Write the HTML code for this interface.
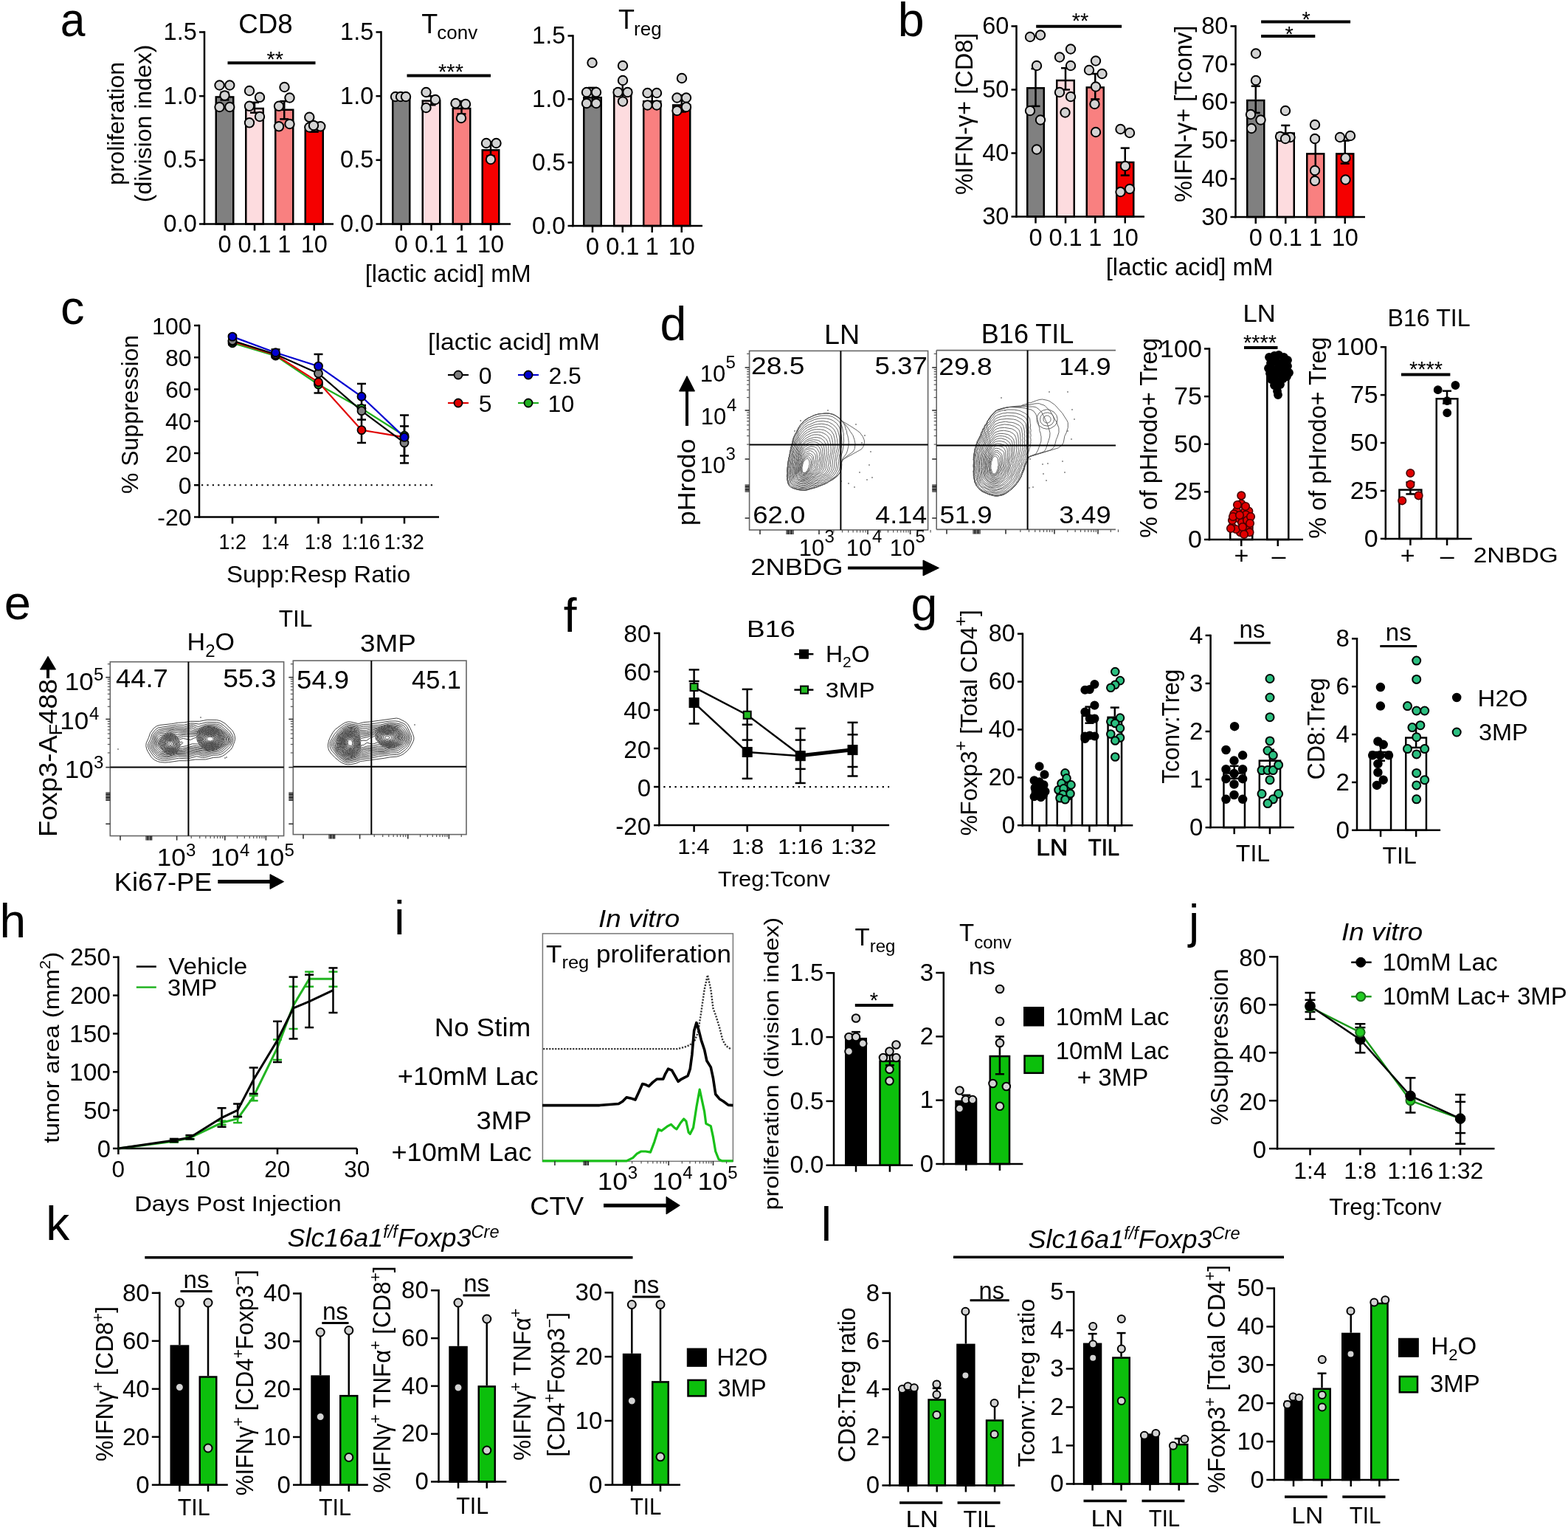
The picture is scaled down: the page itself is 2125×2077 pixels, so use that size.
<!DOCTYPE html>
<html><head><meta charset="utf-8"><title>Figure</title>
<style>html,body{margin:0;padding:0;background:#fff;}svg{display:block;}
text{font-family:"Liberation Sans", Arial, sans-serif;}</style></head>
<body><svg width="2125" height="2077" viewBox="0 0 2125 2077">
<rect x="0" y="0" width="2125" height="2077" fill="#fff"/>
<text x="81.78" y="49.4" font-size="64.5" textLength="33.69" lengthAdjust="spacingAndGlyphs">a</text>
<rect x="292.75" y="131.42" width="23.5" height="172.08" fill="#808080" stroke="#000" stroke-width="2.5"/>
<rect x="333.25" y="147.02" width="23.5" height="156.48" fill="#fddcdf" stroke="#000" stroke-width="2.5"/>
<rect x="373.25" y="148.75" width="24" height="154.75" fill="#f98080" stroke="#000" stroke-width="2.5"/>
<rect x="413.75" y="176.48" width="24" height="127.02" fill="#f50000" stroke="#000" stroke-width="2.5"/>
<line x1="304.5" y1="130.17" x2="304.5" y2="135.37" stroke="#000" stroke-width="2.5"/>
<line x1="298.5" y1="135.37" x2="310.5" y2="135.37" stroke="#000" stroke-width="2.5"/>
<line x1="304.5" y1="130.17" x2="304.5" y2="124.97" stroke="#000" stroke-width="2.5"/>
<line x1="298.5" y1="124.97" x2="310.5" y2="124.97" stroke="#000" stroke-width="2.5"/>
<line x1="345" y1="145.77" x2="345" y2="152.7" stroke="#000" stroke-width="2.5"/>
<line x1="339" y1="152.7" x2="351" y2="152.7" stroke="#000" stroke-width="2.5"/>
<line x1="345" y1="145.77" x2="345" y2="138.83" stroke="#000" stroke-width="2.5"/>
<line x1="339" y1="138.83" x2="351" y2="138.83" stroke="#000" stroke-width="2.5"/>
<line x1="385.25" y1="147.5" x2="385.25" y2="161.37" stroke="#000" stroke-width="2.5"/>
<line x1="379.25" y1="161.37" x2="391.25" y2="161.37" stroke="#000" stroke-width="2.5"/>
<line x1="385.25" y1="147.5" x2="385.25" y2="137.1" stroke="#000" stroke-width="2.5"/>
<line x1="379.25" y1="137.1" x2="391.25" y2="137.1" stroke="#000" stroke-width="2.5"/>
<line x1="425.75" y1="175.23" x2="425.75" y2="178.7" stroke="#000" stroke-width="2.5"/>
<line x1="419.75" y1="178.7" x2="431.75" y2="178.7" stroke="#000" stroke-width="2.5"/>
<line x1="425.75" y1="175.23" x2="425.75" y2="171.77" stroke="#000" stroke-width="2.5"/>
<line x1="419.75" y1="171.77" x2="431.75" y2="171.77" stroke="#000" stroke-width="2.5"/>
<circle cx="297.5" cy="115.5" r="6.2" fill="#d3d3d3" stroke="#000" stroke-width="2"/>
<circle cx="311.3" cy="115.5" r="6.2" fill="#d3d3d3" stroke="#000" stroke-width="2"/>
<circle cx="304.5" cy="129.5" r="6.2" fill="#d3d3d3" stroke="#000" stroke-width="2"/>
<circle cx="297.5" cy="145" r="6.2" fill="#d3d3d3" stroke="#000" stroke-width="2"/>
<circle cx="311.3" cy="145" r="6.2" fill="#d3d3d3" stroke="#000" stroke-width="2"/>
<circle cx="338" cy="123" r="6.2" fill="#d3d3d3" stroke="#000" stroke-width="2"/>
<circle cx="352" cy="131.8" r="6.2" fill="#d3d3d3" stroke="#000" stroke-width="2"/>
<circle cx="338" cy="143.8" r="6.2" fill="#d3d3d3" stroke="#000" stroke-width="2"/>
<circle cx="352" cy="158" r="6.2" fill="#d3d3d3" stroke="#000" stroke-width="2"/>
<circle cx="338" cy="166.3" r="6.2" fill="#d3d3d3" stroke="#000" stroke-width="2"/>
<circle cx="385.5" cy="118" r="6.2" fill="#d3d3d3" stroke="#000" stroke-width="2"/>
<circle cx="392.5" cy="132.5" r="6.2" fill="#d3d3d3" stroke="#000" stroke-width="2"/>
<circle cx="378" cy="143.8" r="6.2" fill="#d3d3d3" stroke="#000" stroke-width="2"/>
<circle cx="378" cy="171.3" r="6.2" fill="#d3d3d3" stroke="#000" stroke-width="2"/>
<circle cx="392.5" cy="168" r="6.2" fill="#d3d3d3" stroke="#000" stroke-width="2"/>
<circle cx="419.3" cy="158.8" r="6.2" fill="#d3d3d3" stroke="#000" stroke-width="2"/>
<circle cx="419.3" cy="172.5" r="6.2" fill="#d3d3d3" stroke="#000" stroke-width="2"/>
<circle cx="427.5" cy="171.3" r="6.2" fill="#d3d3d3" stroke="#000" stroke-width="2"/>
<circle cx="434.3" cy="171.3" r="6.2" fill="#d3d3d3" stroke="#000" stroke-width="2"/>
<circle cx="425" cy="170" r="6.2" fill="#d3d3d3" stroke="#000" stroke-width="2"/>
<line x1="277" y1="42.25" x2="277" y2="304.75" stroke="#000" stroke-width="2.5"/>
<line x1="275.75" y1="303.5" x2="452" y2="303.5" stroke="#000" stroke-width="2.5"/>
<line x1="270" y1="303.5" x2="277" y2="303.5" stroke="#000" stroke-width="2.5"/>
<line x1="270" y1="216.83" x2="277" y2="216.83" stroke="#000" stroke-width="2.5"/>
<line x1="270" y1="130.17" x2="277" y2="130.17" stroke="#000" stroke-width="2.5"/>
<line x1="270" y1="43.5" x2="277" y2="43.5" stroke="#000" stroke-width="2.5"/>
<text x="266.8" y="314.04" font-size="32.5" text-anchor="end">0.0</text>
<text x="266.8" y="227.37" font-size="32.5" text-anchor="end">0.5</text>
<text x="266.8" y="140.7" font-size="32.5" text-anchor="end">1.0</text>
<text x="266.8" y="54.04" font-size="32.5" text-anchor="end">1.5</text>
<line x1="304.5" y1="303.5" x2="304.5" y2="312.5" stroke="#000" stroke-width="2.5"/>
<line x1="345" y1="303.5" x2="345" y2="312.5" stroke="#000" stroke-width="2.5"/>
<line x1="385.25" y1="303.5" x2="385.25" y2="312.5" stroke="#000" stroke-width="2.5"/>
<line x1="425.75" y1="303.5" x2="425.75" y2="312.5" stroke="#000" stroke-width="2.5"/>
<text x="323.26" y="44.9" font-size="36" textLength="73.42" lengthAdjust="spacingAndGlyphs">CD8</text>
<line x1="308.5" y1="85.3" x2="427.5" y2="85.3" stroke="#000" stroke-width="4"/>
<text x="372.7" y="89.9" font-size="29" text-anchor="middle">**</text>
<text x="304.5" y="342" font-size="32.5" text-anchor="middle">0</text>
<text x="345" y="342" font-size="32.5" text-anchor="middle">0.1</text>
<text x="385.3" y="342" font-size="32.5" text-anchor="middle">1</text>
<text x="425.8" y="342" font-size="32.5" text-anchor="middle">10</text>
<text x="0" y="0" font-size="32" transform="translate(168,251.1) rotate(-90)">proliferation</text>
<text x="0" y="0" font-size="32" transform="translate(205,274.14) rotate(-90)">(division index)</text>
<rect x="532.25" y="131.42" width="23" height="172.08" fill="#808080" stroke="#000" stroke-width="2.5"/>
<rect x="572.75" y="136.62" width="23.5" height="166.88" fill="#fddcdf" stroke="#000" stroke-width="2.5"/>
<rect x="613.75" y="147.02" width="23.5" height="156.48" fill="#f98080" stroke="#000" stroke-width="2.5"/>
<rect x="653.75" y="203.35" width="22.5" height="100.15" fill="#f50000" stroke="#000" stroke-width="2.5"/>
<line x1="543.75" y1="130.17" x2="543.75" y2="131.9" stroke="#000" stroke-width="2.5"/>
<line x1="537.75" y1="131.9" x2="549.75" y2="131.9" stroke="#000" stroke-width="2.5"/>
<line x1="543.75" y1="130.17" x2="543.75" y2="128.43" stroke="#000" stroke-width="2.5"/>
<line x1="537.75" y1="128.43" x2="549.75" y2="128.43" stroke="#000" stroke-width="2.5"/>
<line x1="584.5" y1="135.37" x2="584.5" y2="142.3" stroke="#000" stroke-width="2.5"/>
<line x1="578.5" y1="142.3" x2="590.5" y2="142.3" stroke="#000" stroke-width="2.5"/>
<line x1="584.5" y1="135.37" x2="584.5" y2="130.17" stroke="#000" stroke-width="2.5"/>
<line x1="578.5" y1="130.17" x2="590.5" y2="130.17" stroke="#000" stroke-width="2.5"/>
<line x1="625.5" y1="145.77" x2="625.5" y2="154.43" stroke="#000" stroke-width="2.5"/>
<line x1="619.5" y1="154.43" x2="631.5" y2="154.43" stroke="#000" stroke-width="2.5"/>
<line x1="625.5" y1="145.77" x2="625.5" y2="137.1" stroke="#000" stroke-width="2.5"/>
<line x1="619.5" y1="137.1" x2="631.5" y2="137.1" stroke="#000" stroke-width="2.5"/>
<line x1="665" y1="202.1" x2="665" y2="211.63" stroke="#000" stroke-width="2.5"/>
<line x1="659" y1="211.63" x2="671" y2="211.63" stroke="#000" stroke-width="2.5"/>
<line x1="665" y1="202.1" x2="665" y2="192.57" stroke="#000" stroke-width="2.5"/>
<line x1="659" y1="192.57" x2="671" y2="192.57" stroke="#000" stroke-width="2.5"/>
<circle cx="536" cy="131" r="6.2" fill="#d3d3d3" stroke="#000" stroke-width="2"/>
<circle cx="543" cy="131" r="6.2" fill="#d3d3d3" stroke="#000" stroke-width="2"/>
<circle cx="550" cy="131" r="6.2" fill="#d3d3d3" stroke="#000" stroke-width="2"/>
<circle cx="577.5" cy="125" r="6.2" fill="#d3d3d3" stroke="#000" stroke-width="2"/>
<circle cx="590" cy="135" r="6.2" fill="#d3d3d3" stroke="#000" stroke-width="2"/>
<circle cx="577.5" cy="146" r="6.2" fill="#d3d3d3" stroke="#000" stroke-width="2"/>
<circle cx="617.5" cy="140" r="6.2" fill="#d3d3d3" stroke="#000" stroke-width="2"/>
<circle cx="631" cy="141" r="6.2" fill="#d3d3d3" stroke="#000" stroke-width="2"/>
<circle cx="625" cy="160" r="6.2" fill="#d3d3d3" stroke="#000" stroke-width="2"/>
<circle cx="659" cy="194" r="6.2" fill="#d3d3d3" stroke="#000" stroke-width="2"/>
<circle cx="672.5" cy="194" r="6.2" fill="#d3d3d3" stroke="#000" stroke-width="2"/>
<circle cx="665" cy="216" r="6.2" fill="#d3d3d3" stroke="#000" stroke-width="2"/>
<line x1="516.5" y1="42.25" x2="516.5" y2="304.75" stroke="#000" stroke-width="2.5"/>
<line x1="515.25" y1="303.5" x2="692" y2="303.5" stroke="#000" stroke-width="2.5"/>
<line x1="509.5" y1="303.5" x2="516.5" y2="303.5" stroke="#000" stroke-width="2.5"/>
<line x1="509.5" y1="216.83" x2="516.5" y2="216.83" stroke="#000" stroke-width="2.5"/>
<line x1="509.5" y1="130.17" x2="516.5" y2="130.17" stroke="#000" stroke-width="2.5"/>
<line x1="509.5" y1="43.5" x2="516.5" y2="43.5" stroke="#000" stroke-width="2.5"/>
<text x="506.3" y="314.04" font-size="32.5" text-anchor="end">0.0</text>
<text x="506.3" y="227.37" font-size="32.5" text-anchor="end">0.5</text>
<text x="506.3" y="140.7" font-size="32.5" text-anchor="end">1.0</text>
<text x="506.3" y="54.04" font-size="32.5" text-anchor="end">1.5</text>
<line x1="543.75" y1="303.5" x2="543.75" y2="312.5" stroke="#000" stroke-width="2.5"/>
<line x1="584.5" y1="303.5" x2="584.5" y2="312.5" stroke="#000" stroke-width="2.5"/>
<line x1="625.5" y1="303.5" x2="625.5" y2="312.5" stroke="#000" stroke-width="2.5"/>
<line x1="665" y1="303.5" x2="665" y2="312.5" stroke="#000" stroke-width="2.5"/>
<text x="571.28" y="45" font-size="36">T</text>
<text x="592.26" y="53" font-size="26">conv</text>
<line x1="551.5" y1="102.5" x2="665" y2="102.5" stroke="#000" stroke-width="4"/>
<text x="611" y="107.1" font-size="29" text-anchor="middle">***</text>
<text x="543.8" y="342" font-size="32.5" text-anchor="middle">0</text>
<text x="584.5" y="342" font-size="32.5" text-anchor="middle">0.1</text>
<text x="625.5" y="342" font-size="32.5" text-anchor="middle">1</text>
<text x="665" y="342" font-size="32.5" text-anchor="middle">10</text>
<text x="494.71" y="382" font-size="32.5" textLength="225.07" lengthAdjust="spacingAndGlyphs">[lactic acid] mM</text>
<rect x="791.25" y="132.15" width="23.5" height="173.85" fill="#808080" stroke="#000" stroke-width="2.5"/>
<rect x="832.25" y="121.85" width="23" height="184.15" fill="#fddcdf" stroke="#000" stroke-width="2.5"/>
<rect x="872.25" y="137.3" width="23" height="168.7" fill="#f98080" stroke="#000" stroke-width="2.5"/>
<rect x="912.25" y="142.45" width="23" height="163.55" fill="#f50000" stroke="#000" stroke-width="2.5"/>
<line x1="803" y1="130.9" x2="803" y2="142.92" stroke="#000" stroke-width="2.5"/>
<line x1="797" y1="142.92" x2="809" y2="142.92" stroke="#000" stroke-width="2.5"/>
<line x1="803" y1="130.9" x2="803" y2="118.88" stroke="#000" stroke-width="2.5"/>
<line x1="797" y1="118.88" x2="809" y2="118.88" stroke="#000" stroke-width="2.5"/>
<line x1="843.75" y1="120.6" x2="843.75" y2="134.33" stroke="#000" stroke-width="2.5"/>
<line x1="837.75" y1="134.33" x2="849.75" y2="134.33" stroke="#000" stroke-width="2.5"/>
<line x1="843.75" y1="120.6" x2="843.75" y2="110.3" stroke="#000" stroke-width="2.5"/>
<line x1="837.75" y1="110.3" x2="849.75" y2="110.3" stroke="#000" stroke-width="2.5"/>
<line x1="883.75" y1="136.05" x2="883.75" y2="141.2" stroke="#000" stroke-width="2.5"/>
<line x1="877.75" y1="141.2" x2="889.75" y2="141.2" stroke="#000" stroke-width="2.5"/>
<line x1="883.75" y1="136.05" x2="883.75" y2="129.18" stroke="#000" stroke-width="2.5"/>
<line x1="877.75" y1="129.18" x2="889.75" y2="129.18" stroke="#000" stroke-width="2.5"/>
<line x1="923.75" y1="141.2" x2="923.75" y2="151.5" stroke="#000" stroke-width="2.5"/>
<line x1="917.75" y1="151.5" x2="929.75" y2="151.5" stroke="#000" stroke-width="2.5"/>
<line x1="923.75" y1="141.2" x2="923.75" y2="129.18" stroke="#000" stroke-width="2.5"/>
<line x1="917.75" y1="129.18" x2="929.75" y2="129.18" stroke="#000" stroke-width="2.5"/>
<circle cx="802.5" cy="85" r="6.2" fill="#d3d3d3" stroke="#000" stroke-width="2"/>
<circle cx="795" cy="125" r="6.2" fill="#d3d3d3" stroke="#000" stroke-width="2"/>
<circle cx="808" cy="125" r="6.2" fill="#d3d3d3" stroke="#000" stroke-width="2"/>
<circle cx="795" cy="140" r="6.2" fill="#d3d3d3" stroke="#000" stroke-width="2"/>
<circle cx="808" cy="140" r="6.2" fill="#d3d3d3" stroke="#000" stroke-width="2"/>
<circle cx="844" cy="89" r="6.2" fill="#d3d3d3" stroke="#000" stroke-width="2"/>
<circle cx="844" cy="109" r="6.2" fill="#d3d3d3" stroke="#000" stroke-width="2"/>
<circle cx="837.5" cy="125" r="6.2" fill="#d3d3d3" stroke="#000" stroke-width="2"/>
<circle cx="850.5" cy="125" r="6.2" fill="#d3d3d3" stroke="#000" stroke-width="2"/>
<circle cx="844" cy="137.5" r="6.2" fill="#d3d3d3" stroke="#000" stroke-width="2"/>
<circle cx="877.5" cy="126" r="6.2" fill="#d3d3d3" stroke="#000" stroke-width="2"/>
<circle cx="890" cy="126" r="6.2" fill="#d3d3d3" stroke="#000" stroke-width="2"/>
<circle cx="877.5" cy="142.5" r="6.2" fill="#d3d3d3" stroke="#000" stroke-width="2"/>
<circle cx="890" cy="142.5" r="6.2" fill="#d3d3d3" stroke="#000" stroke-width="2"/>
<circle cx="924" cy="106" r="6.2" fill="#d3d3d3" stroke="#000" stroke-width="2"/>
<circle cx="917.5" cy="132.5" r="6.2" fill="#d3d3d3" stroke="#000" stroke-width="2"/>
<circle cx="930" cy="132.5" r="6.2" fill="#d3d3d3" stroke="#000" stroke-width="2"/>
<circle cx="917.5" cy="150" r="6.2" fill="#d3d3d3" stroke="#000" stroke-width="2"/>
<circle cx="930" cy="145" r="6.2" fill="#d3d3d3" stroke="#000" stroke-width="2"/>
<line x1="776.5" y1="47.25" x2="776.5" y2="307.25" stroke="#000" stroke-width="2.5"/>
<line x1="775.25" y1="306" x2="952" y2="306" stroke="#000" stroke-width="2.5"/>
<line x1="769.5" y1="306" x2="776.5" y2="306" stroke="#000" stroke-width="2.5"/>
<line x1="769.5" y1="220.17" x2="776.5" y2="220.17" stroke="#000" stroke-width="2.5"/>
<line x1="769.5" y1="134.33" x2="776.5" y2="134.33" stroke="#000" stroke-width="2.5"/>
<line x1="769.5" y1="48.5" x2="776.5" y2="48.5" stroke="#000" stroke-width="2.5"/>
<text x="766.3" y="316.54" font-size="32.5" text-anchor="end">0.0</text>
<text x="766.3" y="230.7" font-size="32.5" text-anchor="end">0.5</text>
<text x="766.3" y="144.87" font-size="32.5" text-anchor="end">1.0</text>
<text x="766.3" y="59.04" font-size="32.5" text-anchor="end">1.5</text>
<line x1="803" y1="306" x2="803" y2="315" stroke="#000" stroke-width="2.5"/>
<line x1="843.75" y1="306" x2="843.75" y2="315" stroke="#000" stroke-width="2.5"/>
<line x1="883.75" y1="306" x2="883.75" y2="315" stroke="#000" stroke-width="2.5"/>
<line x1="923.75" y1="306" x2="923.75" y2="315" stroke="#000" stroke-width="2.5"/>
<text x="838.08" y="39" font-size="36">T</text>
<text x="859.11" y="48.4" font-size="26">reg</text>
<text x="803" y="345" font-size="32.5" text-anchor="middle">0</text>
<text x="843.8" y="345" font-size="32.5" text-anchor="middle">0.1</text>
<text x="883.8" y="345" font-size="32.5" text-anchor="middle">1</text>
<text x="923.8" y="345" font-size="32.5" text-anchor="middle">10</text>
<text x="1216.71" y="49.2" font-size="64.5">b</text>
<rect x="1392.25" y="119.31" width="22.5" height="174.19" fill="#808080" stroke="#000" stroke-width="2.5"/>
<rect x="1432.25" y="108.99" width="23.5" height="184.51" fill="#fddcdf" stroke="#000" stroke-width="2.5"/>
<rect x="1472.75" y="118.45" width="23" height="175.05" fill="#f98080" stroke="#000" stroke-width="2.5"/>
<rect x="1513.25" y="219.93" width="23" height="73.57" fill="#f50000" stroke="#000" stroke-width="2.5"/>
<line x1="1403.5" y1="118.06" x2="1403.5" y2="143.86" stroke="#000" stroke-width="2.5"/>
<line x1="1397.5" y1="143.86" x2="1409.5" y2="143.86" stroke="#000" stroke-width="2.5"/>
<line x1="1403.5" y1="118.06" x2="1403.5" y2="93.12" stroke="#000" stroke-width="2.5"/>
<line x1="1397.5" y1="93.12" x2="1409.5" y2="93.12" stroke="#000" stroke-width="2.5"/>
<line x1="1444" y1="107.74" x2="1444" y2="121.5" stroke="#000" stroke-width="2.5"/>
<line x1="1438" y1="121.5" x2="1450" y2="121.5" stroke="#000" stroke-width="2.5"/>
<line x1="1444" y1="107.74" x2="1444" y2="92.26" stroke="#000" stroke-width="2.5"/>
<line x1="1438" y1="92.26" x2="1450" y2="92.26" stroke="#000" stroke-width="2.5"/>
<line x1="1484.25" y1="117.2" x2="1484.25" y2="134.4" stroke="#000" stroke-width="2.5"/>
<line x1="1478.25" y1="134.4" x2="1490.25" y2="134.4" stroke="#000" stroke-width="2.5"/>
<line x1="1484.25" y1="117.2" x2="1484.25" y2="100" stroke="#000" stroke-width="2.5"/>
<line x1="1478.25" y1="100" x2="1490.25" y2="100" stroke="#000" stroke-width="2.5"/>
<line x1="1524.75" y1="218.68" x2="1524.75" y2="237.6" stroke="#000" stroke-width="2.5"/>
<line x1="1518.75" y1="237.6" x2="1530.75" y2="237.6" stroke="#000" stroke-width="2.5"/>
<line x1="1524.75" y1="218.68" x2="1524.75" y2="200.62" stroke="#000" stroke-width="2.5"/>
<line x1="1518.75" y1="200.62" x2="1530.75" y2="200.62" stroke="#000" stroke-width="2.5"/>
<circle cx="1396" cy="50" r="6.2" fill="#d3d3d3" stroke="#000" stroke-width="2"/>
<circle cx="1410" cy="47.5" r="6.2" fill="#d3d3d3" stroke="#000" stroke-width="2"/>
<circle cx="1405" cy="89" r="6.2" fill="#d3d3d3" stroke="#000" stroke-width="2"/>
<circle cx="1396" cy="150" r="6.2" fill="#d3d3d3" stroke="#000" stroke-width="2"/>
<circle cx="1410" cy="162.5" r="6.2" fill="#d3d3d3" stroke="#000" stroke-width="2"/>
<circle cx="1405" cy="202.5" r="6.2" fill="#d3d3d3" stroke="#000" stroke-width="2"/>
<circle cx="1436" cy="77.5" r="6.2" fill="#d3d3d3" stroke="#000" stroke-width="2"/>
<circle cx="1451" cy="66.5" r="6.2" fill="#d3d3d3" stroke="#000" stroke-width="2"/>
<circle cx="1451" cy="89" r="6.2" fill="#d3d3d3" stroke="#000" stroke-width="2"/>
<circle cx="1436" cy="125" r="6.2" fill="#d3d3d3" stroke="#000" stroke-width="2"/>
<circle cx="1451" cy="131" r="6.2" fill="#d3d3d3" stroke="#000" stroke-width="2"/>
<circle cx="1443.5" cy="152.5" r="6.2" fill="#d3d3d3" stroke="#000" stroke-width="2"/>
<circle cx="1485" cy="82.5" r="6.2" fill="#d3d3d3" stroke="#000" stroke-width="2"/>
<circle cx="1476" cy="95" r="6.2" fill="#d3d3d3" stroke="#000" stroke-width="2"/>
<circle cx="1493.5" cy="100" r="6.2" fill="#d3d3d3" stroke="#000" stroke-width="2"/>
<circle cx="1485" cy="117.5" r="6.2" fill="#d3d3d3" stroke="#000" stroke-width="2"/>
<circle cx="1483.5" cy="141" r="6.2" fill="#d3d3d3" stroke="#000" stroke-width="2"/>
<circle cx="1485" cy="179" r="6.2" fill="#d3d3d3" stroke="#000" stroke-width="2"/>
<circle cx="1518.5" cy="175" r="6.2" fill="#d3d3d3" stroke="#000" stroke-width="2"/>
<circle cx="1531" cy="180" r="6.2" fill="#d3d3d3" stroke="#000" stroke-width="2"/>
<circle cx="1525" cy="225" r="6.2" fill="#d3d3d3" stroke="#000" stroke-width="2"/>
<circle cx="1518.5" cy="260" r="6.2" fill="#d3d3d3" stroke="#000" stroke-width="2"/>
<circle cx="1531" cy="256" r="6.2" fill="#d3d3d3" stroke="#000" stroke-width="2"/>
<line x1="1377.5" y1="34.25" x2="1377.5" y2="294.75" stroke="#000" stroke-width="2.5"/>
<line x1="1376.25" y1="293.5" x2="1551" y2="293.5" stroke="#000" stroke-width="2.5"/>
<line x1="1370.5" y1="293.5" x2="1377.5" y2="293.5" stroke="#000" stroke-width="2.5"/>
<line x1="1370.5" y1="207.5" x2="1377.5" y2="207.5" stroke="#000" stroke-width="2.5"/>
<line x1="1370.5" y1="121.5" x2="1377.5" y2="121.5" stroke="#000" stroke-width="2.5"/>
<line x1="1370.5" y1="35.5" x2="1377.5" y2="35.5" stroke="#000" stroke-width="2.5"/>
<text x="1367.3" y="304.04" font-size="32.5" text-anchor="end">30</text>
<text x="1367.3" y="218.04" font-size="32.5" text-anchor="end">40</text>
<text x="1367.3" y="132.04" font-size="32.5" text-anchor="end">50</text>
<text x="1367.3" y="46.04" font-size="32.5" text-anchor="end">60</text>
<line x1="1403.5" y1="293.5" x2="1403.5" y2="302.5" stroke="#000" stroke-width="2.5"/>
<line x1="1444" y1="293.5" x2="1444" y2="302.5" stroke="#000" stroke-width="2.5"/>
<line x1="1484.25" y1="293.5" x2="1484.25" y2="302.5" stroke="#000" stroke-width="2.5"/>
<line x1="1524.75" y1="293.5" x2="1524.75" y2="302.5" stroke="#000" stroke-width="2.5"/>
<line x1="1404.2" y1="35.8" x2="1520.1" y2="35.8" stroke="#000" stroke-width="4"/>
<text x="1464.1" y="38" font-size="29" text-anchor="middle">**</text>
<text x="1403.5" y="332.5" font-size="32.5" text-anchor="middle">0</text>
<text x="1444" y="332.5" font-size="32.5" text-anchor="middle">0.1</text>
<text x="1484.3" y="332.5" font-size="32.5" text-anchor="middle">1</text>
<text x="1524.8" y="332.5" font-size="32.5" text-anchor="middle">10</text>
<text x="0" y="0" font-size="32.5" transform="translate(1318,264.12) rotate(-90)">%IFN-γ+ [CD8]</text>
<rect x="1690.25" y="136.01" width="23" height="157.99" fill="#808080" stroke="#000" stroke-width="2.5"/>
<rect x="1730.75" y="180.48" width="23" height="113.52" fill="#fddcdf" stroke="#000" stroke-width="2.5"/>
<rect x="1771.25" y="208.39" width="23" height="85.61" fill="#f98080" stroke="#000" stroke-width="2.5"/>
<rect x="1811.25" y="208.39" width="23" height="85.61" fill="#f50000" stroke="#000" stroke-width="2.5"/>
<line x1="1701.75" y1="134.76" x2="1701.75" y2="152.86" stroke="#000" stroke-width="2.5"/>
<line x1="1695.75" y1="152.86" x2="1707.75" y2="152.86" stroke="#000" stroke-width="2.5"/>
<line x1="1701.75" y1="134.76" x2="1701.75" y2="116.67" stroke="#000" stroke-width="2.5"/>
<line x1="1695.75" y1="116.67" x2="1707.75" y2="116.67" stroke="#000" stroke-width="2.5"/>
<line x1="1742.25" y1="179.23" x2="1742.25" y2="186.98" stroke="#000" stroke-width="2.5"/>
<line x1="1736.25" y1="186.98" x2="1748.25" y2="186.98" stroke="#000" stroke-width="2.5"/>
<line x1="1742.25" y1="179.23" x2="1742.25" y2="169.92" stroke="#000" stroke-width="2.5"/>
<line x1="1736.25" y1="169.92" x2="1748.25" y2="169.92" stroke="#000" stroke-width="2.5"/>
<line x1="1782.75" y1="207.14" x2="1782.75" y2="229.38" stroke="#000" stroke-width="2.5"/>
<line x1="1776.75" y1="229.38" x2="1788.75" y2="229.38" stroke="#000" stroke-width="2.5"/>
<line x1="1782.75" y1="207.14" x2="1782.75" y2="185.43" stroke="#000" stroke-width="2.5"/>
<line x1="1776.75" y1="185.43" x2="1788.75" y2="185.43" stroke="#000" stroke-width="2.5"/>
<line x1="1822.75" y1="207.14" x2="1822.75" y2="221.62" stroke="#000" stroke-width="2.5"/>
<line x1="1816.75" y1="221.62" x2="1828.75" y2="221.62" stroke="#000" stroke-width="2.5"/>
<line x1="1822.75" y1="207.14" x2="1822.75" y2="190.6" stroke="#000" stroke-width="2.5"/>
<line x1="1816.75" y1="190.6" x2="1828.75" y2="190.6" stroke="#000" stroke-width="2.5"/>
<circle cx="1702" cy="72.5" r="6.2" fill="#d3d3d3" stroke="#000" stroke-width="2"/>
<circle cx="1702" cy="109" r="6.2" fill="#d3d3d3" stroke="#000" stroke-width="2"/>
<circle cx="1695" cy="155" r="6.2" fill="#d3d3d3" stroke="#000" stroke-width="2"/>
<circle cx="1708.5" cy="162.5" r="6.2" fill="#d3d3d3" stroke="#000" stroke-width="2"/>
<circle cx="1696" cy="174" r="6.2" fill="#d3d3d3" stroke="#000" stroke-width="2"/>
<circle cx="1742" cy="150" r="6.2" fill="#d3d3d3" stroke="#000" stroke-width="2"/>
<circle cx="1735" cy="185" r="6.2" fill="#d3d3d3" stroke="#000" stroke-width="2"/>
<circle cx="1748.5" cy="186" r="6.2" fill="#d3d3d3" stroke="#000" stroke-width="2"/>
<circle cx="1742" cy="188" r="6.2" fill="#d3d3d3" stroke="#000" stroke-width="2"/>
<circle cx="1782" cy="169" r="6.2" fill="#d3d3d3" stroke="#000" stroke-width="2"/>
<circle cx="1782" cy="188" r="6.2" fill="#d3d3d3" stroke="#000" stroke-width="2"/>
<circle cx="1782" cy="231" r="6.2" fill="#d3d3d3" stroke="#000" stroke-width="2"/>
<circle cx="1782" cy="245" r="6.2" fill="#d3d3d3" stroke="#000" stroke-width="2"/>
<circle cx="1816" cy="186" r="6.2" fill="#d3d3d3" stroke="#000" stroke-width="2"/>
<circle cx="1830" cy="184" r="6.2" fill="#d3d3d3" stroke="#000" stroke-width="2"/>
<circle cx="1823.5" cy="214" r="6.2" fill="#d3d3d3" stroke="#000" stroke-width="2"/>
<circle cx="1823.5" cy="243.5" r="6.2" fill="#d3d3d3" stroke="#000" stroke-width="2"/>
<line x1="1674.5" y1="34.25" x2="1674.5" y2="295.25" stroke="#000" stroke-width="2.5"/>
<line x1="1673.25" y1="294" x2="1850" y2="294" stroke="#000" stroke-width="2.5"/>
<line x1="1667.5" y1="294" x2="1674.5" y2="294" stroke="#000" stroke-width="2.5"/>
<line x1="1667.5" y1="242.3" x2="1674.5" y2="242.3" stroke="#000" stroke-width="2.5"/>
<line x1="1667.5" y1="190.6" x2="1674.5" y2="190.6" stroke="#000" stroke-width="2.5"/>
<line x1="1667.5" y1="138.9" x2="1674.5" y2="138.9" stroke="#000" stroke-width="2.5"/>
<line x1="1667.5" y1="87.2" x2="1674.5" y2="87.2" stroke="#000" stroke-width="2.5"/>
<line x1="1667.5" y1="35.5" x2="1674.5" y2="35.5" stroke="#000" stroke-width="2.5"/>
<text x="1664.3" y="304.54" font-size="32.5" text-anchor="end">30</text>
<text x="1664.3" y="252.84" font-size="32.5" text-anchor="end">40</text>
<text x="1664.3" y="201.14" font-size="32.5" text-anchor="end">50</text>
<text x="1664.3" y="149.44" font-size="32.5" text-anchor="end">60</text>
<text x="1664.3" y="97.74" font-size="32.5" text-anchor="end">70</text>
<text x="1664.3" y="46.04" font-size="32.5" text-anchor="end">80</text>
<line x1="1701.75" y1="294" x2="1701.75" y2="303" stroke="#000" stroke-width="2.5"/>
<line x1="1742.25" y1="294" x2="1742.25" y2="303" stroke="#000" stroke-width="2.5"/>
<line x1="1782.75" y1="294" x2="1782.75" y2="303" stroke="#000" stroke-width="2.5"/>
<line x1="1822.75" y1="294" x2="1822.75" y2="303" stroke="#000" stroke-width="2.5"/>
<line x1="1709.1" y1="29.6" x2="1830.1" y2="29.6" stroke="#000" stroke-width="4"/>
<text x="1770.2" y="35.7" font-size="29" text-anchor="middle">*</text>
<line x1="1709.1" y1="49" x2="1782.3" y2="49" stroke="#000" stroke-width="4"/>
<text x="1747.1" y="55.7" font-size="29" text-anchor="middle">*</text>
<text x="1701.8" y="332.5" font-size="32.5" text-anchor="middle">0</text>
<text x="1742.3" y="332.5" font-size="32.5" text-anchor="middle">0.1</text>
<text x="1782.8" y="332.5" font-size="32.5" text-anchor="middle">1</text>
<text x="1822.8" y="332.5" font-size="32.5" text-anchor="middle">10</text>
<text x="0" y="0" font-size="32.5" transform="translate(1615,274.03) rotate(-90)">%IFN-γ+ [Tconv]</text>
<text x="1498.7" y="372.5" font-size="32.5" textLength="226.61" lengthAdjust="spacingAndGlyphs">[lactic acid] mM</text>
<text x="82.1" y="439.2" font-size="65">c</text>
<line x1="270" y1="439.75" x2="270" y2="701.75" stroke="#000" stroke-width="2.5"/>
<line x1="268.75" y1="700.5" x2="595" y2="700.5" stroke="#000" stroke-width="2.5"/>
<line x1="263" y1="700.5" x2="270" y2="700.5" stroke="#000" stroke-width="2.5"/>
<text x="259.5" y="712" font-size="32" text-anchor="end">-20</text>
<line x1="263" y1="657.25" x2="270" y2="657.25" stroke="#000" stroke-width="2.5"/>
<text x="259.5" y="668.75" font-size="32" text-anchor="end">0</text>
<line x1="263" y1="614" x2="270" y2="614" stroke="#000" stroke-width="2.5"/>
<text x="259.5" y="625.5" font-size="32" text-anchor="end">20</text>
<line x1="263" y1="570.75" x2="270" y2="570.75" stroke="#000" stroke-width="2.5"/>
<text x="259.5" y="582.25" font-size="32" text-anchor="end">40</text>
<line x1="263" y1="527.5" x2="270" y2="527.5" stroke="#000" stroke-width="2.5"/>
<text x="259.5" y="539" font-size="32" text-anchor="end">60</text>
<line x1="263" y1="484.25" x2="270" y2="484.25" stroke="#000" stroke-width="2.5"/>
<text x="259.5" y="495.75" font-size="32" text-anchor="end">80</text>
<line x1="263" y1="441" x2="270" y2="441" stroke="#000" stroke-width="2.5"/>
<text x="259.5" y="452.5" font-size="32" text-anchor="end">100</text>
<line x1="315" y1="700.5" x2="315" y2="709.5" stroke="#000" stroke-width="2.5"/>
<line x1="373.5" y1="700.5" x2="373.5" y2="709.5" stroke="#000" stroke-width="2.5"/>
<line x1="431.5" y1="700.5" x2="431.5" y2="709.5" stroke="#000" stroke-width="2.5"/>
<line x1="490" y1="700.5" x2="490" y2="709.5" stroke="#000" stroke-width="2.5"/>
<line x1="548" y1="700.5" x2="548" y2="709.5" stroke="#000" stroke-width="2.5"/>
<text x="296.48" y="744" font-size="30" textLength="37.36" lengthAdjust="spacingAndGlyphs">1:2</text>
<text x="354.49" y="744" font-size="30" textLength="37.32" lengthAdjust="spacingAndGlyphs">1:4</text>
<text x="413" y="744" font-size="30" textLength="37.07" lengthAdjust="spacingAndGlyphs">1:8</text>
<text x="462.99" y="744" font-size="30" textLength="52.11" lengthAdjust="spacingAndGlyphs">1:16</text>
<text x="520.4" y="744" font-size="30" textLength="54.54" lengthAdjust="spacingAndGlyphs">1:32</text>
<text x="307.02" y="789" font-size="32" textLength="249.31" lengthAdjust="spacingAndGlyphs">Supp:Resp Ratio</text>
<text x="0" y="0" font-size="32" transform="translate(187,669.12) rotate(-90)">% Suppression</text>
<line x1="273" y1="657.25" x2="590" y2="657.25" stroke="#000" stroke-width="2.2" stroke-dasharray="2.2,5.2"/>
<line x1="315" y1="466.95" x2="315" y2="453.98" stroke="#000" stroke-width="2.5"/>
<line x1="309" y1="466.95" x2="321" y2="466.95" stroke="#000" stroke-width="2.5"/>
<line x1="309" y1="453.98" x2="321" y2="453.98" stroke="#000" stroke-width="2.5"/>
<line x1="373.5" y1="484.25" x2="373.5" y2="473.44" stroke="#000" stroke-width="2.5"/>
<line x1="367.5" y1="484.25" x2="379.5" y2="484.25" stroke="#000" stroke-width="2.5"/>
<line x1="367.5" y1="473.44" x2="379.5" y2="473.44" stroke="#000" stroke-width="2.5"/>
<line x1="431.5" y1="532.47" x2="431.5" y2="479.93" stroke="#000" stroke-width="2.5"/>
<line x1="425.5" y1="532.47" x2="437.5" y2="532.47" stroke="#000" stroke-width="2.5"/>
<line x1="425.5" y1="479.93" x2="437.5" y2="479.93" stroke="#000" stroke-width="2.5"/>
<line x1="490" y1="599.94" x2="490" y2="519.93" stroke="#000" stroke-width="2.5"/>
<line x1="484" y1="599.94" x2="496" y2="599.94" stroke="#000" stroke-width="2.5"/>
<line x1="484" y1="519.93" x2="496" y2="519.93" stroke="#000" stroke-width="2.5"/>
<line x1="490" y1="568.59" x2="490" y2="549.12" stroke="#000" stroke-width="2.5"/>
<line x1="484" y1="568.59" x2="496" y2="568.59" stroke="#000" stroke-width="2.5"/>
<line x1="484" y1="549.12" x2="496" y2="549.12" stroke="#000" stroke-width="2.5"/>
<line x1="548" y1="627.41" x2="548" y2="562.53" stroke="#000" stroke-width="2.5"/>
<line x1="542" y1="627.41" x2="554" y2="627.41" stroke="#000" stroke-width="2.5"/>
<line x1="542" y1="562.53" x2="554" y2="562.53" stroke="#000" stroke-width="2.5"/>
<line x1="548" y1="617.46" x2="548" y2="577.45" stroke="#000" stroke-width="2.5"/>
<line x1="542" y1="617.46" x2="554" y2="617.46" stroke="#000" stroke-width="2.5"/>
<line x1="542" y1="577.45" x2="554" y2="577.45" stroke="#000" stroke-width="2.5"/>
<path d="M315,464.79 L373.5,482.09 L431.5,521.01 L490,553.45 L548,590.21" stroke="#20b020" stroke-width="2.2" fill="none"/>
<path d="M315,462.62 L373.5,481.01 L431.5,517.77 L490,582.64 L548,592.38" stroke="#e00000" stroke-width="2.2" fill="none"/>
<path d="M315,461.54 L373.5,479.93 L431.5,505.88 L490,556.69 L548,599.94" stroke="#000" stroke-width="2.2" fill="none"/>
<path d="M315,456.14 L373.5,477.76 L431.5,496.14 L490,537.23 L548,592.38" stroke="#0000d0" stroke-width="2.2" fill="none"/>
<circle cx="315" cy="464.79" r="5.5" fill="#20b020" stroke="#000" stroke-width="1.8"/>
<circle cx="373.5" cy="482.09" r="5.5" fill="#20b020" stroke="#000" stroke-width="1.8"/>
<circle cx="431.5" cy="521.01" r="5.5" fill="#20b020" stroke="#000" stroke-width="1.8"/>
<circle cx="490" cy="553.45" r="5.5" fill="#20b020" stroke="#000" stroke-width="1.8"/>
<circle cx="548" cy="590.21" r="5.5" fill="#20b020" stroke="#000" stroke-width="1.8"/>
<circle cx="315" cy="462.62" r="5.5" fill="#e00000" stroke="#000" stroke-width="1.8"/>
<circle cx="373.5" cy="481.01" r="5.5" fill="#e00000" stroke="#000" stroke-width="1.8"/>
<circle cx="431.5" cy="517.77" r="5.5" fill="#e00000" stroke="#000" stroke-width="1.8"/>
<circle cx="490" cy="582.64" r="5.5" fill="#e00000" stroke="#000" stroke-width="1.8"/>
<circle cx="548" cy="592.38" r="5.5" fill="#e00000" stroke="#000" stroke-width="1.8"/>
<circle cx="315" cy="461.54" r="5.5" fill="#808080" stroke="#000" stroke-width="1.8"/>
<circle cx="373.5" cy="479.93" r="5.5" fill="#808080" stroke="#000" stroke-width="1.8"/>
<circle cx="431.5" cy="505.88" r="5.5" fill="#808080" stroke="#000" stroke-width="1.8"/>
<circle cx="490" cy="556.69" r="5.5" fill="#808080" stroke="#000" stroke-width="1.8"/>
<circle cx="548" cy="599.94" r="5.5" fill="#808080" stroke="#000" stroke-width="1.8"/>
<circle cx="315" cy="456.14" r="5.5" fill="#0000d0" stroke="#000" stroke-width="1.8"/>
<circle cx="373.5" cy="477.76" r="5.5" fill="#0000d0" stroke="#000" stroke-width="1.8"/>
<circle cx="431.5" cy="496.14" r="5.5" fill="#0000d0" stroke="#000" stroke-width="1.8"/>
<circle cx="490" cy="537.23" r="5.5" fill="#0000d0" stroke="#000" stroke-width="1.8"/>
<circle cx="548" cy="592.38" r="5.5" fill="#0000d0" stroke="#000" stroke-width="1.8"/>
<text x="580.14" y="474" font-size="32" textLength="232.74" lengthAdjust="spacingAndGlyphs">[lactic acid] mM</text>
<line x1="607" y1="508" x2="635" y2="508" stroke="#000" stroke-width="2.2"/>
<circle cx="621" cy="508" r="5.5" fill="#808080" stroke="#000" stroke-width="1.8"/>
<text x="648.72" y="520" font-size="32">0</text>
<line x1="702" y1="508" x2="730" y2="508" stroke="#0000d0" stroke-width="2.2"/>
<circle cx="716" cy="508" r="5.5" fill="#0000d0" stroke="#000" stroke-width="1.8"/>
<text x="743.4" y="520" font-size="32">2.5</text>
<line x1="607" y1="546" x2="635" y2="546" stroke="#e00000" stroke-width="2.2"/>
<circle cx="621" cy="546" r="5.5" fill="#e00000" stroke="#000" stroke-width="1.8"/>
<text x="648.72" y="558" font-size="32">5</text>
<line x1="702" y1="546" x2="730" y2="546" stroke="#20b020" stroke-width="2.2"/>
<circle cx="716" cy="546" r="5.5" fill="#20b020" stroke="#000" stroke-width="1.8"/>
<text x="742.6" y="558" font-size="32">10</text>
<text x="894.62" y="461.4" font-size="64.5">d</text>
<path d="M1067.5,631.0 1068.2,624.6 1069.0,620.0 1069.5,618.8 1069.4,617.9 1069.9,617.4 1070.5,613.5 1070.9,612.9 1070.9,609.9 1071.4,609.3 1071.3,608.0 1071.9,607.5 1072.0,604.9 1072.7,604.4 1073.0,601.8 1073.8,601.3 1074.5,596.7 1075.9,592.1 1077.1,589.0 1079.7,584.9 1080.4,582.5 1081.4,581.3 1082.4,579.1 1083.6,577.9 1084.7,575.9 1086.1,574.9 1090.4,569.8 1092.0,569.2 1095.4,566.5 1104.8,562.2 1110.8,560.7 1119.3,560.0 1123.5,560.2 1127.6,561.1 1133.3,563.6 1136.8,565.9 1141.1,570.4 1153.9,578.1 1161.6,583.2 1165.3,586.1 1169.3,591.6 1171.1,595.8 1171.5,598.1 1171.3,600.5 1170.6,603.2 1169.5,605.8 1167.3,608.7 1144.8,621.2 1142.3,623.0 1139.8,626.0 1139.2,629.8 1139.7,633.5 1139.1,638.5 1138.0,640.8 1135.3,643.8 1133.2,645.6 1129.7,647.8 1129.2,648.7 1124.9,651.1 1124.3,652.0 1122.3,653.0 1121.6,653.7 1115.8,656.1 1115.2,656.8 1108.3,659.2 1105.2,660.7 1091.1,664.6 1084.1,663.8 1079.7,663.0 1078.1,662.3 1076.1,662.2 1071.3,659.5 1069.4,657.4 1068.5,655.8 1067.5,650.9 1066.9,650.2 1067.0,646.3 1066.6,645.7 1067.2,641.3 1067.0,636.3 1067.5,631.6 Z M1067.6,631.0 1069.0,620.0 1069.7,618.9 1069.6,618.1 1070.3,616.1 1070.1,615.1 1070.6,614.5 1070.4,613.5 1070.8,612.9 1070.7,611.8 1071.2,611.3 1071.0,610.0 1071.6,609.5 1071.6,608.3 1072.1,607.7 1072.1,605.1 1072.7,604.4 1072.9,601.6 1073.7,601.1 1074.4,596.5 1075.3,593.6 1078.0,587.8 1079.7,585.1 1080.4,582.7 1084.7,575.7 1086.1,574.6 1090.4,569.7 1095.4,566.5 1102.8,562.8 1108.8,560.9 1119.2,560.0 1123.5,560.3 1127.6,561.2 1131.5,562.7 1136.6,566.1 1143.9,573.4 1150.3,581.2 1152.3,584.7 1155.8,589.6 1157.8,595.3 1159.0,601.2 1158.4,607.5 1157.3,609.8 1156.0,612.0 1145.9,619.5 1141.8,623.1 1141.5,624.5 1140.6,625.9 1139.9,634.8 1138.9,639.7 1135.7,643.9 1128.5,649.6 1124.5,652.1 1122.3,653.0 1121.7,653.8 1118.7,655.0 1118.1,655.7 1103.6,661.2 1099.4,661.9 1093.7,664.0 1091.1,664.3 1084.1,664.1 1080.5,663.4 1072.8,660.5 1070.5,659.1 1069.2,657.7 1067.9,655.1 1067.2,651.0 1066.7,650.4 1066.6,646.6 1066.1,645.9 1066.9,641.4 1066.9,636.3 1067.4,631.6 Z M1067.3,631.0 1067.3,628.4 1069.9,617.5 1069.8,616.6 1070.2,616.0 1070.0,615.0 1070.5,614.5 1070.3,613.4 1070.8,612.9 1070.6,611.7 1071.1,611.1 1071.0,610.0 1071.6,609.5 1071.6,608.3 1072.2,607.8 1072.0,604.9 1072.8,604.6 1072.8,601.5 1073.7,601.1 1074.0,597.9 1075.2,593.3 1076.4,590.5 1079.7,585.2 1080.5,583.0 1081.5,581.7 1082.4,579.3 1084.7,575.7 1090.4,569.3 1095.4,566.1 1097.1,565.7 1102.8,562.8 1108.8,561.2 1119.3,559.9 1123.6,560.0 1129.8,561.4 1138.5,567.0 1143.5,573.8 1145.3,577.7 1146.4,582.0 1147.4,583.7 1147.9,588.1 1148.7,589.8 1149.5,593.7 1150.3,599.4 1149.6,605.4 1148.3,611.1 1146.8,614.8 1141.7,621.8 1140.6,627.2 1140.8,629.7 1140.1,636.1 1138.7,639.6 1133.9,645.8 1129.9,649.1 1122.3,653.0 1121.8,653.8 1118.1,655.8 1113.3,657.3 1107.7,659.9 1104.2,660.4 1098.7,662.3 1092.0,663.8 1087.6,664.2 1079.7,663.1 1072.8,660.6 1070.6,658.9 1068.1,654.9 1066.9,650.3 1067.5,646.0 1067.1,642.9 1067.6,641.1 1067.0,640.6 1066.6,636.4 1067.0,635.6 1066.8,635.0 1067.4,631.6 Z M1068.8,631.0 1068.8,626.7 1069.8,622.5 1069.8,620.4 1070.7,617.9 1070.8,615.6 1071.3,615.1 1071.3,614.2 1071.7,613.7 1071.5,612.6 1072.4,610.4 1072.3,609.1 1072.8,608.5 1072.8,606.0 1073.5,605.6 1073.6,602.7 1074.4,602.3 1076.0,595.0 1082.7,581.1 1083.9,580.0 1085.0,577.9 1086.3,577.0 1090.5,572.2 1092.0,571.6 1095.2,569.2 1096.9,568.7 1104.2,565.3 1112.1,563.3 1118.1,563.0 1122.2,563.1 1128.1,564.5 1133.1,567.7 1137.6,571.6 1140.8,576.8 1142.0,581.0 1142.6,585.4 1143.3,587.2 1143.2,591.7 1143.6,597.5 1143.0,601.5 1143.3,603.2 1141.4,613.5 1140.5,615.3 1139.8,618.2 1139.1,623.5 1139.3,624.8 1138.7,631.0 1137.7,635.8 1136.2,639.2 1134.2,642.3 1134.0,643.4 1132.3,645.3 1130.3,646.9 1124.5,649.8 1123.9,650.6 1121.8,651.5 1120.3,652.7 1116.8,654.5 1114.9,655.1 1111.8,656.8 1105.2,658.7 1102.3,660.1 1094.5,662.5 1090.3,663.1 1080.9,662.3 1076.8,660.9 1072.9,658.8 1070.3,656.4 1068.6,653.2 1068.2,650.3 1067.6,649.7 1067.8,645.8 1067.5,645.1 1067.9,643.3 1067.6,642.7 1068.2,640.9 1067.5,637.6 1067.7,634.8 1068.8,631.6 Z M1069.7,631.0 1071.1,621.0 1072.0,618.8 1072.2,616.6 1073.0,614.7 1072.8,613.8 1073.2,613.2 1073.3,610.3 1073.8,609.7 1073.7,607.2 1074.3,606.7 1074.6,604.2 1075.3,603.7 1077.0,597.3 1080.8,589.1 1081.4,587.0 1083.3,583.8 1090.5,575.5 1092.0,574.8 1095.1,572.1 1096.7,571.7 1103.6,568.5 1109.1,567.3 1112.8,566.9 1120.5,567.0 1126.0,568.4 1129.3,570.1 1133.8,573.5 1137.1,578.2 1138.0,580.0 1140.2,589.8 1141.0,599.2 1140.3,603.1 1140.5,604.7 1138.7,611.7 1138.6,614.5 1137.8,616.1 1137.3,618.9 1136.7,623.9 1136.8,625.1 1135.1,635.5 1133.1,639.7 1129.9,644.4 1125.9,647.2 1122.7,648.7 1122.2,649.5 1119.4,650.9 1118.9,651.6 1116.3,652.8 1115.7,653.5 1111.3,654.9 1110.7,655.4 1109.0,655.7 1106.3,657.3 1100.9,658.5 1095.9,660.6 1092.0,661.4 1085.5,661.5 1080.6,660.7 1077.3,659.8 1074.5,657.9 1071.0,654.3 1070.3,652.7 1069.7,649.1 1069.3,648.4 1069.2,644.9 1068.8,644.4 1069.2,640.4 1068.9,634.7 1069.7,631.6 Z M1070.8,631.0 1072.4,621.7 1072.9,620.6 1073.2,615.8 1074.1,614.0 1074.0,613.0 1074.5,612.6 1074.5,611.5 1075.0,611.1 1074.9,608.7 1075.4,608.2 1075.7,605.9 1076.3,605.4 1078.2,597.7 1081.5,591.8 1082.1,589.7 1083.8,586.5 1084.8,585.5 1085.8,583.7 1090.6,578.5 1092.0,577.9 1094.9,575.8 1096.4,575.5 1104.5,572.0 1108.1,570.9 1115.3,570.4 1122.3,571.6 1123.9,572.3 1128.4,574.9 1132.4,578.4 1135.4,582.8 1137.7,592.0 1137.7,601.3 1137.2,604.9 1137.4,606.4 1135.8,612.9 1135.6,615.6 1134.3,619.7 1133.6,624.4 1133.8,625.5 1133.3,632.1 1132.6,635.3 1131.4,638.3 1129.3,641.0 1129.1,642.0 1127.5,643.6 1123.9,646.2 1121.0,647.8 1120.7,648.6 1117.9,649.8 1117.5,650.6 1114.7,651.4 1111.8,653.0 1108.0,654.3 1103.4,656.5 1092.0,660.1 1088.1,660.5 1085.0,660.2 1083.6,659.5 1078.9,658.5 1076.0,657.1 1072.8,654.7 1071.1,651.9 1070.6,648.3 1070.2,647.7 1070.1,643.7 1070.7,639.8 1070.1,636.9 1070.2,634.4 1070.9,631.6 Z M1071.9,631.0 1073.3,624.9 1073.5,622.2 1074.2,620.1 1074.2,618.0 1074.8,613.8 1075.4,613.5 1075.8,609.9 1076.4,609.5 1076.5,607.2 1077.1,606.7 1079.0,599.6 1082.0,593.8 1082.6,591.9 1083.5,591.0 1084.3,589.3 1086.2,586.8 1090.7,581.6 1094.7,579.0 1103.8,575.4 1108.7,574.6 1113.8,574.3 1117.1,574.7 1122.0,575.8 1126.3,578.2 1130.0,581.5 1132.5,586.1 1133.4,589.6 1134.0,593.2 1134.6,594.6 1135.0,603.0 1134.6,607.9 1132.8,614.1 1132.8,616.6 1132.2,618.0 1130.1,635.0 1126.7,641.3 1124.6,643.5 1119.2,646.7 1118.8,647.4 1116.2,648.6 1115.8,649.2 1111.1,651.2 1106.2,654.2 1100.0,655.7 1095.5,657.6 1088.3,659.1 1085.3,659.0 1078.8,656.9 1075.6,654.9 1073.5,652.6 1072.1,649.9 1071.8,647.3 1071.4,646.8 1071.8,643.4 1071.3,643.0 1071.5,641.5 1071.2,640.9 1071.6,639.4 1071.5,634.2 1072.0,631.5 Z M1073.2,631.0 1073.2,629.5 1073.8,628.1 1074.2,622.5 1075.2,620.7 1076.0,615.0 1076.4,614.6 1076.4,613.7 1076.9,613.3 1076.9,611.3 1077.4,610.9 1077.7,609.1 1078.3,608.6 1079.7,601.4 1084.8,592.2 1090.8,585.2 1094.5,582.4 1101.6,579.4 1109.3,577.8 1115.5,578.2 1118.5,578.9 1122.7,580.9 1126.4,583.6 1129.8,589.0 1131.7,597.1 1131.8,605.1 1131.2,608.4 1131.3,609.7 1129.9,615.3 1129.9,617.6 1129.2,618.9 1127.4,634.7 1126.4,637.4 1123.3,642.1 1117.3,645.6 1117.0,646.3 1114.4,647.3 1111.8,648.9 1109.7,650.6 1108.1,650.8 1103.8,652.8 1092.7,656.9 1089.2,657.6 1085.7,657.4 1079.6,655.3 1077.8,654.2 1074.4,651.6 1073.7,650.2 1072.8,645.8 1073.2,642.5 1072.7,640.2 1073.2,631.5 Z M1074.6,631.0 1074.7,626.4 1075.6,623.2 1076.1,622.4 1077.1,616.1 1077.5,615.7 1077.5,614.9 1077.9,614.5 1078.0,612.8 1078.5,612.4 1078.7,610.4 1079.1,610.0 1080.4,604.8 1083.4,598.9 1083.9,597.1 1085.3,594.8 1090.9,588.2 1094.4,585.7 1099.6,583.1 1103.8,582.0 1106.6,581.8 1112.3,581.9 1116.6,582.6 1120.4,584.6 1124.8,588.2 1126.5,590.6 1127.8,595.2 1128.7,599.7 1129.2,606.9 1128.6,611.1 1127.2,616.4 1125.7,624.8 1125.3,629.3 1125.5,631.0 1124.6,633.6 1124.5,635.3 1122.1,639.9 1118.7,642.9 1115.6,644.6 1115.2,645.2 1112.9,646.2 1112.5,646.7 1106.1,650.4 1102.5,651.6 1098.7,653.5 1092.6,655.4 1088.7,656.0 1085.4,655.6 1080.3,654.0 1077.9,652.6 1075.9,650.8 1075.3,649.5 1073.8,644.2 1074.0,642.0 1073.7,641.6 1074.2,638.4 1073.7,635.9 1074.0,635.3 1074.5,631.5 Z M1075.8,631.0 1075.7,628.4 1076.9,625.2 1076.9,622.3 1081.5,605.7 1085.8,597.6 1091.0,591.4 1094.2,589.2 1100.3,586.4 1102.9,585.6 1109.6,585.2 1112.3,585.5 1116.0,586.9 1119.4,588.8 1122.3,591.5 1124.3,595.2 1125.8,602.1 1126.2,610.0 1125.9,612.6 1123.7,621.6 1123.4,626.9 1122.1,632.6 1122.2,634.2 1121.1,637.2 1118.9,640.5 1116.2,642.5 1113.7,643.5 1113.3,644.1 1111.3,645.0 1107.1,647.8 1094.9,653.2 1092.0,654.2 1085.7,654.5 1083.2,653.9 1079.9,652.0 1077.4,650.0 1075.9,647.9 1075.1,643.9 1074.9,639.2 1075.8,631.4 Z M1077.0,631.0 1077.5,625.0 1078.6,621.2 1079.2,620.1 1079.5,617.1 1079.8,616.8 1079.9,615.2 1080.3,615.0 1080.5,613.2 1080.9,612.9 1081.9,608.4 1086.2,599.8 1091.0,594.6 1096.1,591.6 1100.8,589.5 1103.2,589.0 1108.2,588.9 1112.9,590.0 1117.9,593.3 1119.6,595.0 1121.5,598.2 1122.9,604.6 1122.7,607.4 1123.1,610.8 1122.6,613.3 1122.8,614.3 1119.9,628.8 1119.7,632.5 1119.1,635.3 1117.4,638.5 1116.2,639.6 1109.6,644.5 1094.2,652.2 1090.8,653.0 1083.8,652.4 1078.9,649.1 1078.0,648.3 1076.9,646.1 1076.1,643.2 1076.5,637.4 1076.2,636.1 1076.7,634.7 1076.4,632.6 1076.8,631.4 Z M1078.0,631.0 1080.0,620.2 1083.1,609.6 1086.8,602.8 1091.1,597.7 1093.8,595.8 1097.9,594.1 1103.4,592.6 1106.8,592.5 1111.2,593.4 1113.2,594.3 1116.6,597.1 1118.8,601.2 1119.9,607.2 1120.3,612.6 1120.1,615.8 1117.7,626.9 1117.6,630.3 1117.1,633.6 1114.7,638.4 1113.6,639.3 1105.1,644.8 1103.6,646.1 1099.8,647.5 1096.5,649.7 1088.1,652.0 1085.9,651.6 1083.3,650.6 1081.4,649.4 1078.5,646.0 1077.5,642.2 1077.8,638.2 1077.6,635.7 1078.0,631.4 Z M1079.0,631.0 1079.4,626.6 1080.3,624.6 1081.0,621.1 1082.0,619.3 1082.3,616.1 1083.2,612.5 1087.1,604.8 1091.2,599.9 1093.7,598.2 1097.4,596.7 1102.4,595.8 1107.5,596.3 1109.4,596.9 1112.8,599.0 1114.9,601.2 1116.4,603.9 1117.6,612.4 1117.2,617.3 1115.3,627.3 1114.9,633.4 1112.4,637.6 1108.6,641.2 1105.3,643.0 1104.8,643.8 1102.8,645.1 1099.3,646.3 1097.8,647.4 1092.5,650.1 1087.8,650.7 1084.7,649.9 1082.7,649.2 1081.5,648.1 1079.7,645.4 1078.7,642.9 1078.5,640.8 1079.0,631.3 Z M1080.1,631.0 1080.4,627.2 1082.4,620.9 1082.4,618.5 1084.7,612.0 1088.7,605.6 1091.3,602.8 1093.6,601.2 1097.0,599.6 1098.8,599.0 1102.5,598.7 1104.4,598.8 1107.9,599.8 1112.1,603.3 1113.6,605.7 1114.6,608.4 1115.1,614.2 1115.0,618.5 1113.1,627.1 1113.3,628.8 1112.8,633.2 1109.6,638.3 1103.9,642.3 1100.8,643.8 1096.3,646.9 1091.1,649.1 1088.1,649.5 1085.7,648.7 1082.0,646.5 1080.2,644.1 1079.6,642.2 1079.2,638.0 1080.1,631.3 Z M1081.1,631.0 1081.3,628.1 1081.8,627.1 1082.8,620.8 1084.1,618.1 1084.9,615.0 1089.0,607.9 1091.3,605.2 1097.3,602.2 1100.6,601.8 1105.5,602.6 1107.1,603.2 1109.7,605.2 1111.8,609.0 1113.1,617.3 1111.4,624.1 1111.3,627.9 1110.4,633.9 1107.9,637.1 1103.7,640.5 1093.3,647.4 1091.6,648.0 1086.5,648.0 1083.2,645.4 1080.8,642.2 1080.6,639.3 1081.1,631.3 Z M1082.0,631.0 1082.5,629.7 1082.4,627.6 1083.0,626.1 1083.1,623.8 1084.6,620.8 1085.8,616.1 1087.6,612.7 1090.8,608.9 1094.6,606.3 1099.0,604.8 1103.5,605.3 1106.1,606.6 1107.2,607.6 1110.2,612.8 1110.5,615.2 1110.1,618.6 1110.5,621.6 1108.8,626.0 1108.5,627.5 1108.7,630.6 1106.9,635.9 1104.3,637.7 1100.4,641.4 1097.8,642.4 1092.4,646.7 1091.2,647.0 1087.7,647.0 1084.7,645.3 1081.7,641.3 1081.5,639.1 1081.9,631.3 Z M1083.1,631.0 1083.9,628.1 1083.9,625.7 1084.4,623.4 1085.6,620.6 1086.2,618.0 1091.5,610.6 1092.6,609.6 1095.0,608.4 1098.2,608.0 1102.1,608.3 1104.7,610.2 1106.9,613.6 1107.9,622.4 1106.5,626.7 1106.8,629.1 1106.4,631.4 1104.9,635.6 1101.2,638.5 1100.5,639.5 1095.2,643.1 1093.4,644.7 1090.4,645.8 1088.4,646.0 1086.5,645.4 1084.3,643.5 1082.7,640.3 1082.3,635.6 1083.1,631.2 Z M1083.6,631.0 1084.5,629.2 1084.6,627.7 1085.6,626.6 1085.5,623.7 1087.2,619.3 1089.9,614.9 1091.5,613.3 1095.7,611.1 1097.5,610.6 1098.6,610.7 1101.6,612.2 1103.9,614.6 1105.0,616.6 1105.6,622.2 1104.5,626.9 1104.0,631.0 1104.3,632.3 1102.9,634.6 1099.9,637.4 1099.0,638.8 1097.3,639.7 1096.5,641.0 1090.9,644.4 1087.3,644.4 1086.0,643.6 1084.0,640.4 1083.4,636.0 1083.4,633.3 1083.9,632.1 1083.7,631.2 Z M1085.0,631.0 1085.0,629.5 1085.4,629.2 1085.4,627.9 1085.8,627.6 1086.2,625.2 1086.7,624.8 1088.1,620.8 1091.2,616.2 1093.3,614.7 1096.1,613.8 1098.4,614.4 1101.3,616.7 1102.4,618.8 1103.1,623.8 1102.6,627.6 1101.6,629.7 1102.1,631.5 1101.9,632.3 1098.1,637.4 1096.7,638.3 1095.8,639.6 1091.7,643.0 1090.0,643.5 1087.7,643.2 1086.6,642.4 1085.4,640.6 1084.3,635.2 1084.8,631.2 Z M1085.5,631.0 1086.1,630.1 1086.9,626.6 1088.5,622.5 1091.7,618.2 1094.7,616.5 1096.4,616.2 1098.5,617.3 1099.9,618.8 1100.8,620.7 1100.9,623.4 1099.7,633.1 1097.4,635.6 1096.6,637.4 1095.6,638.0 1094.6,639.8 1093.1,641.2 1089.5,642.7 1087.7,642.2 1086.8,641.3 1085.3,637.3 1085.5,631.2 Z M1086.6,631.0 1087.0,629.8 1086.8,628.5 1087.3,628.1 1087.2,626.7 1088.0,626.1 1088.5,624.5 1090.1,622.0 1092.6,619.3 1095.3,618.8 1096.5,619.3 1098.3,621.9 1099.1,624.6 1099.0,628.5 1098.1,633.1 1096.5,634.9 1095.7,637.0 1094.3,638.7 1092.5,640.6 1090.3,641.8 1089.7,641.8 1087.6,640.2 1086.4,637.9 1086.1,635.8 1086.4,633.8 1086.0,632.8 1086.7,631.8 1086.6,631.1 Z M1087.4,631.0 1088.6,626.3 1090.0,624.2 1092.5,621.8 1094.1,621.2 1095.2,621.3 1096.2,622.8 1097.1,626.2 1096.7,627.8 1097.3,628.7 1096.6,630.2 1096.5,632.2 1095.9,632.9 1096.0,634.2 1095.1,634.9 1094.8,636.2 1093.1,639.0 1091.0,640.5 1088.9,640.4 1087.7,639.5 1087.3,638.3 1086.9,633.6 1087.5,632.3 1087.2,631.1 Z" fill="none" stroke="#555" stroke-width="0.9" stroke-linejoin="round"/>
<circle cx="1160" cy="575" r="0.9" fill="#777"/>
<circle cx="1172" cy="590" r="0.9" fill="#777"/>
<circle cx="1165" cy="640" r="0.9" fill="#777"/>
<circle cx="1175" cy="650" r="0.9" fill="#777"/>
<circle cx="1158" cy="660" r="0.9" fill="#777"/>
<circle cx="1180" cy="612" r="0.9" fill="#777"/>
<circle cx="1150" cy="655" r="0.9" fill="#777"/>
<circle cx="1168" cy="600" r="0.9" fill="#777"/>
<circle cx="1178" cy="630" r="0.9" fill="#777"/>
<circle cx="1122" cy="556" r="0.9" fill="#777"/>
<circle cx="1085" cy="570" r="0.9" fill="#777"/>
<circle cx="1077" cy="584" r="0.9" fill="#777"/>
<circle cx="1182" cy="647" r="0.9" fill="#777"/>
<circle cx="1140" cy="652" r="0.9" fill="#777"/>
<rect x="1015.6" y="475.4" width="242" height="242.6" fill="none" stroke="#666" stroke-width="1.6"/>
<line x1="1139.4" y1="475.4" x2="1139.4" y2="718" stroke="#000" stroke-width="2"/>
<line x1="1015.6" y1="602.6" x2="1257.6" y2="602.6" stroke="#000" stroke-width="2"/>
<line x1="1009.6" y1="498" x2="1015.6" y2="498" stroke="#333" stroke-width="1.6"/>
<line x1="1009.6" y1="556" x2="1015.6" y2="556" stroke="#333" stroke-width="1.6"/>
<line x1="1009.6" y1="622" x2="1015.6" y2="622" stroke="#333" stroke-width="1.6"/>
<line x1="1009.6" y1="702" x2="1015.6" y2="702" stroke="#333" stroke-width="1.6"/>
<line x1="1012.1" y1="602.13" x2="1015.6" y2="602.13" stroke="#555" stroke-width="1.2"/>
<line x1="1012.1" y1="590.51" x2="1015.6" y2="590.51" stroke="#555" stroke-width="1.2"/>
<line x1="1012.1" y1="582.26" x2="1015.6" y2="582.26" stroke="#555" stroke-width="1.2"/>
<line x1="1012.1" y1="575.87" x2="1015.6" y2="575.87" stroke="#555" stroke-width="1.2"/>
<line x1="1012.1" y1="570.64" x2="1015.6" y2="570.64" stroke="#555" stroke-width="1.2"/>
<line x1="1012.1" y1="566.22" x2="1015.6" y2="566.22" stroke="#555" stroke-width="1.2"/>
<line x1="1012.1" y1="562.4" x2="1015.6" y2="562.4" stroke="#555" stroke-width="1.2"/>
<line x1="1012.1" y1="559.02" x2="1015.6" y2="559.02" stroke="#555" stroke-width="1.2"/>
<line x1="1012.1" y1="538.54" x2="1015.6" y2="538.54" stroke="#555" stroke-width="1.2"/>
<line x1="1012.1" y1="528.33" x2="1015.6" y2="528.33" stroke="#555" stroke-width="1.2"/>
<line x1="1012.1" y1="521.08" x2="1015.6" y2="521.08" stroke="#555" stroke-width="1.2"/>
<line x1="1012.1" y1="515.46" x2="1015.6" y2="515.46" stroke="#555" stroke-width="1.2"/>
<line x1="1012.1" y1="510.87" x2="1015.6" y2="510.87" stroke="#555" stroke-width="1.2"/>
<line x1="1012.1" y1="506.98" x2="1015.6" y2="506.98" stroke="#555" stroke-width="1.2"/>
<line x1="1012.1" y1="503.62" x2="1015.6" y2="503.62" stroke="#555" stroke-width="1.2"/>
<line x1="1012.1" y1="500.65" x2="1015.6" y2="500.65" stroke="#555" stroke-width="1.2"/>
<line x1="1012.1" y1="479.34" x2="1015.6" y2="479.34" stroke="#555" stroke-width="1.2"/>
<line x1="1009.6" y1="657" x2="1015.6" y2="657" stroke="#222" stroke-width="1.1"/>
<line x1="1009.6" y1="658.3" x2="1015.6" y2="658.3" stroke="#222" stroke-width="1.1"/>
<line x1="1009.6" y1="659.6" x2="1015.6" y2="659.6" stroke="#222" stroke-width="1.1"/>
<line x1="1009.6" y1="660.9" x2="1015.6" y2="660.9" stroke="#222" stroke-width="1.1"/>
<line x1="1009.6" y1="662.2" x2="1015.6" y2="662.2" stroke="#222" stroke-width="1.1"/>
<line x1="1009.6" y1="663.5" x2="1015.6" y2="663.5" stroke="#222" stroke-width="1.1"/>
<line x1="1009.6" y1="664.8" x2="1015.6" y2="664.8" stroke="#222" stroke-width="1.1"/>
<line x1="1009.6" y1="666.1" x2="1015.6" y2="666.1" stroke="#222" stroke-width="1.1"/>
<line x1="1030" y1="718" x2="1030" y2="724" stroke="#333" stroke-width="1.6"/>
<line x1="1110" y1="718" x2="1110" y2="724" stroke="#333" stroke-width="1.6"/>
<line x1="1176" y1="718" x2="1176" y2="724" stroke="#333" stroke-width="1.6"/>
<line x1="1233.6" y1="718" x2="1233.6" y2="724" stroke="#333" stroke-width="1.6"/>
<line x1="1129.87" y1="718" x2="1129.87" y2="721.5" stroke="#555" stroke-width="1.2"/>
<line x1="1141.49" y1="718" x2="1141.49" y2="721.5" stroke="#555" stroke-width="1.2"/>
<line x1="1149.74" y1="718" x2="1149.74" y2="721.5" stroke="#555" stroke-width="1.2"/>
<line x1="1156.13" y1="718" x2="1156.13" y2="721.5" stroke="#555" stroke-width="1.2"/>
<line x1="1161.36" y1="718" x2="1161.36" y2="721.5" stroke="#555" stroke-width="1.2"/>
<line x1="1165.78" y1="718" x2="1165.78" y2="721.5" stroke="#555" stroke-width="1.2"/>
<line x1="1169.6" y1="718" x2="1169.6" y2="721.5" stroke="#555" stroke-width="1.2"/>
<line x1="1172.98" y1="718" x2="1172.98" y2="721.5" stroke="#555" stroke-width="1.2"/>
<line x1="1193.34" y1="718" x2="1193.34" y2="721.5" stroke="#555" stroke-width="1.2"/>
<line x1="1203.48" y1="718" x2="1203.48" y2="721.5" stroke="#555" stroke-width="1.2"/>
<line x1="1210.68" y1="718" x2="1210.68" y2="721.5" stroke="#555" stroke-width="1.2"/>
<line x1="1216.26" y1="718" x2="1216.26" y2="721.5" stroke="#555" stroke-width="1.2"/>
<line x1="1220.82" y1="718" x2="1220.82" y2="721.5" stroke="#555" stroke-width="1.2"/>
<line x1="1224.68" y1="718" x2="1224.68" y2="721.5" stroke="#555" stroke-width="1.2"/>
<line x1="1228.02" y1="718" x2="1228.02" y2="721.5" stroke="#555" stroke-width="1.2"/>
<line x1="1230.96" y1="718" x2="1230.96" y2="721.5" stroke="#555" stroke-width="1.2"/>
<line x1="1250.94" y1="718" x2="1250.94" y2="721.5" stroke="#555" stroke-width="1.2"/>
<line x1="1261.08" y1="718" x2="1261.08" y2="721.5" stroke="#555" stroke-width="1.2"/>
<line x1="1066" y1="718" x2="1066" y2="724" stroke="#222" stroke-width="1.1"/>
<line x1="1067.3" y1="718" x2="1067.3" y2="724" stroke="#222" stroke-width="1.1"/>
<line x1="1068.6" y1="718" x2="1068.6" y2="724" stroke="#222" stroke-width="1.1"/>
<line x1="1069.9" y1="718" x2="1069.9" y2="724" stroke="#222" stroke-width="1.1"/>
<line x1="1071.2" y1="718" x2="1071.2" y2="724" stroke="#222" stroke-width="1.1"/>
<line x1="1072.5" y1="718" x2="1072.5" y2="724" stroke="#222" stroke-width="1.1"/>
<line x1="1073.8" y1="718" x2="1073.8" y2="724" stroke="#222" stroke-width="1.1"/>
<line x1="1075.1" y1="718" x2="1075.1" y2="724" stroke="#222" stroke-width="1.1"/>
<text x="1018.14" y="507" font-size="34" textLength="72.4" lengthAdjust="spacingAndGlyphs">28.5</text>
<text x="1185.53" y="507" font-size="34" textLength="71.35" lengthAdjust="spacingAndGlyphs">5.37</text>
<text x="1020.17" y="709" font-size="34" textLength="71.16" lengthAdjust="spacingAndGlyphs">62.0</text>
<text x="1186.28" y="709" font-size="34" textLength="69.84" lengthAdjust="spacingAndGlyphs">4.14</text>
<text x="1116.99" y="466" font-size="36" textLength="48.15" lengthAdjust="spacingAndGlyphs">LN</text>
<text x="948.67" y="517" font-size="32" textLength="34.48" lengthAdjust="spacingAndGlyphs">10</text>
<text x="983.54" y="499" font-size="24">5</text>
<text x="949.67" y="575" font-size="32" textLength="34.48" lengthAdjust="spacingAndGlyphs">10</text>
<text x="985.02" y="557" font-size="24">4</text>
<text x="948.67" y="641" font-size="32" textLength="34.48" lengthAdjust="spacingAndGlyphs">10</text>
<text x="983.54" y="623" font-size="24">3</text>
<text x="1082.67" y="752.5" font-size="32" textLength="34.48" lengthAdjust="spacingAndGlyphs">10</text>
<text x="1117.54" y="734.5" font-size="24">3</text>
<text x="1146.67" y="752.5" font-size="32" textLength="34.48" lengthAdjust="spacingAndGlyphs">10</text>
<text x="1182.02" y="734.5" font-size="24">4</text>
<text x="1205.67" y="752.5" font-size="32" textLength="34.48" lengthAdjust="spacingAndGlyphs">10</text>
<text x="1240.54" y="734.5" font-size="24">5</text>
<text x="1017.18" y="779" font-size="31" textLength="125.38" lengthAdjust="spacingAndGlyphs">2NBDG</text>
<line x1="1149" y1="769.5" x2="1254" y2="769.5" stroke="#000" stroke-width="4"/>
<path d="M1251,759 L1272.5,769.5 L1251,780 Z" stroke="#000" stroke-width="1" fill="#000"/>
<text x="0" y="0" font-size="34" transform="translate(942,712.33) rotate(-90)" textLength="117.77" lengthAdjust="spacingAndGlyphs">pHrodo</text>
<line x1="931" y1="577" x2="931" y2="527" stroke="#000" stroke-width="4"/>
<path d="M920.5,530 L931,509.5 L941.5,530 Z" stroke="#000" stroke-width="1" fill="#000"/>
<path d="M1319.4,630.0 1319.8,627.0 1319.3,622.3 1320.1,619.3 1320.0,614.8 1320.8,612.3 1320.5,610.0 1321.2,609.4 1321.1,608.2 1322.3,605.6 1322.5,603.2 1324.2,600.6 1324.6,597.9 1325.5,597.3 1325.7,595.7 1326.6,595.2 1326.8,593.3 1327.8,592.9 1328.1,590.9 1329.0,590.2 1329.8,586.0 1330.9,585.4 1332.0,580.7 1333.3,580.3 1334.9,575.4 1336.3,575.2 1339.8,567.9 1342.8,563.6 1348.0,558.1 1351.9,555.6 1353.8,555.7 1355.9,554.6 1366.8,551.6 1376.2,550.4 1383.7,549.9 1387.0,548.2 1389.9,547.8 1393.6,545.9 1396.7,545.7 1404.8,542.6 1408.9,541.4 1412.7,541.0 1419.0,542.3 1422.0,543.3 1429.5,548.5 1439.6,559.7 1446.1,569.9 1447.3,572.7 1447.3,579.4 1444.9,586.9 1442.9,590.7 1441.2,599.7 1439.3,603.0 1434.2,606.9 1395.6,618.6 1393.1,621.6 1393.3,622.8 1391.1,625.5 1391.1,626.6 1390.1,627.8 1390.1,628.9 1389.4,630.0 1389.4,631.1 1388.5,632.1 1388.6,634.3 1387.9,636.3 1381.4,650.4 1375.0,658.5 1367.3,665.5 1360.9,669.6 1357.8,670.9 1354.6,671.6 1350.2,672.1 1345.8,671.6 1339.6,669.6 1328.4,664.0 1323.6,658.6 1321.0,653.1 1321.0,650.7 1320.5,650.0 1320.7,648.7 1320.3,648.0 1320.6,646.8 1320.1,646.1 1320.3,645.1 1319.6,643.6 1319.7,636.8 1319.3,630.8 Z M1319.3,630.0 1319.5,624.7 1319.1,622.3 1319.6,620.8 1319.8,616.6 1320.6,614.2 1320.3,613.1 1320.9,612.4 1320.6,610.1 1321.1,609.3 1321.0,608.1 1321.5,607.4 1321.6,606.2 1322.2,605.6 1322.4,603.0 1323.1,602.4 1323.3,601.0 1324.0,600.3 1324.4,597.5 1325.3,596.9 1325.5,595.3 1326.4,594.8 1326.7,593.1 1327.7,592.6 1328.0,590.8 1329.0,590.2 1329.8,586.0 1330.9,585.4 1332.2,581.5 1333.3,580.4 1335.0,576.0 1336.3,575.1 1338.5,570.0 1342.8,563.7 1348.0,558.2 1351.9,555.7 1353.9,555.6 1360.2,553.1 1366.8,551.5 1383.4,550.4 1386.5,549.4 1389.1,549.4 1392.3,548.4 1395.0,548.6 1401.9,547.0 1405.2,546.7 1408.5,546.7 1411.0,547.9 1413.9,548.6 1416.3,550.0 1422.2,555.8 1423.9,558.0 1432.0,572.3 1434.9,579.8 1435.0,585.7 1432.9,592.2 1431.4,595.5 1429.4,603.6 1427.9,606.3 1424.1,609.6 1395.1,618.7 1393.2,621.6 1393.1,622.9 1391.5,625.4 1391.3,626.6 1388.5,632.1 1388.1,634.2 1386.6,637.2 1386.6,638.2 1383.8,646.0 1379.8,653.1 1372.1,661.5 1364.8,667.6 1361.0,669.9 1356.8,671.3 1352.4,671.8 1348.0,671.7 1340.6,670.1 1332.0,665.9 1328.7,663.5 1323.6,658.6 1321.5,653.9 1320.8,653.2 1320.8,650.9 1320.2,650.2 1320.3,649.0 1319.8,648.3 1320.1,647.1 1319.6,646.4 1320.0,645.2 1319.3,643.7 1319.6,642.7 1319.0,642.0 1319.4,641.0 1319.0,639.4 1319.7,634.5 1319.4,630.7 Z M1319.2,630.0 1319.8,626.3 1319.2,619.8 1319.8,617.4 1319.9,614.8 1320.4,614.1 1320.5,610.0 1321.1,609.4 1321.7,606.4 1322.4,605.7 1322.5,603.1 1323.2,602.5 1323.3,601.1 1324.1,600.5 1324.5,597.7 1325.4,597.2 1325.6,595.5 1326.5,595.0 1326.8,593.3 1327.8,592.8 1328.1,590.9 1329.0,590.2 1329.8,586.0 1330.9,585.5 1331.4,583.2 1333.3,580.4 1334.1,578.0 1336.4,575.3 1338.5,570.0 1339.9,568.7 1342.8,564.1 1348.0,557.6 1351.9,555.2 1360.2,552.7 1366.8,551.7 1383.1,551.1 1385.9,550.5 1388.4,550.8 1391.1,550.6 1393.5,551.2 1399.3,551.0 1402.1,551.3 1404.6,552.1 1408.6,555.2 1412.0,558.9 1413.0,561.5 1415.7,565.7 1416.4,568.4 1418.7,572.7 1421.2,579.7 1423.0,586.7 1422.6,592.0 1417.7,607.3 1416.5,609.7 1414.3,612.2 1394.5,618.8 1394.1,620.2 1393.0,621.7 1388.7,632.1 1387.6,636.3 1385.9,640.1 1384.0,646.0 1376.6,657.1 1371.5,662.4 1364.6,667.3 1361.8,668.8 1354.5,671.3 1351.3,671.9 1348.0,671.7 1339.6,669.6 1333.7,667.3 1330.0,665.4 1325.5,661.0 1323.1,657.7 1321.5,653.9 1320.8,653.3 1320.6,648.8 1320.0,648.2 1320.4,646.9 1319.8,646.3 1320.1,645.2 1319.4,643.7 1319.7,642.6 1319.3,641.9 1319.8,640.8 1319.4,637.7 1319.8,636.8 1319.1,631.5 1319.3,630.8 Z M1319.4,630.0 1319.7,623.2 1319.4,622.3 1319.9,620.9 1319.8,618.3 1320.1,617.6 1320.4,613.1 1320.9,612.4 1320.8,610.2 1321.3,609.5 1321.3,608.4 1322.0,607.8 1322.0,606.6 1322.6,605.9 1322.8,603.4 1323.4,602.7 1323.5,601.3 1324.2,600.6 1324.4,597.6 1325.3,597.0 1325.6,595.5 1326.6,595.0 1326.8,593.2 1327.8,592.7 1328.1,590.9 1329.0,590.2 1329.7,585.9 1330.9,585.5 1331.5,583.4 1332.6,582.5 1334.1,578.1 1335.3,577.2 1338.5,570.2 1340.0,569.4 1342.9,564.9 1348.0,558.1 1351.9,555.4 1362.4,552.3 1369.0,551.5 1385.0,552.4 1389.7,553.2 1396.9,554.8 1400.9,557.1 1403.8,561.1 1405.7,565.9 1406.1,568.8 1407.6,573.4 1407.7,576.3 1408.9,580.7 1408.8,583.4 1410.2,587.2 1410.4,589.5 1411.0,591.4 1410.9,597.9 1407.0,609.1 1403.9,615.0 1393.6,619.1 1393.5,620.3 1391.7,623.1 1391.3,625.4 1389.5,628.9 1388.8,631.1 1388.9,633.2 1388.3,634.2 1387.9,636.3 1381.3,650.4 1377.8,655.5 1373.8,660.2 1367.3,665.6 1362.7,668.3 1356.7,671.0 1352.4,672.0 1348.0,671.9 1339.6,669.4 1331.9,666.2 1329.3,664.4 1327.2,662.0 1325.6,660.8 1324.5,659.0 1323.6,658.6 1322.5,655.5 1320.9,653.1 1320.7,650.9 1319.8,648.3 1319.9,647.2 1319.5,646.4 1319.9,645.3 1319.1,643.8 1319.5,642.7 1319.2,641.9 1319.6,640.9 1319.0,639.4 1319.5,636.9 1319.3,630.8 Z M1320.6,630.0 1320.9,625.0 1320.5,622.6 1321.8,614.9 1321.6,613.8 1322.1,613.2 1322.0,611.1 1323.0,608.7 1323.1,607.6 1323.7,606.9 1323.7,604.4 1324.4,603.8 1324.4,602.3 1325.1,601.7 1325.4,599.0 1326.3,598.4 1326.5,596.8 1327.4,596.4 1327.7,594.8 1328.6,594.3 1328.9,592.5 1329.9,592.0 1330.6,587.9 1331.7,587.5 1332.1,585.2 1333.3,584.7 1334.6,580.1 1335.9,579.7 1338.9,572.5 1340.4,572.4 1343.1,567.7 1346.3,563.8 1348.0,560.6 1351.8,558.4 1357.7,556.4 1366.0,555.0 1374.5,555.1 1380.9,556.2 1382.9,556.9 1388.6,559.7 1392.1,562.1 1394.8,565.6 1395.7,567.9 1396.1,573.7 1396.7,575.9 1396.3,579.1 1397.1,583.4 1396.6,586.3 1397.1,590.2 1396.6,592.7 1397.1,596.2 1396.7,598.4 1397.0,600.0 1396.0,603.9 1396.0,605.5 1395.2,607.5 1394.0,612.3 1391.9,617.0 1392.2,618.2 1391.3,619.6 1391.7,620.7 1389.6,623.4 1389.8,625.6 1388.9,626.8 1389.0,627.9 1388.0,629.0 1388.1,630.0 1387.5,631.0 1387.5,633.1 1386.7,634.1 1386.5,636.1 1385.7,637.0 1384.3,640.8 1382.2,644.2 1379.5,650.4 1376.6,654.5 1372.7,658.9 1366.6,664.3 1358.4,668.8 1354.3,670.1 1349.1,670.3 1342.9,669.1 1339.9,668.1 1332.6,664.7 1330.0,663.2 1326.4,659.8 1325.4,657.8 1324.7,657.3 1322.5,652.9 1321.9,652.3 1321.9,650.0 1321.3,649.4 1321.4,648.3 1320.8,647.7 1321.1,646.5 1320.7,645.8 1321.0,644.6 1320.4,643.2 1321.0,640.4 1320.5,638.9 1320.8,638.1 1320.3,635.1 1320.5,630.7 Z M1321.6,630.0 1322.1,619.3 1322.4,618.6 1322.8,614.6 1323.4,614.0 1323.1,611.9 1324.7,607.9 1325.0,605.7 1325.6,605.1 1325.6,603.8 1326.3,603.2 1326.6,600.6 1327.4,600.0 1327.6,598.5 1328.3,597.9 1328.6,596.5 1329.5,595.9 1329.8,594.2 1330.7,593.7 1331.4,590.0 1332.5,589.7 1333.0,587.5 1334.1,587.1 1335.2,582.4 1336.5,582.0 1339.3,575.1 1340.8,575.1 1343.4,571.0 1346.4,567.5 1348.0,564.6 1351.5,562.3 1359.1,559.9 1362.9,559.7 1365.0,559.1 1373.0,559.5 1377.0,559.9 1382.8,561.7 1388.1,564.6 1391.0,567.4 1392.9,571.5 1393.5,576.7 1394.2,578.7 1393.9,581.6 1394.5,585.8 1393.9,588.7 1394.3,592.5 1393.7,594.9 1394.1,601.7 1393.3,606.9 1391.7,613.2 1389.5,617.7 1389.8,618.8 1389.0,620.2 1389.1,621.3 1387.2,623.8 1387.5,625.8 1386.5,627.0 1386.6,628.0 1385.7,629.0 1385.7,630.0 1385.0,631.0 1384.9,632.9 1384.2,633.8 1384.0,635.7 1383.1,636.5 1381.0,641.7 1380.9,642.6 1377.1,650.0 1371.4,657.4 1370.0,658.7 1363.2,664.1 1359.7,666.1 1355.0,667.8 1350.0,668.4 1348.0,668.2 1341.2,666.7 1336.6,665.0 1333.3,663.0 1327.6,658.0 1325.9,655.9 1324.4,652.4 1324.3,651.4 1323.6,650.8 1323.6,648.7 1322.6,646.5 1322.8,645.4 1321.8,642.5 1322.1,639.9 1321.5,630.7 Z M1323.4,630.0 1323.3,626.1 1323.9,622.2 1324.2,617.1 1324.5,616.4 1324.3,615.5 1324.7,614.9 1324.5,612.9 1324.9,612.3 1324.8,611.2 1325.3,610.6 1325.4,609.6 1326.0,609.1 1326.2,607.0 1326.8,606.4 1326.8,605.2 1327.4,604.5 1327.6,601.9 1328.3,601.4 1328.5,600.0 1329.3,599.5 1329.6,598.2 1330.5,597.8 1330.8,596.3 1331.7,595.7 1332.4,592.3 1333.3,591.8 1333.8,589.8 1334.8,589.5 1336.0,585.4 1337.2,585.0 1339.9,578.6 1341.2,578.2 1343.6,574.4 1346.5,571.0 1348.0,568.3 1349.6,567.1 1353.1,565.5 1358.5,563.9 1362.1,563.7 1364.1,563.0 1371.6,563.4 1377.3,564.3 1385.7,568.4 1389.5,572.9 1390.3,574.8 1390.7,580.0 1391.3,581.9 1391.1,584.6 1391.8,588.5 1391.3,591.0 1391.7,594.6 1391.1,596.9 1391.6,600.0 1390.4,607.0 1390.6,608.3 1389.8,610.1 1389.1,614.2 1387.0,618.5 1387.2,619.5 1386.3,620.8 1386.5,621.8 1384.7,624.2 1385.2,626.1 1384.3,627.1 1384.6,628.1 1383.2,630.9 1382.9,632.7 1376.5,647.5 1373.7,651.9 1368.2,657.7 1359.1,664.2 1354.7,665.9 1349.9,666.9 1343.3,665.7 1331.0,659.4 1328.3,657.1 1324.6,650.0 1324.6,647.9 1324.2,647.3 1324.4,644.5 1324.0,643.8 1324.3,642.8 1323.6,641.7 1323.8,640.8 1323.2,640.3 1323.4,639.4 1322.8,638.2 1323.2,637.4 1323.1,632.6 1323.6,630.6 Z M1324.9,630.0 1324.7,623.8 1325.9,617.2 1325.9,613.9 1326.3,613.4 1326.3,612.5 1327.0,612.0 1327.0,611.1 1327.6,610.6 1327.5,608.4 1328.1,607.9 1329.0,603.8 1329.7,603.3 1329.9,602.1 1330.6,601.5 1330.8,600.1 1331.5,599.6 1331.8,598.2 1332.6,597.8 1333.3,594.4 1334.2,594.0 1334.7,592.3 1335.6,591.9 1336.7,587.8 1337.8,587.4 1340.3,581.3 1341.6,581.1 1343.8,577.2 1346.5,574.1 1348.0,571.5 1351.2,569.6 1356.1,568.2 1364.8,567.4 1373.6,568.1 1377.1,568.9 1381.8,571.5 1384.6,573.7 1386.7,576.8 1387.4,578.6 1388.5,585.0 1388.2,587.6 1388.9,591.2 1388.4,593.6 1388.8,596.9 1388.3,599.1 1388.6,602.1 1388.5,605.2 1387.8,608.4 1388.0,609.6 1386.4,615.3 1384.5,619.2 1384.8,620.1 1384.1,621.3 1384.1,622.3 1382.6,624.5 1382.8,626.3 1382.0,627.3 1381.3,629.1 1380.9,632.6 1380.2,633.4 1380.1,635.1 1378.6,637.3 1377.3,641.2 1373.9,647.8 1371.5,651.2 1367.0,656.1 1361.6,660.4 1358.5,662.2 1349.8,664.6 1346.2,664.7 1337.7,661.7 1333.3,658.8 1329.6,655.4 1327.7,652.6 1326.5,649.4 1325.9,648.9 1326.0,646.9 1325.5,646.4 1325.6,645.4 1325.1,644.9 1325.3,643.9 1325.0,643.3 1325.3,642.3 1324.8,641.1 1325.1,640.2 1324.7,634.3 1324.9,630.6 Z M1326.3,630.0 1326.2,628.3 1326.6,627.2 1326.2,624.2 1326.9,620.6 1326.7,618.4 1327.1,614.8 1328.1,612.1 1328.7,611.6 1329.3,608.1 1330.0,607.8 1330.2,605.5 1330.8,605.0 1331.0,603.8 1331.7,603.5 1332.0,602.3 1332.7,601.8 1332.9,600.4 1333.6,599.8 1334.2,596.6 1335.0,596.1 1335.4,594.3 1336.2,593.7 1337.3,590.1 1338.4,589.8 1340.8,584.4 1342.0,584.2 1348.0,575.3 1354.0,572.6 1362.1,571.2 1363.7,571.3 1366.9,572.0 1371.9,572.4 1375.1,573.3 1381.0,576.1 1382.2,577.3 1383.3,578.6 1384.8,582.0 1385.2,586.4 1385.8,588.1 1385.5,590.5 1386.2,593.7 1385.7,596.1 1386.1,599.1 1385.6,601.1 1385.9,606.8 1385.1,611.1 1383.4,617.5 1382.2,619.9 1382.5,620.8 1381.7,621.9 1381.9,622.8 1380.4,624.9 1380.5,626.6 1379.8,627.5 1380.0,628.3 1379.4,629.2 1379.4,630.0 1378.8,630.8 1378.5,632.4 1375.5,638.9 1375.3,640.5 1372.1,645.7 1369.8,650.7 1366.0,654.8 1363.5,656.9 1358.0,660.8 1350.6,663.4 1347.1,663.1 1337.6,659.4 1330.6,653.9 1329.1,652.2 1328.3,649.7 1327.8,649.2 1326.6,643.9 1326.4,642.5 1326.8,641.5 1326.2,640.4 1326.6,639.5 1326.2,630.6 Z M1327.5,630.0 1327.5,625.1 1328.1,622.4 1328.2,619.3 1329.5,614.2 1329.5,613.3 1329.9,612.8 1330.0,611.0 1330.5,610.5 1331.9,605.2 1332.5,604.8 1333.7,601.9 1334.4,601.6 1335.1,598.7 1335.8,598.2 1336.2,596.6 1337.0,596.3 1338.0,592.6 1339.0,592.3 1341.2,587.3 1342.4,587.2 1348.0,578.9 1352.2,576.6 1361.2,574.9 1368.8,575.8 1374.7,577.6 1379.8,581.1 1380.8,582.3 1382.1,585.5 1382.9,591.2 1382.8,593.4 1383.3,596.5 1382.8,598.6 1382.9,608.6 1382.2,612.5 1381.6,614.0 1381.1,617.3 1379.6,620.6 1379.8,621.5 1379.1,622.5 1379.3,623.3 1378.0,625.2 1378.3,626.8 1377.7,627.7 1377.8,628.4 1377.1,629.2 1375.6,634.4 1372.0,643.0 1367.2,650.2 1363.6,654.1 1361.9,655.6 1356.5,658.8 1354.4,659.9 1349.6,661.1 1347.2,661.1 1342.4,660.0 1338.8,658.4 1336.1,656.7 1333.8,654.7 1330.3,650.8 1329.5,648.5 1329.0,648.0 1328.6,644.9 1328.2,644.4 1328.4,643.5 1327.9,641.6 1328.1,640.8 1327.5,639.8 1327.4,636.7 1327.8,634.8 1327.3,633.8 1327.4,630.5 Z M1329.2,630.0 1329.0,625.4 1329.5,620.0 1330.2,618.5 1330.4,615.7 1331.2,614.0 1331.3,612.4 1332.3,610.6 1332.4,608.6 1332.9,608.1 1333.0,607.0 1334.4,604.9 1334.6,603.6 1335.3,603.3 1335.8,600.6 1336.6,600.4 1337.0,598.8 1337.8,598.5 1338.7,595.3 1339.6,595.0 1341.7,590.1 1342.7,589.8 1348.0,582.6 1350.6,581.1 1354.6,579.8 1361.6,579.3 1371.4,581.0 1375.1,583.1 1377.3,584.9 1378.2,586.1 1379.4,589.1 1380.2,594.3 1380.2,603.9 1379.8,605.6 1380.3,610.2 1379.7,613.9 1378.5,618.3 1377.2,621.3 1377.4,622.1 1376.8,623.1 1377.2,623.8 1375.9,625.6 1376.1,627.0 1374.4,630.7 1374.3,632.1 1372.4,635.9 1370.1,642.8 1369.2,644.5 1363.6,651.5 1357.4,656.6 1354.0,658.2 1347.2,659.5 1343.4,658.9 1340.7,657.4 1335.7,654.1 1332.6,651.2 1331.2,648.7 1330.9,647.1 1330.0,645.4 1329.5,642.0 1329.7,640.0 1329.1,639.0 1329.3,638.3 1328.8,636.2 1329.3,633.0 1329.2,630.5 Z M1330.5,630.0 1330.4,625.3 1331.3,617.9 1333.7,610.3 1334.9,608.6 1335.7,605.9 1336.3,605.5 1336.8,603.1 1337.5,602.6 1337.9,601.3 1338.6,601.1 1339.5,598.3 1340.3,597.9 1342.2,593.4 1343.1,593.1 1348.0,586.1 1354.1,583.9 1360.5,583.2 1368.2,584.7 1370.5,585.8 1374.7,588.8 1376.7,592.6 1377.5,597.3 1377.2,599.2 1377.7,601.8 1377.3,607.5 1377.5,609.7 1377.0,615.2 1374.6,622.1 1374.9,622.8 1374.3,623.7 1374.4,624.4 1373.4,626.0 1373.5,627.3 1372.8,628.0 1373.0,628.7 1372.1,631.9 1370.3,635.4 1368.9,640.0 1365.4,646.5 1362.3,649.7 1354.9,655.6 1350.9,657.4 1348.0,657.8 1344.4,657.1 1339.9,655.0 1333.9,649.4 1331.2,644.3 1331.3,642.8 1330.9,642.4 1330.4,638.4 1330.8,636.6 1330.0,633.3 1330.5,630.5 Z M1332.0,630.0 1332.4,620.4 1332.9,617.8 1333.7,616.4 1333.7,614.9 1334.6,613.5 1334.8,611.9 1336.6,609.1 1337.8,605.3 1338.4,604.9 1338.7,603.6 1339.3,603.4 1340.2,600.7 1340.9,600.3 1342.6,596.2 1343.5,596.0 1348.0,590.1 1350.2,588.5 1352.4,587.8 1355.9,587.4 1360.6,587.6 1366.3,588.8 1371.2,592.1 1373.9,596.2 1374.6,600.5 1374.9,604.5 1373.8,619.3 1372.6,622.0 1372.6,623.4 1372.0,624.2 1371.3,627.6 1370.8,628.2 1370.9,628.8 1369.6,630.6 1369.6,631.7 1365.2,643.2 1359.1,650.5 1353.8,654.1 1348.0,656.0 1344.6,655.6 1339.9,652.9 1336.1,649.4 1334.1,646.3 1333.2,644.0 1331.6,637.8 1332.1,632.5 1331.9,630.4 Z M1332.7,630.0 1333.3,623.0 1334.7,617.3 1334.6,615.9 1335.5,614.6 1336.3,612.0 1338.0,609.0 1338.5,607.0 1339.9,605.1 1340.7,602.6 1341.4,602.3 1343.0,598.5 1343.8,598.2 1348.0,593.0 1350.0,591.8 1354.2,590.6 1358.5,590.7 1361.7,591.3 1365.7,592.9 1369.2,595.3 1370.7,596.9 1371.6,599.3 1372.3,603.1 1372.2,611.4 1372.6,613.1 1371.1,621.8 1370.0,625.3 1368.9,626.7 1369.0,627.8 1368.2,631.6 1367.7,632.1 1366.7,635.5 1364.7,640.3 1363.2,642.3 1361.5,645.8 1359.5,647.7 1357.6,648.9 1355.0,651.6 1350.5,653.9 1348.6,654.3 1344.9,653.9 1341.9,652.9 1337.9,649.9 1334.7,644.8 1333.4,639.5 1333.6,637.8 1332.9,634.9 1333.2,633.5 1332.5,631.6 1332.7,630.4 Z M1334.3,630.0 1334.4,624.4 1336.5,614.2 1338.2,612.0 1339.3,608.9 1340.6,607.2 1341.3,605.0 1341.9,604.8 1343.5,601.3 1344.2,601.1 1348.0,596.1 1351.7,594.4 1356.7,593.8 1363.3,595.7 1367.9,599.3 1369.5,602.0 1370.1,605.4 1370.4,616.3 1369.8,618.9 1367.8,624.1 1367.6,625.8 1367.0,627.0 1367.4,628.0 1367.0,628.5 1367.1,629.0 1364.9,636.0 1361.8,641.8 1357.9,647.1 1353.5,650.7 1349.8,652.5 1347.4,652.8 1345.0,652.5 1341.4,650.4 1339.1,648.6 1337.5,646.1 1335.1,643.6 1334.9,640.1 1333.8,636.8 1334.2,635.3 1334.4,630.4 Z M1335.3,630.0 1335.4,626.6 1336.2,624.0 1336.1,621.3 1337.6,615.7 1338.6,614.7 1338.7,613.9 1339.2,613.7 1339.3,612.9 1339.7,612.6 1340.0,610.8 1343.9,603.9 1344.5,603.5 1348.0,599.0 1349.7,598.2 1353.1,597.5 1356.7,597.6 1361.8,599.0 1365.9,602.5 1367.2,605.0 1367.7,608.1 1367.5,612.5 1367.9,617.8 1366.2,624.6 1366.2,626.1 1365.7,627.2 1365.9,628.1 1364.4,630.4 1363.4,635.0 1361.8,638.9 1358.4,644.3 1356.0,646.8 1351.2,650.1 1348.0,651.4 1344.7,650.8 1340.5,648.1 1336.6,643.4 1335.6,638.1 1335.2,630.3 Z M1336.6,630.0 1336.9,624.0 1338.0,619.5 1340.4,614.0 1340.7,612.3 1341.8,610.8 1342.4,609.1 1342.9,608.9 1344.2,606.1 1348.0,601.9 1351.8,600.8 1354.9,601.1 1360.9,603.0 1363.4,604.9 1365.0,607.8 1365.5,613.4 1365.6,619.2 1364.5,625.6 1363.1,628.8 1362.4,631.9 1360.3,638.0 1359.5,639.3 1357.9,641.0 1356.5,643.9 1353.9,646.7 1351.9,648.4 1348.0,650.2 1345.9,649.8 1342.2,647.9 1339.2,644.4 1337.3,640.1 1336.5,630.3 Z M1337.6,630.0 1338.2,626.2 1338.4,622.2 1339.7,619.7 1340.0,617.7 1340.8,616.7 1343.1,611.6 1343.5,611.4 1344.7,609.2 1348.0,604.9 1350.1,603.9 1352.9,603.8 1358.2,605.4 1359.4,606.2 1361.3,608.2 1362.8,611.7 1363.2,619.5 1362.8,624.3 1360.7,630.7 1360.0,634.6 1357.6,639.6 1355.9,642.2 1350.8,647.5 1349.4,648.2 1345.1,648.0 1341.4,644.9 1339.9,643.2 1339.1,641.6 1338.4,637.4 1337.8,635.9 1337.7,630.3 Z M1339.0,630.0 1339.4,624.7 1340.2,622.6 1340.5,619.6 1342.2,615.9 1348.0,607.7 1349.8,607.2 1353.4,607.6 1357.6,610.0 1359.8,611.8 1360.7,613.5 1361.1,621.0 1360.7,625.1 1359.5,628.2 1359.4,630.9 1356.9,637.6 1355.1,639.8 1353.1,643.2 1350.5,646.0 1349.3,646.7 1346.7,647.0 1344.2,645.8 1342.3,643.8 1339.2,638.4 1338.6,635.4 1338.6,633.6 1339.2,631.6 1339.0,630.2 Z M1340.3,630.0 1340.5,629.6 1340.0,628.7 1340.2,627.9 1340.6,626.0 1340.9,625.9 1340.7,623.1 1344.1,615.5 1348.0,611.1 1350.6,610.3 1353.1,611.0 1354.2,612.5 1356.9,614.5 1358.1,616.9 1358.7,623.1 1358.0,627.9 1356.6,632.3 1356.7,634.1 1356.2,635.6 1355.1,638.3 1350.9,643.7 1347.6,645.3 1345.2,645.0 1343.5,643.8 1340.5,637.9 1340.6,635.7 1339.8,631.1 1340.2,630.2 Z M1341.0,630.0 1341.8,623.5 1345.4,615.9 1348.9,613.0 1350.3,612.8 1352.0,613.2 1354.8,615.7 1356.1,617.5 1356.9,623.5 1356.6,627.9 1356.0,629.6 1356.2,631.1 1354.9,634.0 1354.9,635.3 1354.2,636.2 1353.2,638.5 1351.6,641.2 1348.7,643.9 1347.3,644.2 1345.4,643.8 1343.9,642.5 1341.8,639.5 1341.4,635.9 1340.7,633.7 1341.0,630.2 Z M1342.3,630.0 1342.0,628.9 1342.4,628.0 1342.2,626.7 1343.2,623.1 1344.4,619.9 1345.8,618.0 1347.3,616.1 1348.4,615.6 1349.9,615.7 1351.9,616.7 1353.0,617.9 1354.5,620.6 1355.0,625.7 1354.4,628.5 1354.8,629.1 1353.9,632.5 1354.1,633.3 1353.3,634.3 1353.4,635.7 1352.5,638.3 1350.2,641.7 1348.7,642.8 1347.0,643.2 1345.3,642.6 1344.2,641.6 1343.1,639.5 1341.8,634.5 1342.1,632.8 1341.8,631.8 1342.3,630.1 Z M1343.1,630.0 1343.2,626.1 1343.9,625.2 1345.1,620.9 1347.7,618.2 1349.3,617.9 1350.7,618.9 1352.4,621.8 1353.2,630.5 1352.6,632.0 1352.5,634.5 1350.5,639.4 1349.5,641.0 1348.3,641.9 1347.0,642.1 1345.8,641.7 1344.7,640.2 1342.9,634.8 1342.8,630.1 Z M1405.1,568.0 1405.1,565.8 1405.6,564.0 1408.0,560.0 1410.1,558.1 1413.3,556.1 1418.7,554.7 1422.7,555.4 1428.0,558.0 1431.9,562.7 1433.1,567.6 1432.3,572.7 1429.7,576.6 1424.7,579.9 1422.4,580.7 1418.3,581.2 1413.6,580.1 1408.5,577.0 1406.5,574.4 1405.2,570.2 1405.1,568.4 Z M1409.5,568.0 1410.4,563.9 1412.8,561.1 1416.4,559.4 1420.4,559.0 1422.6,560.0 1424.3,560.2 1427.2,563.0 1428.5,568.5 1428.0,571.2 1426.0,574.3 1423.0,576.3 1419.5,577.2 1415.0,576.3 1413.3,575.4 1410.2,571.9 1409.5,568.2 Z M1414.0,568.0 1414.1,566.1 1415.2,564.7 1418.2,562.9 1419.4,563.2 1420.5,563.0 1421.4,564.0 1422.4,564.3 1423.7,566.2 1424.1,567.6 1423.9,569.7 1423.0,571.4 1421.3,572.6 1419.7,573.1 1416.9,572.6 1415.2,571.3 1414.3,570.2 1414.0,568.1 Z" fill="none" stroke="#555" stroke-width="0.9" stroke-linejoin="round"/>
<circle cx="1357" cy="539" r="0.9" fill="#777"/>
<circle cx="1383" cy="551" r="0.9" fill="#777"/>
<circle cx="1422" cy="531" r="0.9" fill="#777"/>
<circle cx="1447" cy="531" r="0.9" fill="#777"/>
<circle cx="1453" cy="555" r="0.9" fill="#777"/>
<circle cx="1456" cy="568" r="0.9" fill="#777"/>
<circle cx="1447" cy="584" r="0.9" fill="#777"/>
<circle cx="1440" cy="625" r="0.9" fill="#777"/>
<circle cx="1420" cy="628" r="0.9" fill="#777"/>
<circle cx="1413" cy="629" r="0.9" fill="#777"/>
<circle cx="1443" cy="640" r="0.9" fill="#777"/>
<circle cx="1418" cy="651" r="0.9" fill="#777"/>
<circle cx="1414" cy="642" r="0.9" fill="#777"/>
<circle cx="1400" cy="660" r="0.9" fill="#777"/>
<circle cx="1396" cy="622" r="0.9" fill="#777"/>
<circle cx="1452" cy="595" r="0.9" fill="#777"/>
<circle cx="1395" cy="661" r="0.9" fill="#777"/>
<circle cx="1362" cy="556" r="0.9" fill="#777"/>
<line x1="1269.2" y1="474.6" x2="1512" y2="474.6" stroke="#666" stroke-width="1.6"/>
<line x1="1269.2" y1="474.6" x2="1269.2" y2="717.4" stroke="#666" stroke-width="1.6"/>
<line x1="1269.2" y1="717.4" x2="1512" y2="717.4" stroke="#666" stroke-width="1.6"/>
<line x1="1392.6" y1="474.6" x2="1392.6" y2="717.4" stroke="#000" stroke-width="2"/>
<line x1="1269.2" y1="603.5" x2="1512" y2="603.5" stroke="#000" stroke-width="2"/>
<line x1="1263.2" y1="498" x2="1269.2" y2="498" stroke="#333" stroke-width="1.6"/>
<line x1="1263.2" y1="556" x2="1269.2" y2="556" stroke="#333" stroke-width="1.6"/>
<line x1="1263.2" y1="622" x2="1269.2" y2="622" stroke="#333" stroke-width="1.6"/>
<line x1="1263.2" y1="702" x2="1269.2" y2="702" stroke="#333" stroke-width="1.6"/>
<line x1="1265.7" y1="602.13" x2="1269.2" y2="602.13" stroke="#555" stroke-width="1.2"/>
<line x1="1265.7" y1="590.51" x2="1269.2" y2="590.51" stroke="#555" stroke-width="1.2"/>
<line x1="1265.7" y1="582.26" x2="1269.2" y2="582.26" stroke="#555" stroke-width="1.2"/>
<line x1="1265.7" y1="575.87" x2="1269.2" y2="575.87" stroke="#555" stroke-width="1.2"/>
<line x1="1265.7" y1="570.64" x2="1269.2" y2="570.64" stroke="#555" stroke-width="1.2"/>
<line x1="1265.7" y1="566.22" x2="1269.2" y2="566.22" stroke="#555" stroke-width="1.2"/>
<line x1="1265.7" y1="562.4" x2="1269.2" y2="562.4" stroke="#555" stroke-width="1.2"/>
<line x1="1265.7" y1="559.02" x2="1269.2" y2="559.02" stroke="#555" stroke-width="1.2"/>
<line x1="1265.7" y1="538.54" x2="1269.2" y2="538.54" stroke="#555" stroke-width="1.2"/>
<line x1="1265.7" y1="528.33" x2="1269.2" y2="528.33" stroke="#555" stroke-width="1.2"/>
<line x1="1265.7" y1="521.08" x2="1269.2" y2="521.08" stroke="#555" stroke-width="1.2"/>
<line x1="1265.7" y1="515.46" x2="1269.2" y2="515.46" stroke="#555" stroke-width="1.2"/>
<line x1="1265.7" y1="510.87" x2="1269.2" y2="510.87" stroke="#555" stroke-width="1.2"/>
<line x1="1265.7" y1="506.98" x2="1269.2" y2="506.98" stroke="#555" stroke-width="1.2"/>
<line x1="1265.7" y1="503.62" x2="1269.2" y2="503.62" stroke="#555" stroke-width="1.2"/>
<line x1="1265.7" y1="500.65" x2="1269.2" y2="500.65" stroke="#555" stroke-width="1.2"/>
<line x1="1265.7" y1="479.34" x2="1269.2" y2="479.34" stroke="#555" stroke-width="1.2"/>
<line x1="1263.2" y1="657" x2="1269.2" y2="657" stroke="#222" stroke-width="1.1"/>
<line x1="1263.2" y1="658.3" x2="1269.2" y2="658.3" stroke="#222" stroke-width="1.1"/>
<line x1="1263.2" y1="659.6" x2="1269.2" y2="659.6" stroke="#222" stroke-width="1.1"/>
<line x1="1263.2" y1="660.9" x2="1269.2" y2="660.9" stroke="#222" stroke-width="1.1"/>
<line x1="1263.2" y1="662.2" x2="1269.2" y2="662.2" stroke="#222" stroke-width="1.1"/>
<line x1="1263.2" y1="663.5" x2="1269.2" y2="663.5" stroke="#222" stroke-width="1.1"/>
<line x1="1263.2" y1="664.8" x2="1269.2" y2="664.8" stroke="#222" stroke-width="1.1"/>
<line x1="1263.2" y1="666.1" x2="1269.2" y2="666.1" stroke="#222" stroke-width="1.1"/>
<line x1="1283" y1="717.4" x2="1283" y2="723.4" stroke="#333" stroke-width="1.6"/>
<line x1="1363" y1="717.4" x2="1363" y2="723.4" stroke="#333" stroke-width="1.6"/>
<line x1="1429" y1="717.4" x2="1429" y2="723.4" stroke="#333" stroke-width="1.6"/>
<line x1="1488" y1="717.4" x2="1488" y2="723.4" stroke="#333" stroke-width="1.6"/>
<line x1="1382.87" y1="717.4" x2="1382.87" y2="720.9" stroke="#555" stroke-width="1.2"/>
<line x1="1394.49" y1="717.4" x2="1394.49" y2="720.9" stroke="#555" stroke-width="1.2"/>
<line x1="1402.74" y1="717.4" x2="1402.74" y2="720.9" stroke="#555" stroke-width="1.2"/>
<line x1="1409.13" y1="717.4" x2="1409.13" y2="720.9" stroke="#555" stroke-width="1.2"/>
<line x1="1414.36" y1="717.4" x2="1414.36" y2="720.9" stroke="#555" stroke-width="1.2"/>
<line x1="1418.78" y1="717.4" x2="1418.78" y2="720.9" stroke="#555" stroke-width="1.2"/>
<line x1="1422.6" y1="717.4" x2="1422.6" y2="720.9" stroke="#555" stroke-width="1.2"/>
<line x1="1425.98" y1="717.4" x2="1425.98" y2="720.9" stroke="#555" stroke-width="1.2"/>
<line x1="1446.76" y1="717.4" x2="1446.76" y2="720.9" stroke="#555" stroke-width="1.2"/>
<line x1="1457.15" y1="717.4" x2="1457.15" y2="720.9" stroke="#555" stroke-width="1.2"/>
<line x1="1464.52" y1="717.4" x2="1464.52" y2="720.9" stroke="#555" stroke-width="1.2"/>
<line x1="1470.24" y1="717.4" x2="1470.24" y2="720.9" stroke="#555" stroke-width="1.2"/>
<line x1="1474.91" y1="717.4" x2="1474.91" y2="720.9" stroke="#555" stroke-width="1.2"/>
<line x1="1478.86" y1="717.4" x2="1478.86" y2="720.9" stroke="#555" stroke-width="1.2"/>
<line x1="1482.28" y1="717.4" x2="1482.28" y2="720.9" stroke="#555" stroke-width="1.2"/>
<line x1="1485.3" y1="717.4" x2="1485.3" y2="720.9" stroke="#555" stroke-width="1.2"/>
<line x1="1505.34" y1="717.4" x2="1505.34" y2="720.9" stroke="#555" stroke-width="1.2"/>
<line x1="1515.48" y1="717.4" x2="1515.48" y2="720.9" stroke="#555" stroke-width="1.2"/>
<line x1="1319" y1="717.4" x2="1319" y2="723.4" stroke="#222" stroke-width="1.1"/>
<line x1="1320.3" y1="717.4" x2="1320.3" y2="723.4" stroke="#222" stroke-width="1.1"/>
<line x1="1321.6" y1="717.4" x2="1321.6" y2="723.4" stroke="#222" stroke-width="1.1"/>
<line x1="1322.9" y1="717.4" x2="1322.9" y2="723.4" stroke="#222" stroke-width="1.1"/>
<line x1="1324.2" y1="717.4" x2="1324.2" y2="723.4" stroke="#222" stroke-width="1.1"/>
<line x1="1325.5" y1="717.4" x2="1325.5" y2="723.4" stroke="#222" stroke-width="1.1"/>
<line x1="1326.8" y1="717.4" x2="1326.8" y2="723.4" stroke="#222" stroke-width="1.1"/>
<line x1="1328.1" y1="717.4" x2="1328.1" y2="723.4" stroke="#222" stroke-width="1.1"/>
<text x="1272.35" y="507.5" font-size="34" textLength="72.19" lengthAdjust="spacingAndGlyphs">29.8</text>
<text x="1435.29" y="507.5" font-size="34" textLength="70.39" lengthAdjust="spacingAndGlyphs">14.9</text>
<text x="1273.44" y="709" font-size="34" textLength="71.26" lengthAdjust="spacingAndGlyphs">51.9</text>
<text x="1435.15" y="709" font-size="34" textLength="70.53" lengthAdjust="spacingAndGlyphs">3.49</text>
<text x="1329.87" y="465" font-size="36">B16 TIL</text>
<rect x="1667.25" y="703.82" width="30" height="27.18" fill="#fff" stroke="#000" stroke-width="2.5"/>
<rect x="1717.25" y="504.77" width="29" height="226.23" fill="#fff" stroke="#000" stroke-width="2.5"/>
<line x1="1682.25" y1="702.57" x2="1682.25" y2="706.44" stroke="#000" stroke-width="2.5"/>
<line x1="1676.25" y1="706.44" x2="1688.25" y2="706.44" stroke="#000" stroke-width="2.5"/>
<line x1="1682.25" y1="702.57" x2="1682.25" y2="698.69" stroke="#000" stroke-width="2.5"/>
<line x1="1676.25" y1="698.69" x2="1688.25" y2="698.69" stroke="#000" stroke-width="2.5"/>
<line x1="1731.75" y1="503.52" x2="1731.75" y2="506.11" stroke="#000" stroke-width="2.5"/>
<line x1="1725.75" y1="506.11" x2="1737.75" y2="506.11" stroke="#000" stroke-width="2.5"/>
<line x1="1731.75" y1="503.52" x2="1731.75" y2="500.94" stroke="#000" stroke-width="2.5"/>
<line x1="1725.75" y1="500.94" x2="1737.75" y2="500.94" stroke="#000" stroke-width="2.5"/>
<circle cx="1682.3" cy="671.4" r="5.3" fill="#e00000" stroke="#400" stroke-width="1.6"/>
<circle cx="1682.3" cy="682.6" r="5.3" fill="#e00000" stroke="#400" stroke-width="1.6"/>
<circle cx="1676" cy="692.5" r="5.3" fill="#e00000" stroke="#400" stroke-width="1.6"/>
<circle cx="1687.3" cy="692.5" r="5.3" fill="#e00000" stroke="#400" stroke-width="1.6"/>
<circle cx="1692.3" cy="692.5" r="5.3" fill="#e00000" stroke="#400" stroke-width="1.6"/>
<circle cx="1678.6" cy="702.5" r="5.3" fill="#e00000" stroke="#400" stroke-width="1.6"/>
<circle cx="1688.5" cy="697.5" r="5.3" fill="#e00000" stroke="#400" stroke-width="1.6"/>
<circle cx="1669.9" cy="713.7" r="5.3" fill="#e00000" stroke="#400" stroke-width="1.6"/>
<circle cx="1692.3" cy="715" r="5.3" fill="#e00000" stroke="#400" stroke-width="1.6"/>
<circle cx="1681" cy="721.2" r="5.3" fill="#e00000" stroke="#400" stroke-width="1.6"/>
<circle cx="1693.5" cy="721.2" r="5.3" fill="#e00000" stroke="#400" stroke-width="1.6"/>
<circle cx="1672.4" cy="696.3" r="5.3" fill="#e00000" stroke="#400" stroke-width="1.6"/>
<circle cx="1670" cy="705" r="5.3" fill="#e00000" stroke="#400" stroke-width="1.6"/>
<circle cx="1683" cy="708" r="5.3" fill="#e00000" stroke="#400" stroke-width="1.6"/>
<circle cx="1675" cy="717" r="5.3" fill="#e00000" stroke="#400" stroke-width="1.6"/>
<circle cx="1690" cy="705" r="5.3" fill="#e00000" stroke="#400" stroke-width="1.6"/>
<circle cx="1695" cy="700" r="5.3" fill="#e00000" stroke="#400" stroke-width="1.6"/>
<circle cx="1668" cy="716" r="5.3" fill="#e00000" stroke="#400" stroke-width="1.6"/>
<circle cx="1684" cy="714" r="5.3" fill="#e00000" stroke="#400" stroke-width="1.6"/>
<circle cx="1677" cy="684" r="5.3" fill="#e00000" stroke="#400" stroke-width="1.6"/>
<circle cx="1688" cy="686" r="5.3" fill="#e00000" stroke="#400" stroke-width="1.6"/>
<circle cx="1671" cy="700" r="5.3" fill="#e00000" stroke="#400" stroke-width="1.6"/>
<circle cx="1694" cy="709" r="5.3" fill="#e00000" stroke="#400" stroke-width="1.6"/>
<circle cx="1680" cy="698" r="5.3" fill="#e00000" stroke="#400" stroke-width="1.6"/>
<circle cx="1686" cy="724" r="5.3" fill="#e00000" stroke="#400" stroke-width="1.6"/>
<circle cx="1720" cy="484" r="5.3" fill="#000" stroke="#000" stroke-width="1.2"/>
<circle cx="1727" cy="482" r="5.3" fill="#000" stroke="#000" stroke-width="1.2"/>
<circle cx="1733" cy="481" r="5.3" fill="#000" stroke="#000" stroke-width="1.2"/>
<circle cx="1740" cy="484" r="5.3" fill="#000" stroke="#000" stroke-width="1.2"/>
<circle cx="1745" cy="488" r="5.3" fill="#000" stroke="#000" stroke-width="1.2"/>
<circle cx="1722" cy="492" r="5.3" fill="#000" stroke="#000" stroke-width="1.2"/>
<circle cx="1730" cy="490" r="5.3" fill="#000" stroke="#000" stroke-width="1.2"/>
<circle cx="1738" cy="492" r="5.3" fill="#000" stroke="#000" stroke-width="1.2"/>
<circle cx="1745" cy="496" r="5.3" fill="#000" stroke="#000" stroke-width="1.2"/>
<circle cx="1719" cy="499" r="5.3" fill="#000" stroke="#000" stroke-width="1.2"/>
<circle cx="1726" cy="500" r="5.3" fill="#000" stroke="#000" stroke-width="1.2"/>
<circle cx="1734" cy="498" r="5.3" fill="#000" stroke="#000" stroke-width="1.2"/>
<circle cx="1742" cy="501" r="5.3" fill="#000" stroke="#000" stroke-width="1.2"/>
<circle cx="1747" cy="505" r="5.3" fill="#000" stroke="#000" stroke-width="1.2"/>
<circle cx="1721" cy="506" r="5.3" fill="#000" stroke="#000" stroke-width="1.2"/>
<circle cx="1729" cy="507" r="5.3" fill="#000" stroke="#000" stroke-width="1.2"/>
<circle cx="1737" cy="508" r="5.3" fill="#000" stroke="#000" stroke-width="1.2"/>
<circle cx="1744" cy="510" r="5.3" fill="#000" stroke="#000" stroke-width="1.2"/>
<circle cx="1723" cy="514" r="5.3" fill="#000" stroke="#000" stroke-width="1.2"/>
<circle cx="1731" cy="516" r="5.3" fill="#000" stroke="#000" stroke-width="1.2"/>
<circle cx="1739" cy="513" r="5.3" fill="#000" stroke="#000" stroke-width="1.2"/>
<circle cx="1727" cy="522" r="5.3" fill="#000" stroke="#000" stroke-width="1.2"/>
<circle cx="1735" cy="521" r="5.3" fill="#000" stroke="#000" stroke-width="1.2"/>
<circle cx="1731" cy="530" r="5.3" fill="#000" stroke="#000" stroke-width="1.2"/>
<circle cx="1732" cy="535" r="5.3" fill="#000" stroke="#000" stroke-width="1.2"/>
<line x1="1639" y1="471.25" x2="1639" y2="732.25" stroke="#000" stroke-width="2.5"/>
<line x1="1637.75" y1="731" x2="1766" y2="731" stroke="#000" stroke-width="2.5"/>
<line x1="1632" y1="731" x2="1639" y2="731" stroke="#000" stroke-width="2.5"/>
<line x1="1632" y1="666.38" x2="1639" y2="666.38" stroke="#000" stroke-width="2.5"/>
<line x1="1632" y1="601.75" x2="1639" y2="601.75" stroke="#000" stroke-width="2.5"/>
<line x1="1632" y1="537.12" x2="1639" y2="537.12" stroke="#000" stroke-width="2.5"/>
<line x1="1632" y1="472.5" x2="1639" y2="472.5" stroke="#000" stroke-width="2.5"/>
<text x="1628.8" y="742.07" font-size="34" text-anchor="end">0</text>
<text x="1628.8" y="677.45" font-size="34" text-anchor="end">25</text>
<text x="1628.8" y="612.82" font-size="34" text-anchor="end">50</text>
<text x="1628.8" y="548.2" font-size="34" text-anchor="end">75</text>
<text x="1628.8" y="483.57" font-size="34" text-anchor="end">100</text>
<line x1="1682.25" y1="731" x2="1682.25" y2="740" stroke="#000" stroke-width="2.5"/>
<line x1="1731.75" y1="731" x2="1731.75" y2="740" stroke="#000" stroke-width="2.5"/>
<text x="1684.53" y="435.6" font-size="33" textLength="44.26" lengthAdjust="spacingAndGlyphs">LN</text>
<line x1="1686" y1="471" x2="1731.5" y2="471" stroke="#000" stroke-width="4"/>
<text x="1707.5" y="474.2" font-size="29" text-anchor="middle">****</text>
<text x="1682.5" y="764" font-size="34" text-anchor="middle">+</text>
<text x="1733" y="764" font-size="34" text-anchor="middle">–</text>
<text x="0" y="0" font-size="33" transform="translate(1568,728.63) rotate(-90)" textLength="270.77" lengthAdjust="spacingAndGlyphs">% of pHrodo+ Treg</text>
<rect x="1896.45" y="663.63" width="29.9" height="66.27" fill="#fff" stroke="#000" stroke-width="2.5"/>
<rect x="1946.75" y="540.27" width="28.6" height="189.63" fill="#fff" stroke="#000" stroke-width="2.5"/>
<line x1="1911.4" y1="662.38" x2="1911.4" y2="669.39" stroke="#000" stroke-width="2.5"/>
<line x1="1905.4" y1="669.39" x2="1917.4" y2="669.39" stroke="#000" stroke-width="2.5"/>
<line x1="1911.4" y1="662.38" x2="1911.4" y2="653.55" stroke="#000" stroke-width="2.5"/>
<line x1="1905.4" y1="653.55" x2="1917.4" y2="653.55" stroke="#000" stroke-width="2.5"/>
<line x1="1961.05" y1="539.02" x2="1961.05" y2="546.55" stroke="#000" stroke-width="2.5"/>
<line x1="1955.05" y1="546.55" x2="1967.05" y2="546.55" stroke="#000" stroke-width="2.5"/>
<line x1="1961.05" y1="539.02" x2="1961.05" y2="529.67" stroke="#000" stroke-width="2.5"/>
<line x1="1955.05" y1="529.67" x2="1967.05" y2="529.67" stroke="#000" stroke-width="2.5"/>
<circle cx="1911.4" cy="641" r="5.3" fill="#e00000" stroke="#400" stroke-width="1.6"/>
<circle cx="1911.4" cy="656.4" r="5.3" fill="#e00000" stroke="#400" stroke-width="1.6"/>
<circle cx="1900.2" cy="678.3" r="5.3" fill="#e00000" stroke="#400" stroke-width="1.6"/>
<circle cx="1922.6" cy="671.4" r="5.3" fill="#e00000" stroke="#400" stroke-width="1.6"/>
<circle cx="1948.7" cy="528.2" r="5.3" fill="#000" stroke="#000" stroke-width="1.2"/>
<circle cx="1972.4" cy="522" r="5.3" fill="#000" stroke="#000" stroke-width="1.2"/>
<circle cx="1961.2" cy="543.2" r="5.3" fill="#000" stroke="#000" stroke-width="1.2"/>
<circle cx="1961.2" cy="559.3" r="5.3" fill="#000" stroke="#000" stroke-width="1.2"/>
<line x1="1877.8" y1="468.95" x2="1877.8" y2="731.15" stroke="#000" stroke-width="2.5"/>
<line x1="1876.55" y1="729.9" x2="1994.8" y2="729.9" stroke="#000" stroke-width="2.5"/>
<line x1="1870.8" y1="729.9" x2="1877.8" y2="729.9" stroke="#000" stroke-width="2.5"/>
<line x1="1870.8" y1="664.98" x2="1877.8" y2="664.98" stroke="#000" stroke-width="2.5"/>
<line x1="1870.8" y1="600.05" x2="1877.8" y2="600.05" stroke="#000" stroke-width="2.5"/>
<line x1="1870.8" y1="535.12" x2="1877.8" y2="535.12" stroke="#000" stroke-width="2.5"/>
<line x1="1870.8" y1="470.2" x2="1877.8" y2="470.2" stroke="#000" stroke-width="2.5"/>
<text x="1867.6" y="740.97" font-size="34" text-anchor="end">0</text>
<text x="1867.6" y="676.05" font-size="34" text-anchor="end">25</text>
<text x="1867.6" y="611.12" font-size="34" text-anchor="end">50</text>
<text x="1867.6" y="546.2" font-size="34" text-anchor="end">75</text>
<text x="1867.6" y="481.27" font-size="34" text-anchor="end">100</text>
<line x1="1911.4" y1="729.9" x2="1911.4" y2="738.9" stroke="#000" stroke-width="2.5"/>
<line x1="1961.05" y1="729.9" x2="1961.05" y2="738.9" stroke="#000" stroke-width="2.5"/>
<text x="1880.42" y="442.4" font-size="33" textLength="112.31" lengthAdjust="spacingAndGlyphs">B16 TIL</text>
<line x1="1899" y1="507.6" x2="1965.4" y2="507.6" stroke="#000" stroke-width="4"/>
<text x="1932.5" y="510.2" font-size="29" text-anchor="middle">****</text>
<text x="1907.6" y="764" font-size="34" text-anchor="middle">+</text>
<text x="1961.2" y="764" font-size="34" text-anchor="middle">–</text>
<text x="1996.83" y="762.3" font-size="30" textLength="114.81" lengthAdjust="spacingAndGlyphs">2NBDG</text>
<text x="0" y="0" font-size="33" transform="translate(1797,729.74) rotate(-90)" textLength="273.4" lengthAdjust="spacingAndGlyphs">% of pHrodo+ Treg</text>
<text x="5.8" y="838.6" font-size="65">e</text>
<text x="377.67" y="849.4" font-size="32" textLength="45.68" lengthAdjust="spacingAndGlyphs">TIL</text>
<text x="253.6" y="881" font-size="34"><tspan>H</tspan><tspan font-size="24" dy="9">2</tspan><tspan dy="-9">O</tspan></text>
<text x="488.02" y="882.5" font-size="33" textLength="75.87" lengthAdjust="spacingAndGlyphs">3MP</text>
<path d="M228.8,1032.7 223.8,1033.1 217.3,1032.6 213.3,1031.5 209.3,1029.6 206.8,1027.7 204.6,1025.2 200.3,1018.2 198.7,1014.7 197.9,1010.7 198.2,1006.7 201.4,999.7 203.5,993.2 208.3,986.7 212.3,983.7 216.8,982.4 232.8,980.7 241.3,979.2 249.8,978.8 257.8,977.3 270.3,977.3 280.8,975.3 293.8,975.5 298.8,976.7 305.0,980.2 314.3,989.2 316.4,992.2 318.1,996.7 318.6,1001.2 317.9,1004.7 314.8,1012.7 312.2,1016.2 304.8,1022.4 301.3,1024.5 296.8,1026.0 289.3,1026.4 278.3,1029.0 264.8,1029.0 253.3,1030.7 242.8,1030.7 228.8,1032.7 Z M226.3,1030.2 222.3,1030.4 217.3,1029.8 213.8,1028.6 210.8,1027.0 207.1,1023.2 202.0,1015.7 200.8,1012.7 200.5,1010.2 200.8,1007.7 203.8,1001.7 206.1,994.2 210.8,988.4 214.3,986.0 239.3,982.2 249.3,982.4 258.3,980.0 261.8,980.0 269.8,981.1 280.3,978.4 293.8,978.6 298.3,979.8 303.3,983.1 311.8,991.0 315.1,996.2 315.9,999.7 315.9,1003.2 314.9,1006.7 312.8,1010.7 310.8,1013.2 303.3,1019.8 299.3,1022.1 295.8,1022.9 288.2,1023.2 277.3,1026.4 274.3,1026.3 266.3,1024.8 254.3,1028.0 242.3,1027.2 226.3,1030.2 Z M228.3,1027.7 224.8,1028.2 220.8,1028.0 216.3,1027.1 213.3,1025.8 209.2,1022.2 204.5,1015.7 203.0,1012.7 202.6,1010.2 203.0,1008.2 205.8,1002.7 208.0,995.2 211.8,990.7 215.3,988.4 237.8,984.5 249.3,985.0 258.8,982.1 262.3,982.2 267.3,984.1 269.3,984.4 280.3,980.8 292.8,980.9 296.8,981.9 300.5,984.2 310.6,993.2 313.3,997.7 314.0,1000.7 314.0,1003.2 312.3,1007.9 309.8,1010.7 302.0,1017.7 298.3,1019.9 295.3,1020.5 287.3,1021.1 277.3,1024.1 274.3,1024.1 268.8,1022.4 266.3,1022.1 254.3,1025.7 241.3,1024.6 228.3,1027.7 Z M225.8,1026.2 217.8,1025.3 213.3,1023.4 208.3,1018.0 206.0,1014.7 204.9,1012.2 204.9,1008.7 207.5,1003.2 209.6,996.2 212.3,992.7 216.3,990.3 236.3,986.5 249.8,987.1 259.3,984.1 262.3,984.5 266.3,986.7 268.8,987.1 279.3,982.9 291.3,982.7 295.8,983.8 299.3,986.0 308.7,993.7 310.6,996.2 311.9,999.2 312.3,1003.7 310.8,1007.3 300.8,1016.0 297.3,1017.9 286.8,1019.4 276.8,1022.2 274.3,1022.1 268.8,1020.4 265.8,1020.1 253.8,1023.6 240.3,1022.8 225.8,1026.2 Z M228.8,1024.3 223.8,1024.5 215.3,1022.4 210.8,1018.6 207.2,1013.2 206.7,1011.2 206.8,1009.2 209.1,1003.7 210.8,997.7 212.8,994.6 215.8,992.5 223.3,991.3 232.8,988.6 237.8,988.3 249.3,988.9 259.3,986.3 261.3,986.6 265.3,988.6 268.3,988.9 277.8,984.3 280.8,983.7 284.8,983.7 292.8,984.8 296.8,986.4 306.8,993.9 309.1,996.7 310.5,999.7 310.9,1003.7 309.1,1007.2 299.3,1014.7 295.8,1016.4 286.8,1017.8 276.8,1020.2 273.8,1020.1 268.8,1018.7 265.8,1018.6 252.8,1021.7 238.8,1021.5 228.8,1024.3 Z M228.8,1022.8 224.3,1022.9 216.8,1021.0 212.8,1018.2 209.3,1013.7 208.6,1011.7 208.7,1009.7 211.9,999.7 213.3,996.7 215.8,994.6 218.3,993.9 223.8,993.6 229.8,991.0 234.3,990.1 247.3,990.6 258.8,988.9 267.3,990.5 277.3,985.4 280.8,984.6 284.3,984.5 291.8,985.8 298.3,988.7 305.9,994.7 307.9,997.2 309.3,1000.2 309.6,1002.2 309.3,1004.2 307.3,1007.2 299.3,1013.0 292.8,1015.8 276.3,1018.4 268.3,1017.2 264.8,1017.2 251.8,1020.0 240.3,1020.2 233.3,1022.1 228.8,1022.8 Z M230.3,1021.7 223.8,1021.2 218.3,1019.7 214.6,1017.2 211.3,1013.3 210.5,1010.2 211.1,1006.7 213.8,999.7 216.5,996.7 221.8,995.7 228.3,993.2 233.8,992.0 241.8,992.9 256.3,991.3 266.8,991.9 276.8,986.5 280.3,985.6 283.8,985.4 291.3,986.6 297.8,989.4 304.8,995.2 306.7,997.7 307.8,1000.2 307.9,1003.7 305.9,1006.7 298.8,1012.2 292.3,1015.0 282.3,1016.5 274.3,1016.6 267.8,1015.7 264.3,1015.7 248.8,1018.9 241.3,1019.0 230.3,1021.7 Z M231.8,1020.7 226.8,1020.7 218.8,1017.9 214.0,1013.7 212.8,1011.9 212.3,1010.0 212.4,1007.7 213.3,1004.8 216.3,999.8 220.9,997.2 229.3,993.9 233.8,993.7 240.3,995.5 252.3,993.5 266.3,993.3 272.3,989.6 276.8,987.4 280.8,986.3 285.3,986.3 292.3,987.7 297.8,990.4 303.8,995.7 306.5,1000.2 306.4,1003.7 303.7,1007.2 297.8,1011.8 291.8,1014.3 281.8,1015.7 267.3,1014.1 263.3,1014.2 255.8,1015.4 247.8,1017.5 242.3,1017.7 231.8,1020.7 Z M232.8,1019.8 227.3,1020.0 221.8,1017.8 215.8,1012.8 214.6,1011.2 214.0,1009.2 214.8,1005.2 218.2,1000.2 221.8,997.9 229.3,994.9 232.3,994.5 234.8,994.9 240.8,998.3 245.8,996.3 248.8,995.6 265.8,994.9 271.0,991.2 276.3,988.4 280.3,987.2 284.8,987.0 291.3,988.2 296.9,990.7 302.5,995.7 305.1,1000.2 304.9,1003.7 302.2,1007.2 297.2,1011.2 291.3,1013.6 285.8,1014.6 281.3,1014.9 267.8,1012.5 262.3,1012.6 255.8,1013.7 247.3,1016.0 243.3,1016.2 238.7,1018.2 232.8,1019.8 Z M231.3,1019.2 226.3,1018.9 221.3,1016.4 217.1,1012.2 216.0,1010.2 215.5,1008.2 216.5,1004.2 219.1,1000.7 222.8,998.4 229.3,995.8 232.3,995.4 234.8,995.9 242.3,1000.3 245.3,998.6 248.3,997.8 257.8,997.9 265.8,996.7 269.3,993.2 275.3,989.6 279.8,988.1 284.8,987.8 291.3,989.0 296.3,991.2 301.3,995.7 303.1,998.2 303.9,1000.2 303.5,1003.7 300.9,1007.2 296.3,1010.8 290.8,1013.0 285.3,1014.0 280.8,1014.1 275.8,1013.2 271.3,1011.2 266.3,1010.5 261.8,1010.7 247.3,1014.1 243.8,1014.5 238.8,1017.4 231.3,1019.2 Z M232.8,1018.3 227.8,1018.4 223.3,1016.7 218.8,1012.9 217.3,1010.7 216.6,1008.7 217.1,1005.2 219.5,1001.7 223.3,999.1 229.3,996.7 232.3,996.3 234.8,996.8 243.3,1002.3 245.8,1001.0 248.3,1000.5 258.3,1002.4 263.3,999.9 265.8,999.5 266.7,997.2 268.3,995.2 274.3,990.9 279.3,989.0 284.3,988.5 290.8,989.7 295.8,991.8 300.2,995.7 302.5,999.7 302.4,1003.2 300.1,1006.7 295.8,1010.2 290.8,1012.2 284.3,1013.3 279.3,1013.2 273.3,1011.4 268.8,1008.1 260.3,1007.8 252.8,1010.5 244.3,1012.2 242.7,1014.2 240.3,1015.8 232.8,1018.3 Z M282.8,1012.7 279.3,1012.5 275.3,1011.5 272.7,1010.2 270.2,1008.2 268.3,1005.7 267.0,1002.7 266.9,999.7 267.9,997.2 269.8,994.9 272.8,992.7 276.8,990.6 280.3,989.5 283.8,989.2 287.3,989.6 291.8,990.7 295.0,992.2 298.7,995.2 301.0,998.7 301.6,1001.7 300.5,1004.7 297.3,1008.2 293.8,1010.4 289.3,1011.9 282.8,1012.7 Z M231.3,1017.7 226.8,1017.3 222.5,1015.2 218.7,1011.2 217.6,1007.7 218.7,1004.2 221.5,1001.2 227.3,998.1 231.8,997.2 234.3,997.6 236.3,998.6 242.3,1003.0 244.3,1005.9 246.3,1005.1 247.3,1005.7 247.7,1006.7 246.8,1007.8 244.8,1008.2 243.3,1011.9 240.6,1014.7 236.3,1016.7 231.3,1017.7 Z M285.8,1011.8 281.3,1012.0 277.3,1011.3 273.8,1010.0 270.9,1007.7 268.8,1004.7 267.9,1001.2 268.5,998.2 270.7,995.2 273.8,992.9 277.3,991.2 280.4,990.2 283.8,989.9 287.8,990.4 292.3,991.7 295.3,993.3 297.8,995.5 299.7,998.2 300.5,1000.7 300.3,1002.7 299.0,1005.2 296.7,1007.7 293.8,1009.6 290.3,1010.9 285.8,1011.8 Z M233.3,1016.7 228.8,1016.9 224.8,1015.7 220.8,1012.4 218.8,1008.7 219.3,1005.2 221.7,1002.2 225.8,999.6 230.3,998.1 233.8,998.3 236.8,999.9 241.8,1004.0 243.4,1007.2 243.0,1010.2 241.0,1013.2 237.8,1015.3 233.3,1016.7 Z M284.3,1011.2 278.8,1010.9 274.1,1009.2 270.8,1006.2 269.0,1002.2 269.4,998.7 271.4,995.7 276.3,992.4 281.3,990.8 286.8,990.9 293.3,993.0 297.4,996.2 299.3,1000.2 299.3,1002.2 298.5,1004.2 295.3,1007.8 290.8,1010.0 284.3,1011.2 Z M231.8,1016.2 227.8,1016.0 224.0,1014.2 221.0,1011.2 219.8,1007.7 220.8,1004.7 223.0,1002.2 227.3,999.8 231.3,998.8 234.3,999.4 237.8,1001.7 241.0,1004.7 242.3,1007.7 241.6,1010.7 239.6,1013.2 236.1,1015.2 231.8,1016.2 Z M286.8,1010.2 282.3,1010.6 278.8,1010.2 275.3,1009.0 272.8,1007.2 270.7,1004.2 270.0,1001.2 270.5,998.7 272.2,996.2 274.7,994.2 277.8,992.6 283.3,991.3 286.8,991.7 290.8,992.7 293.8,994.1 295.8,995.7 297.4,997.7 298.3,1000.2 298.2,1002.2 297.1,1004.7 295.4,1006.7 293.3,1008.2 290.3,1009.5 286.8,1010.2 Z M233.3,1015.2 229.3,1015.4 225.8,1014.3 223.0,1012.2 221.2,1009.2 221.1,1006.7 222.3,1004.2 225.2,1001.7 228.8,1000.0 231.8,999.7 234.8,1000.6 238.7,1003.7 240.8,1006.7 240.8,1009.7 239.3,1012.2 236.8,1014.0 233.3,1015.2 Z M285.3,1009.8 281.3,1009.9 277.8,1009.2 274.8,1007.8 272.8,1005.9 271.4,1003.2 271.1,1000.2 272.1,997.7 274.0,995.7 279.3,992.8 284.3,992.1 291.3,993.7 293.8,995.0 295.8,996.9 297.1,999.2 297.3,1001.2 296.9,1003.2 295.7,1005.2 291.7,1008.2 285.3,1009.8 Z M231.3,1014.7 227.8,1014.3 224.9,1012.7 222.7,1010.2 222.1,1007.7 222.8,1005.2 224.8,1003.0 227.8,1001.2 230.8,1000.5 233.3,1000.9 236.3,1002.7 239.0,1005.7 239.9,1008.2 239.2,1010.7 237.3,1012.7 234.3,1014.2 231.3,1014.7 Z M283.8,1009.2 278.3,1008.6 274.2,1006.2 272.8,1004.2 272.2,1002.2 272.2,1000.2 273.0,998.2 276.8,994.8 281.8,992.9 287.3,993.2 292.8,995.3 294.9,997.2 296.2,999.7 296.3,1001.7 295.3,1004.2 293.6,1006.2 291.0,1007.7 283.8,1009.2 Z M232.8,1013.8 229.8,1013.9 227.3,1013.2 224.8,1011.4 223.4,1009.2 223.2,1007.2 224.0,1005.2 225.8,1003.3 228.3,1001.9 231.3,1001.4 233.8,1002.1 236.6,1004.2 238.3,1006.7 238.5,1009.2 237.5,1011.2 235.7,1012.7 232.8,1013.8 Z M286.3,1008.2 279.9,1008.2 277.3,1007.3 275.3,1005.9 273.8,1004.0 273.2,1001.7 273.4,999.7 274.6,997.7 278.8,994.7 283.3,993.5 288.8,994.4 293.2,996.7 294.5,998.2 295.3,1000.2 294.6,1003.7 293.3,1005.3 291.4,1006.7 286.3,1008.2 Z M233.3,1012.7 230.8,1013.1 228.8,1012.8 226.8,1011.9 225.3,1010.4 224.5,1008.7 224.5,1006.7 225.2,1005.2 226.7,1003.7 229.3,1002.5 231.8,1002.4 233.9,1003.2 236.1,1005.2 237.3,1007.7 237.1,1009.7 235.5,1011.7 233.3,1012.7 Z M284.8,1007.7 281.3,1007.7 278.0,1006.7 275.8,1005.1 274.4,1002.7 274.5,1000.2 275.6,998.2 277.9,996.2 281.3,994.6 284.8,994.3 289.3,995.4 292.4,997.2 294.1,999.7 294.0,1002.7 292.2,1005.2 289.3,1006.8 284.8,1007.7 Z M233.3,1011.7 231.3,1012.1 229.3,1011.9 226.5,1010.2 225.7,1008.7 225.6,1007.2 227.0,1004.7 228.8,1003.6 230.8,1003.3 232.8,1003.7 234.7,1005.2 235.8,1006.9 236.0,1008.7 235.3,1010.3 233.3,1011.7 Z M286.8,1006.7 281.3,1006.8 277.4,1005.2 276.1,1003.7 275.5,1002.2 275.7,1000.2 276.6,998.7 279.7,996.2 283.3,995.1 287.7,995.7 291.3,997.5 293.1,1000.2 292.8,1002.8 290.7,1005.2 286.8,1006.7 Z M232.3,1010.8 229.3,1010.8 227.3,1009.2 227.0,1007.2 228.3,1005.2 229.8,1004.5 231.3,1004.5 232.8,1005.1 234.0,1006.2 234.6,1007.7 234.4,1009.2 232.3,1010.8 Z M284.3,1006.2 280.4,1005.7 277.9,1004.2 276.8,1001.7 277.6,999.2 280.3,997.0 283.3,996.0 286.8,996.3 290.0,997.7 291.9,1000.2 292.0,1001.7 291.4,1003.2 288.8,1005.3 284.3,1006.2 Z M231.3,1009.4 229.8,1009.2 228.9,1008.2 228.9,1007.2 229.8,1006.3 231.3,1006.2 232.4,1007.2 232.4,1008.7 231.3,1009.4 Z M285.3,1005.3 281.3,1004.9 278.8,1003.2 278.4,1000.7 280.4,998.2 282.8,997.1 285.8,997.1 288.8,998.2 290.3,999.6 290.7,1001.2 290.0,1003.2 287.8,1004.7 285.3,1005.3 Z M285.3,1004.2 282.3,1003.9 280.5,1002.7 280.2,1000.7 281.3,999.2 282.8,998.4 284.8,998.1 287.2,998.7 288.6,999.7 289.2,1001.2 288.6,1002.7 287.2,1003.7 285.3,1004.2 Z" fill="none" stroke="#444" stroke-width="1" stroke-linejoin="round"/>
<circle cx="160" cy="1015" r="0.9" fill="#777"/>
<circle cx="272" cy="972" r="0.9" fill="#777"/>
<circle cx="305" cy="1027" r="0.9" fill="#777"/>
<circle cx="307" cy="1026" r="0.9" fill="#777"/>
<rect x="149.3" y="896.7" width="235.3" height="235.8" fill="none" stroke="#666" stroke-width="1.6"/>
<line x1="255.4" y1="896.7" x2="255.4" y2="1132.5" stroke="#000" stroke-width="2"/>
<line x1="149.3" y1="1039.6" x2="384.6" y2="1039.6" stroke="#000" stroke-width="2"/>
<path d="M475.3,1035.6 471.3,1035.8 467.8,1035.3 463.8,1033.7 460.3,1031.6 453.6,1026.1 448.9,1021.1 446.0,1017.1 444.8,1013.6 444.5,1009.1 445.4,1004.1 447.1,999.6 450.8,992.8 454.3,988.3 463.8,981.3 467.8,979.0 471.8,977.9 475.3,978.1 485.8,980.6 492.8,978.6 501.3,977.9 537.3,973.0 540.8,973.7 548.8,977.8 551.3,979.6 553.3,982.0 556.0,986.6 559.5,994.6 560.8,998.6 560.9,1001.6 560.0,1004.6 555.5,1013.1 551.8,1017.4 547.3,1021.2 543.3,1023.4 537.8,1025.2 528.8,1025.8 520.3,1027.4 490.3,1031.3 488.3,1031.6 482.3,1034.3 475.3,1035.6 Z M474.3,1033.1 470.8,1033.5 467.3,1032.7 463.8,1030.9 459.3,1027.7 449.8,1017.1 448.0,1014.1 447.1,1011.1 447.0,1007.6 447.7,1004.6 453.3,994.8 459.2,988.1 466.3,982.7 469.8,981.0 473.3,980.5 481.3,981.7 486.3,983.1 492.8,981.4 501.8,981.2 527.3,977.1 535.8,976.9 539.8,977.4 546.8,980.1 549.7,982.1 551.7,984.6 557.0,996.1 557.7,999.6 557.5,1002.6 554.4,1009.6 552.5,1012.6 549.8,1015.4 543.8,1020.1 540.8,1021.6 537.8,1022.4 527.8,1022.8 513.3,1024.8 500.3,1027.6 488.8,1028.9 483.3,1031.3 474.3,1033.1 Z M471.3,1031.6 468.8,1031.3 466.3,1030.3 458.5,1024.6 450.9,1014.6 449.5,1011.6 449.0,1009.1 449.2,1006.6 450.1,1004.1 457.8,992.6 462.8,987.5 469.3,983.4 472.8,982.5 476.3,982.6 482.3,983.7 486.8,985.3 492.3,984.0 499.8,983.9 515.3,982.0 527.3,979.3 537.3,979.9 543.3,981.2 547.6,983.6 549.8,986.3 554.1,994.1 555.4,998.1 555.5,1001.6 554.7,1004.6 552.3,1009.1 549.4,1012.6 540.3,1019.2 537.3,1019.9 529.8,1020.0 521.8,1021.5 512.8,1022.3 500.3,1025.4 488.8,1026.7 483.8,1029.2 471.3,1031.6 Z M473.3,1029.7 470.3,1030.0 467.8,1029.4 464.8,1027.7 459.8,1023.8 456.8,1020.4 453.0,1014.6 451.6,1011.6 450.9,1009.1 451.7,1005.1 458.6,994.1 463.8,988.7 469.8,984.9 473.3,984.0 478.3,984.3 482.8,985.3 487.3,987.4 491.8,986.7 498.3,986.5 505.8,985.1 512.3,984.6 527.3,981.1 533.8,981.3 540.8,982.5 544.8,984.3 547.0,986.6 552.7,995.1 553.6,998.1 553.8,1000.6 553.3,1003.6 552.1,1006.1 548.8,1010.4 539.3,1016.9 536.8,1017.5 529.8,1017.6 522.3,1019.7 512.3,1020.4 495.8,1024.1 489.3,1024.6 483.8,1027.5 473.3,1029.7 Z M471.8,1028.6 469.3,1028.5 466.8,1027.5 459.3,1021.6 455.4,1016.1 453.4,1011.6 452.8,1008.6 453.6,1005.6 459.7,994.6 464.7,989.6 470.3,986.1 473.8,985.3 477.8,985.5 482.8,986.7 487.8,989.4 496.3,989.4 505.8,987.0 510.3,986.5 524.8,982.6 535.3,983.0 540.3,984.0 543.3,985.6 549.9,993.6 551.6,996.6 552.2,999.1 552.2,1001.6 550.3,1006.1 546.8,1009.6 538.3,1014.9 535.8,1015.4 529.3,1015.7 521.3,1018.3 511.3,1018.7 500.3,1020.7 493.8,1022.5 489.3,1022.6 483.3,1026.0 471.8,1028.6 Z M473.3,1027.2 470.3,1027.4 467.8,1026.7 461.3,1022.1 458.5,1019.1 456.5,1016.1 455.2,1013.1 454.6,1010.1 455.3,1005.6 459.8,996.1 464.8,990.8 470.8,987.2 474.3,986.4 478.3,986.7 483.3,988.2 487.8,991.2 496.3,991.6 499.3,991.1 505.8,988.7 522.8,984.0 526.3,983.4 529.3,983.5 537.3,984.7 541.1,986.1 547.7,993.1 550.1,997.1 550.6,1001.6 548.9,1005.6 546.7,1007.6 538.3,1012.9 535.8,1013.6 528.3,1014.2 520.8,1016.9 511.3,1017.1 500.8,1018.2 493.2,1020.6 489.3,1020.6 485.8,1023.2 482.3,1025.0 473.3,1027.2 Z M473.3,1026.1 470.8,1026.2 468.3,1025.7 462.3,1021.6 457.6,1016.1 456.5,1013.6 455.9,1010.6 456.6,1005.6 458.7,1000.1 460.6,996.6 465.3,991.6 470.8,988.4 474.8,987.5 478.8,987.9 484.3,990.0 488.3,993.2 496.3,993.4 500.8,992.5 515.8,986.8 524.8,984.5 529.3,984.4 537.8,986.2 540.8,987.8 545.2,992.1 548.5,997.1 549.0,1001.1 547.7,1004.6 544.6,1007.6 538.3,1011.2 533.8,1012.6 524.9,1013.6 520.3,1015.3 511.3,1015.3 498.3,1016.7 492.8,1018.5 489.3,1018.8 486.3,1021.3 481.8,1023.9 477.8,1025.3 473.3,1026.1 Z M473.8,1025.1 468.8,1024.7 463.7,1021.6 459.1,1016.6 457.8,1014.1 457.1,1011.1 457.8,1005.6 460.9,997.6 465.3,992.7 470.8,989.4 474.8,988.6 478.8,988.9 484.3,991.2 486.6,993.1 488.3,995.2 495.8,995.2 500.3,994.3 507.8,991.6 510.8,989.5 515.3,987.8 524.3,985.5 529.3,985.3 535.9,986.6 540.2,988.6 544.1,992.6 547.0,997.6 547.4,1001.1 546.0,1004.6 542.3,1007.9 536.8,1010.8 532.8,1011.9 519.3,1013.4 511.8,1013.4 497.8,1015.0 489.3,1017.0 486.8,1019.6 481.8,1022.8 478.3,1024.2 473.8,1025.1 Z M474.8,1024.1 469.3,1023.8 464.8,1021.4 460.2,1016.6 458.8,1014.1 458.2,1011.6 458.3,1008.6 459.0,1005.1 461.6,998.1 465.5,993.6 470.8,990.4 475.8,989.6 481.3,990.8 485.3,993.2 488.8,997.8 497.3,996.7 501.8,995.5 507.3,993.5 510.8,990.5 516.8,988.2 524.3,986.3 529.3,986.2 535.3,987.3 539.3,989.1 542.4,992.1 545.4,997.1 546.0,1000.6 544.7,1004.1 541.3,1007.4 536.3,1010.1 532.3,1011.1 525.8,1011.8 522.3,1011.9 512.8,1011.1 505.3,1012.6 497.3,1013.3 489.3,1015.3 486.8,1018.2 482.3,1021.4 478.8,1023.2 474.8,1024.1 Z M475.8,1023.1 470.8,1023.2 466.3,1021.4 461.6,1017.1 460.1,1014.6 459.3,1012.1 459.2,1009.6 459.8,1005.6 462.1,998.6 465.8,994.3 470.8,991.3 473.3,990.6 476.3,990.5 481.8,992.0 485.3,994.6 488.8,1000.2 489.3,1000.3 497.8,998.7 507.3,995.3 510.8,991.6 515.8,989.2 523.8,987.2 528.8,987.0 534.8,988.0 538.3,989.5 541.3,992.3 543.8,996.6 544.6,1000.1 543.5,1003.6 540.3,1006.9 535.8,1009.3 530.8,1010.5 522.8,1011.2 519.8,1010.8 514.3,1008.7 512.8,1008.7 505.2,1010.6 497.8,1010.9 492.8,1012.5 489.8,1012.9 487.1,1016.6 484.3,1019.0 479.8,1021.8 475.8,1023.1 Z M476.3,1022.2 471.3,1022.4 466.8,1020.7 462.3,1016.6 460.3,1012.1 460.8,1005.1 462.7,999.1 466.0,995.1 470.8,992.2 473.3,991.5 476.3,991.4 479.3,992.0 482.3,993.4 484.3,994.9 486.1,997.1 489.3,1003.9 491.8,1003.1 496.8,1003.4 501.9,999.6 507.8,997.4 509.5,994.1 512.8,991.4 517.8,989.4 524.3,987.9 530.3,988.0 536.6,989.6 539.9,992.1 542.6,996.6 543.3,1000.1 542.3,1003.2 539.7,1006.1 535.3,1008.6 529.8,1009.9 522.8,1010.4 517.3,1009.1 511.8,1005.8 506.8,1007.7 504.3,1008.1 497.3,1006.2 493.3,1009.1 491.8,1009.6 489.8,1009.6 487.8,1014.1 485.8,1016.7 480.8,1020.3 476.3,1022.2 Z M526.3,1009.6 521.8,1009.5 518.3,1008.6 514.5,1006.6 510.9,1003.6 509.2,1001.1 508.8,998.6 509.4,996.1 511.2,993.6 513.8,991.8 516.8,990.5 521.8,989.1 525.8,988.6 534.1,989.6 536.8,990.7 538.8,992.3 540.8,995.1 541.9,998.1 541.8,1001.1 540.6,1003.6 538.0,1006.1 534.8,1007.8 530.8,1009.0 526.3,1009.6 Z M474.8,1021.7 469.8,1021.2 465.3,1018.6 462.2,1014.6 461.2,1010.1 462.2,1002.6 464.5,997.6 466.8,995.3 469.3,993.7 472.3,992.6 475.3,992.2 480.3,993.3 484.3,996.3 487.7,1002.1 488.6,1007.6 487.8,1012.1 485.3,1015.9 479.8,1020.0 474.8,1021.7 Z M528.8,1008.6 524.3,1009.0 520.8,1008.6 517.3,1007.4 513.9,1005.1 511.1,1002.1 510.1,999.6 510.2,997.1 511.6,994.6 513.8,992.7 516.3,991.4 524.3,989.5 527.8,989.4 532.3,990.1 535.3,991.0 537.3,992.3 539.3,994.5 540.5,997.1 540.8,999.6 540.2,1002.1 538.3,1004.6 535.8,1006.4 532.8,1007.7 528.8,1008.6 Z M475.8,1020.7 470.8,1020.6 466.6,1018.6 463.4,1015.1 462.2,1010.6 462.8,1003.1 464.7,998.6 466.4,996.6 468.8,994.8 471.3,993.7 474.3,993.1 478.8,993.6 482.9,996.1 486.3,1001.2 487.7,1006.6 487.2,1011.1 484.9,1015.1 480.3,1018.8 475.8,1020.7 Z M527.3,1008.1 523.8,1008.3 520.3,1007.7 516.8,1006.2 514.1,1004.1 512.1,1001.6 511.3,999.1 511.6,996.6 512.9,994.6 514.8,993.1 517.8,991.6 524.8,990.2 532.3,991.0 534.8,991.9 536.8,993.2 538.7,995.6 539.6,998.1 539.5,1000.6 538.6,1002.6 536.7,1004.6 534.3,1006.1 530.8,1007.5 527.3,1008.1 Z M476.8,1019.6 472.3,1020.0 468.2,1018.6 464.8,1015.6 463.2,1011.6 463.4,1004.1 464.8,999.6 468.3,995.9 470.8,994.6 473.3,994.0 477.8,994.2 481.8,996.3 485.0,1000.6 486.7,1005.6 486.5,1010.1 484.8,1013.9 481.3,1017.2 476.8,1019.6 Z M525.3,1007.6 519.8,1006.8 517.3,1005.5 514.9,1003.6 513.4,1001.6 512.6,999.6 512.5,997.6 513.4,995.6 514.9,994.1 517.5,992.6 523.8,991.0 530.3,991.5 535.3,993.3 537.1,995.1 538.3,997.6 538.3,1000.1 537.3,1002.4 535.3,1004.4 532.3,1006.1 528.8,1007.2 525.3,1007.6 Z M475.3,1019.1 471.3,1018.9 467.3,1017.0 464.7,1013.6 463.9,1009.6 464.3,1003.1 466.0,999.1 467.8,997.2 469.8,995.9 474.3,994.6 478.3,995.2 481.8,997.4 484.8,1002.1 485.9,1006.6 485.4,1010.6 483.6,1014.1 479.8,1017.3 475.3,1019.1 Z M527.8,1006.6 524.8,1006.9 521.8,1006.6 519.1,1005.6 516.8,1004.1 514.9,1002.1 513.8,999.6 513.8,997.6 514.8,995.6 518.3,993.1 524.3,991.8 530.8,992.5 535.1,994.6 536.4,996.1 537.1,998.1 537.0,1000.1 536.4,1001.6 533.3,1004.6 527.8,1006.6 Z M475.8,1018.2 471.8,1018.2 468.3,1016.6 465.8,1013.7 464.9,1010.1 464.9,1004.1 466.2,1000.1 469.3,996.9 473.8,995.4 477.8,995.9 480.8,997.6 483.6,1001.6 484.9,1006.1 484.7,1010.1 483.0,1013.6 479.8,1016.4 475.8,1018.2 Z M525.8,1006.1 522.8,1006.0 520.3,1005.2 518.3,1004.1 516.3,1002.2 515.3,1000.6 514.9,998.6 515.4,996.6 516.7,995.1 520.8,993.1 525.8,992.6 531.3,993.7 534.8,996.0 535.9,999.1 535.3,1001.1 534.3,1002.5 530.3,1005.1 525.8,1006.1 Z M476.3,1017.2 472.8,1017.4 469.2,1016.1 466.8,1013.6 465.8,1010.1 465.7,1004.1 466.7,1000.6 469.3,997.8 473.3,996.2 476.8,996.4 480.0,998.1 482.6,1001.6 484.0,1005.6 483.9,1009.6 482.6,1012.6 479.8,1015.5 476.3,1017.2 Z M526.8,1005.2 522.3,1005.0 520.1,1004.1 518.0,1002.6 516.8,1001.0 516.2,999.1 516.4,997.6 517.2,996.1 520.5,994.1 524.8,993.4 529.3,994.1 533.1,996.1 534.4,998.6 534.2,1000.1 533.4,1001.6 530.8,1003.8 526.8,1005.2 Z M474.3,1016.6 470.8,1015.9 468.0,1013.6 466.8,1010.6 466.3,1005.6 466.9,1002.1 468.3,999.6 471.3,997.6 474.8,996.9 478.3,997.9 480.7,1000.1 482.6,1003.6 483.2,1007.6 482.5,1011.1 480.8,1013.6 477.8,1015.8 474.3,1016.6 Z M527.3,1004.1 523.3,1004.3 519.7,1002.6 518.3,1001.1 517.7,999.6 517.7,998.1 518.5,996.6 521.3,994.9 524.8,994.4 528.8,995.1 531.5,996.6 532.7,998.6 532.4,1000.6 530.6,1002.6 527.3,1004.1 Z M474.8,1015.6 471.6,1015.1 469.0,1013.1 467.8,1010.6 467.1,1006.1 467.5,1002.6 468.8,1000.3 471.3,998.4 474.3,997.8 477.3,998.4 479.6,1000.1 481.6,1003.6 482.3,1007.1 481.9,1010.1 480.3,1012.9 477.8,1014.8 474.8,1015.6 Z M526.3,1003.2 523.3,1003.1 520.6,1001.6 519.3,999.1 520.1,997.1 521.8,996.0 524.8,995.5 527.8,996.1 530.1,997.6 530.8,999.1 530.3,1000.8 528.8,1002.2 526.3,1003.2 Z M474.8,1014.6 472.3,1014.2 470.0,1012.6 468.7,1010.1 468.0,1006.6 468.1,1003.6 469.2,1001.1 471.3,999.3 473.8,998.6 476.7,999.1 478.8,1000.6 480.4,1003.1 481.3,1006.6 481.0,1009.6 479.8,1012.1 477.3,1014.0 474.8,1014.6 Z M525.3,1001.6 523.8,1001.5 522.2,1000.6 521.6,999.1 522.3,997.9 523.8,997.2 525.3,997.2 527.9,998.6 528.1,999.6 527.6,1000.6 525.3,1001.6 Z M476.3,1013.3 473.8,1013.4 471.8,1012.6 470.3,1011.0 469.3,1008.6 468.9,1005.6 469.3,1002.9 470.8,1000.8 472.8,999.8 475.3,999.7 477.3,1000.6 479.1,1002.6 480.1,1005.1 480.4,1007.6 479.8,1010.1 478.4,1012.1 476.3,1013.3 Z M475.8,1012.1 473.8,1012.1 472.3,1011.3 470.9,1009.6 470.1,1007.6 469.9,1005.1 470.3,1003.1 471.5,1001.6 473.3,1000.8 475.3,1000.9 476.8,1001.6 478.3,1003.4 479.1,1005.6 479.3,1007.6 478.8,1009.6 477.7,1011.1 475.8,1012.1 Z M475.3,1010.7 472.8,1009.8 471.8,1008.5 471.2,1006.6 471.6,1003.6 472.4,1002.6 473.8,1002.1 475.3,1002.3 476.5,1003.1 477.9,1006.1 477.5,1009.1 476.7,1010.1 475.3,1010.7 Z" fill="none" stroke="#444" stroke-width="1" stroke-linejoin="round"/>
<circle cx="562" cy="982" r="0.9" fill="#777"/>
<rect x="397.3" y="895.1" width="234.7" height="235.5" fill="none" stroke="#666" stroke-width="1.6"/>
<line x1="503.3" y1="895.1" x2="503.3" y2="1130.6" stroke="#000" stroke-width="2"/>
<line x1="397.3" y1="1038.8" x2="632" y2="1038.8" stroke="#000" stroke-width="2"/>
<line x1="143.3" y1="917.7" x2="149.3" y2="917.7" stroke="#333" stroke-width="1.6"/>
<line x1="143.3" y1="974.4" x2="149.3" y2="974.4" stroke="#333" stroke-width="1.6"/>
<line x1="143.3" y1="1039.6" x2="149.3" y2="1039.6" stroke="#333" stroke-width="1.6"/>
<line x1="143.3" y1="1116.3" x2="149.3" y2="1116.3" stroke="#333" stroke-width="1.6"/>
<line x1="145.8" y1="1019.97" x2="149.3" y2="1019.97" stroke="#555" stroke-width="1.2"/>
<line x1="145.8" y1="1008.49" x2="149.3" y2="1008.49" stroke="#555" stroke-width="1.2"/>
<line x1="145.8" y1="1000.35" x2="149.3" y2="1000.35" stroke="#555" stroke-width="1.2"/>
<line x1="145.8" y1="994.03" x2="149.3" y2="994.03" stroke="#555" stroke-width="1.2"/>
<line x1="145.8" y1="988.86" x2="149.3" y2="988.86" stroke="#555" stroke-width="1.2"/>
<line x1="145.8" y1="984.5" x2="149.3" y2="984.5" stroke="#555" stroke-width="1.2"/>
<line x1="145.8" y1="980.72" x2="149.3" y2="980.72" stroke="#555" stroke-width="1.2"/>
<line x1="145.8" y1="977.38" x2="149.3" y2="977.38" stroke="#555" stroke-width="1.2"/>
<line x1="145.8" y1="957.33" x2="149.3" y2="957.33" stroke="#555" stroke-width="1.2"/>
<line x1="145.8" y1="947.35" x2="149.3" y2="947.35" stroke="#555" stroke-width="1.2"/>
<line x1="145.8" y1="940.26" x2="149.3" y2="940.26" stroke="#555" stroke-width="1.2"/>
<line x1="145.8" y1="934.77" x2="149.3" y2="934.77" stroke="#555" stroke-width="1.2"/>
<line x1="145.8" y1="930.28" x2="149.3" y2="930.28" stroke="#555" stroke-width="1.2"/>
<line x1="145.8" y1="926.48" x2="149.3" y2="926.48" stroke="#555" stroke-width="1.2"/>
<line x1="145.8" y1="923.19" x2="149.3" y2="923.19" stroke="#555" stroke-width="1.2"/>
<line x1="145.8" y1="920.29" x2="149.3" y2="920.29" stroke="#555" stroke-width="1.2"/>
<line x1="145.8" y1="899.64" x2="149.3" y2="899.64" stroke="#555" stroke-width="1.2"/>
<line x1="143.3" y1="1074" x2="149.3" y2="1074" stroke="#222" stroke-width="1.1"/>
<line x1="143.3" y1="1075.3" x2="149.3" y2="1075.3" stroke="#222" stroke-width="1.1"/>
<line x1="143.3" y1="1076.6" x2="149.3" y2="1076.6" stroke="#222" stroke-width="1.1"/>
<line x1="143.3" y1="1077.9" x2="149.3" y2="1077.9" stroke="#222" stroke-width="1.1"/>
<line x1="143.3" y1="1079.2" x2="149.3" y2="1079.2" stroke="#222" stroke-width="1.1"/>
<line x1="143.3" y1="1080.5" x2="149.3" y2="1080.5" stroke="#222" stroke-width="1.1"/>
<line x1="143.3" y1="1081.8" x2="149.3" y2="1081.8" stroke="#222" stroke-width="1.1"/>
<line x1="143.3" y1="1083.1" x2="149.3" y2="1083.1" stroke="#222" stroke-width="1.1"/>
<line x1="143.3" y1="1084.4" x2="149.3" y2="1084.4" stroke="#222" stroke-width="1.1"/>
<line x1="163" y1="1132.5" x2="163" y2="1138.5" stroke="#333" stroke-width="1.6"/>
<line x1="239.6" y1="1132.5" x2="239.6" y2="1138.5" stroke="#333" stroke-width="1.6"/>
<line x1="304.8" y1="1132.5" x2="304.8" y2="1138.5" stroke="#333" stroke-width="1.6"/>
<line x1="360.4" y1="1132.5" x2="360.4" y2="1138.5" stroke="#333" stroke-width="1.6"/>
<line x1="259.23" y1="1132.5" x2="259.23" y2="1136" stroke="#555" stroke-width="1.2"/>
<line x1="270.71" y1="1132.5" x2="270.71" y2="1136" stroke="#555" stroke-width="1.2"/>
<line x1="278.85" y1="1132.5" x2="278.85" y2="1136" stroke="#555" stroke-width="1.2"/>
<line x1="285.17" y1="1132.5" x2="285.17" y2="1136" stroke="#555" stroke-width="1.2"/>
<line x1="290.34" y1="1132.5" x2="290.34" y2="1136" stroke="#555" stroke-width="1.2"/>
<line x1="294.7" y1="1132.5" x2="294.7" y2="1136" stroke="#555" stroke-width="1.2"/>
<line x1="298.48" y1="1132.5" x2="298.48" y2="1136" stroke="#555" stroke-width="1.2"/>
<line x1="301.82" y1="1132.5" x2="301.82" y2="1136" stroke="#555" stroke-width="1.2"/>
<line x1="321.54" y1="1132.5" x2="321.54" y2="1136" stroke="#555" stroke-width="1.2"/>
<line x1="331.33" y1="1132.5" x2="331.33" y2="1136" stroke="#555" stroke-width="1.2"/>
<line x1="338.27" y1="1132.5" x2="338.27" y2="1136" stroke="#555" stroke-width="1.2"/>
<line x1="343.66" y1="1132.5" x2="343.66" y2="1136" stroke="#555" stroke-width="1.2"/>
<line x1="348.07" y1="1132.5" x2="348.07" y2="1136" stroke="#555" stroke-width="1.2"/>
<line x1="351.79" y1="1132.5" x2="351.79" y2="1136" stroke="#555" stroke-width="1.2"/>
<line x1="355.01" y1="1132.5" x2="355.01" y2="1136" stroke="#555" stroke-width="1.2"/>
<line x1="357.86" y1="1132.5" x2="357.86" y2="1136" stroke="#555" stroke-width="1.2"/>
<line x1="377.26" y1="1132.5" x2="377.26" y2="1136" stroke="#555" stroke-width="1.2"/>
<line x1="198" y1="1132.5" x2="198" y2="1138.5" stroke="#222" stroke-width="1.1"/>
<line x1="199.3" y1="1132.5" x2="199.3" y2="1138.5" stroke="#222" stroke-width="1.1"/>
<line x1="200.6" y1="1132.5" x2="200.6" y2="1138.5" stroke="#222" stroke-width="1.1"/>
<line x1="201.9" y1="1132.5" x2="201.9" y2="1138.5" stroke="#222" stroke-width="1.1"/>
<line x1="203.2" y1="1132.5" x2="203.2" y2="1138.5" stroke="#222" stroke-width="1.1"/>
<line x1="204.5" y1="1132.5" x2="204.5" y2="1138.5" stroke="#222" stroke-width="1.1"/>
<line x1="205.8" y1="1132.5" x2="205.8" y2="1138.5" stroke="#222" stroke-width="1.1"/>
<line x1="391.3" y1="917.7" x2="397.3" y2="917.7" stroke="#333" stroke-width="1.6"/>
<line x1="391.3" y1="974.4" x2="397.3" y2="974.4" stroke="#333" stroke-width="1.6"/>
<line x1="391.3" y1="1039.6" x2="397.3" y2="1039.6" stroke="#333" stroke-width="1.6"/>
<line x1="391.3" y1="1116.3" x2="397.3" y2="1116.3" stroke="#333" stroke-width="1.6"/>
<line x1="393.8" y1="1019.97" x2="397.3" y2="1019.97" stroke="#555" stroke-width="1.2"/>
<line x1="393.8" y1="1008.49" x2="397.3" y2="1008.49" stroke="#555" stroke-width="1.2"/>
<line x1="393.8" y1="1000.35" x2="397.3" y2="1000.35" stroke="#555" stroke-width="1.2"/>
<line x1="393.8" y1="994.03" x2="397.3" y2="994.03" stroke="#555" stroke-width="1.2"/>
<line x1="393.8" y1="988.86" x2="397.3" y2="988.86" stroke="#555" stroke-width="1.2"/>
<line x1="393.8" y1="984.5" x2="397.3" y2="984.5" stroke="#555" stroke-width="1.2"/>
<line x1="393.8" y1="980.72" x2="397.3" y2="980.72" stroke="#555" stroke-width="1.2"/>
<line x1="393.8" y1="977.38" x2="397.3" y2="977.38" stroke="#555" stroke-width="1.2"/>
<line x1="393.8" y1="957.33" x2="397.3" y2="957.33" stroke="#555" stroke-width="1.2"/>
<line x1="393.8" y1="947.35" x2="397.3" y2="947.35" stroke="#555" stroke-width="1.2"/>
<line x1="393.8" y1="940.26" x2="397.3" y2="940.26" stroke="#555" stroke-width="1.2"/>
<line x1="393.8" y1="934.77" x2="397.3" y2="934.77" stroke="#555" stroke-width="1.2"/>
<line x1="393.8" y1="930.28" x2="397.3" y2="930.28" stroke="#555" stroke-width="1.2"/>
<line x1="393.8" y1="926.48" x2="397.3" y2="926.48" stroke="#555" stroke-width="1.2"/>
<line x1="393.8" y1="923.19" x2="397.3" y2="923.19" stroke="#555" stroke-width="1.2"/>
<line x1="393.8" y1="920.29" x2="397.3" y2="920.29" stroke="#555" stroke-width="1.2"/>
<line x1="393.8" y1="899.64" x2="397.3" y2="899.64" stroke="#555" stroke-width="1.2"/>
<line x1="391.3" y1="1074" x2="397.3" y2="1074" stroke="#222" stroke-width="1.1"/>
<line x1="391.3" y1="1075.3" x2="397.3" y2="1075.3" stroke="#222" stroke-width="1.1"/>
<line x1="391.3" y1="1076.6" x2="397.3" y2="1076.6" stroke="#222" stroke-width="1.1"/>
<line x1="391.3" y1="1077.9" x2="397.3" y2="1077.9" stroke="#222" stroke-width="1.1"/>
<line x1="391.3" y1="1079.2" x2="397.3" y2="1079.2" stroke="#222" stroke-width="1.1"/>
<line x1="391.3" y1="1080.5" x2="397.3" y2="1080.5" stroke="#222" stroke-width="1.1"/>
<line x1="391.3" y1="1081.8" x2="397.3" y2="1081.8" stroke="#222" stroke-width="1.1"/>
<line x1="391.3" y1="1083.1" x2="397.3" y2="1083.1" stroke="#222" stroke-width="1.1"/>
<line x1="391.3" y1="1084.4" x2="397.3" y2="1084.4" stroke="#222" stroke-width="1.1"/>
<line x1="411" y1="1130.6" x2="411" y2="1136.6" stroke="#333" stroke-width="1.6"/>
<line x1="487.6" y1="1130.6" x2="487.6" y2="1136.6" stroke="#333" stroke-width="1.6"/>
<line x1="552.8" y1="1130.6" x2="552.8" y2="1136.6" stroke="#333" stroke-width="1.6"/>
<line x1="608.4" y1="1130.6" x2="608.4" y2="1136.6" stroke="#333" stroke-width="1.6"/>
<line x1="507.23" y1="1130.6" x2="507.23" y2="1134.1" stroke="#555" stroke-width="1.2"/>
<line x1="518.71" y1="1130.6" x2="518.71" y2="1134.1" stroke="#555" stroke-width="1.2"/>
<line x1="526.85" y1="1130.6" x2="526.85" y2="1134.1" stroke="#555" stroke-width="1.2"/>
<line x1="533.17" y1="1130.6" x2="533.17" y2="1134.1" stroke="#555" stroke-width="1.2"/>
<line x1="538.34" y1="1130.6" x2="538.34" y2="1134.1" stroke="#555" stroke-width="1.2"/>
<line x1="542.7" y1="1130.6" x2="542.7" y2="1134.1" stroke="#555" stroke-width="1.2"/>
<line x1="546.48" y1="1130.6" x2="546.48" y2="1134.1" stroke="#555" stroke-width="1.2"/>
<line x1="549.82" y1="1130.6" x2="549.82" y2="1134.1" stroke="#555" stroke-width="1.2"/>
<line x1="569.54" y1="1130.6" x2="569.54" y2="1134.1" stroke="#555" stroke-width="1.2"/>
<line x1="579.33" y1="1130.6" x2="579.33" y2="1134.1" stroke="#555" stroke-width="1.2"/>
<line x1="586.27" y1="1130.6" x2="586.27" y2="1134.1" stroke="#555" stroke-width="1.2"/>
<line x1="591.66" y1="1130.6" x2="591.66" y2="1134.1" stroke="#555" stroke-width="1.2"/>
<line x1="596.07" y1="1130.6" x2="596.07" y2="1134.1" stroke="#555" stroke-width="1.2"/>
<line x1="599.79" y1="1130.6" x2="599.79" y2="1134.1" stroke="#555" stroke-width="1.2"/>
<line x1="603.01" y1="1130.6" x2="603.01" y2="1134.1" stroke="#555" stroke-width="1.2"/>
<line x1="605.86" y1="1130.6" x2="605.86" y2="1134.1" stroke="#555" stroke-width="1.2"/>
<line x1="625.26" y1="1130.6" x2="625.26" y2="1134.1" stroke="#555" stroke-width="1.2"/>
<line x1="446" y1="1130.6" x2="446" y2="1136.6" stroke="#222" stroke-width="1.1"/>
<line x1="447.3" y1="1130.6" x2="447.3" y2="1136.6" stroke="#222" stroke-width="1.1"/>
<line x1="448.6" y1="1130.6" x2="448.6" y2="1136.6" stroke="#222" stroke-width="1.1"/>
<line x1="449.9" y1="1130.6" x2="449.9" y2="1136.6" stroke="#222" stroke-width="1.1"/>
<line x1="451.2" y1="1130.6" x2="451.2" y2="1136.6" stroke="#222" stroke-width="1.1"/>
<line x1="452.5" y1="1130.6" x2="452.5" y2="1136.6" stroke="#222" stroke-width="1.1"/>
<line x1="453.8" y1="1130.6" x2="453.8" y2="1136.6" stroke="#222" stroke-width="1.1"/>
<text x="156.97" y="931.4" font-size="35" textLength="70.9" lengthAdjust="spacingAndGlyphs">44.7</text>
<text x="302.21" y="931.4" font-size="35" textLength="72.32" lengthAdjust="spacingAndGlyphs">55.3</text>
<text x="402.14" y="933" font-size="35" textLength="70.95" lengthAdjust="spacingAndGlyphs">54.9</text>
<text x="558.11" y="933" font-size="35" textLength="66.88" lengthAdjust="spacingAndGlyphs">45.1</text>
<text x="87.78" y="934.5" font-size="34" textLength="38.93" lengthAdjust="spacingAndGlyphs">10</text>
<text x="126.94" y="921.5" font-size="24">5</text>
<text x="81.38" y="988" font-size="34" textLength="38.93" lengthAdjust="spacingAndGlyphs">10</text>
<text x="121.02" y="975" font-size="24">4</text>
<text x="87.78" y="1054.3" font-size="34" textLength="38.93" lengthAdjust="spacingAndGlyphs">10</text>
<text x="126.94" y="1041.3" font-size="24">3</text>
<text x="212.88" y="1173" font-size="34" textLength="38.93" lengthAdjust="spacingAndGlyphs">10</text>
<text x="252.04" y="1160" font-size="24">3</text>
<text x="285.38" y="1173" font-size="34" textLength="38.93" lengthAdjust="spacingAndGlyphs">10</text>
<text x="325.02" y="1160" font-size="24">4</text>
<text x="346.38" y="1173" font-size="34" textLength="38.93" lengthAdjust="spacingAndGlyphs">10</text>
<text x="385.54" y="1160" font-size="24">5</text>
<text x="154.81" y="1206.6" font-size="35" textLength="132.57" lengthAdjust="spacingAndGlyphs">Ki67-PE</text>
<line x1="295.3" y1="1194.5" x2="368" y2="1194.5" stroke="#000" stroke-width="5"/>
<path d="M366,1184.6 L384.6,1194.5 L366,1204.5 Z" stroke="#000" stroke-width="1" fill="#000"/>
<text transform="translate(77,1134) rotate(-90)" font-size="35" textLength="214" lengthAdjust="spacingAndGlyphs">Foxp3-A<tspan font-size="24" dy="7">F</tspan><tspan dy="-7">488</tspan></text>
<line x1="65" y1="919" x2="65" y2="906" stroke="#000" stroke-width="4"/>
<path d="M54.5,907 L65,889.3 L75.5,907 Z" stroke="#000" stroke-width="1" fill="#000"/>
<text x="763.74" y="855.5" font-size="64">f</text>
<line x1="893.4" y1="856.65" x2="893.4" y2="1119.35" stroke="#000" stroke-width="2.5"/>
<line x1="892.2" y1="1118.1" x2="1205.1" y2="1118.1" stroke="#000" stroke-width="2.5"/>
<line x1="886" y1="1118.1" x2="893.4" y2="1118.1" stroke="#000" stroke-width="2.5"/>
<text x="882" y="1130.6" font-size="33" text-anchor="end">-20</text>
<line x1="886" y1="1066.06" x2="893.4" y2="1066.06" stroke="#000" stroke-width="2.5"/>
<text x="882" y="1078.56" font-size="33" text-anchor="end">0</text>
<line x1="886" y1="1014.02" x2="893.4" y2="1014.02" stroke="#000" stroke-width="2.5"/>
<text x="882" y="1026.52" font-size="33" text-anchor="end">20</text>
<line x1="886" y1="961.98" x2="893.4" y2="961.98" stroke="#000" stroke-width="2.5"/>
<text x="882" y="974.48" font-size="33" text-anchor="end">40</text>
<line x1="886" y1="909.94" x2="893.4" y2="909.94" stroke="#000" stroke-width="2.5"/>
<text x="882" y="922.44" font-size="33" text-anchor="end">60</text>
<line x1="886" y1="857.9" x2="893.4" y2="857.9" stroke="#000" stroke-width="2.5"/>
<text x="882" y="870.4" font-size="33" text-anchor="end">80</text>
<line x1="940.6" y1="1118.1" x2="940.6" y2="1127.1" stroke="#000" stroke-width="2.5"/>
<line x1="1012.7" y1="1118.1" x2="1012.7" y2="1127.1" stroke="#000" stroke-width="2.5"/>
<line x1="1084.7" y1="1118.1" x2="1084.7" y2="1127.1" stroke="#000" stroke-width="2.5"/>
<line x1="1155.5" y1="1118.1" x2="1155.5" y2="1127.1" stroke="#000" stroke-width="2.5"/>
<text x="918.26" y="1156.6" font-size="30" textLength="43.38" lengthAdjust="spacingAndGlyphs">1:4</text>
<text x="991.44" y="1156.6" font-size="30" textLength="43.72" lengthAdjust="spacingAndGlyphs">1:8</text>
<text x="1054.03" y="1156.6" font-size="30" textLength="61.47" lengthAdjust="spacingAndGlyphs">1:16</text>
<text x="1126.02" y="1156.6" font-size="30" textLength="61.81" lengthAdjust="spacingAndGlyphs">1:32</text>
<text x="973.08" y="1201.4" font-size="30" textLength="151.85" lengthAdjust="spacingAndGlyphs">Treg:Tconv</text>
<text x="1012.04" y="862.6" font-size="31" textLength="65.82" lengthAdjust="spacingAndGlyphs">B16</text>
<text x="0" y="0" font-size="33" transform="translate(819,4.61) rotate(-90)" textLength="885.33" lengthAdjust="spacingAndGlyphs">% Suppression</text>
<line x1="899.3" y1="1066.06" x2="1205.1" y2="1066.06" stroke="#000" stroke-width="2.2" stroke-dasharray="2.2,5.4"/>
<line x1="940.6" y1="907.34" x2="940.6" y2="980.45" stroke="#000" stroke-width="2.5"/>
<line x1="933.6" y1="907.34" x2="947.6" y2="907.34" stroke="#000" stroke-width="2.5"/>
<line x1="933.6" y1="922.95" x2="947.6" y2="922.95" stroke="#000" stroke-width="2.5"/>
<line x1="933.6" y1="980.45" x2="947.6" y2="980.45" stroke="#000" stroke-width="2.5"/>
<line x1="1012.7" y1="933.88" x2="1012.7" y2="1054.87" stroke="#000" stroke-width="2.5"/>
<line x1="1005.7" y1="933.88" x2="1019.7" y2="933.88" stroke="#000" stroke-width="2.5"/>
<line x1="1005.7" y1="981.76" x2="1019.7" y2="981.76" stroke="#000" stroke-width="2.5"/>
<line x1="1005.7" y1="1002.57" x2="1019.7" y2="1002.57" stroke="#000" stroke-width="2.5"/>
<line x1="1005.7" y1="1054.87" x2="1019.7" y2="1054.87" stroke="#000" stroke-width="2.5"/>
<line x1="1084.7" y1="986.96" x2="1084.7" y2="1060.96" stroke="#000" stroke-width="2.5"/>
<line x1="1077.7" y1="986.96" x2="1091.7" y2="986.96" stroke="#000" stroke-width="2.5"/>
<line x1="1077.7" y1="1002.57" x2="1091.7" y2="1002.57" stroke="#000" stroke-width="2.5"/>
<line x1="1077.7" y1="1041.86" x2="1091.7" y2="1041.86" stroke="#000" stroke-width="2.5"/>
<line x1="1077.7" y1="1060.96" x2="1091.7" y2="1060.96" stroke="#000" stroke-width="2.5"/>
<line x1="1155.5" y1="978.89" x2="1155.5" y2="1051.49" stroke="#000" stroke-width="2.5"/>
<line x1="1148.5" y1="978.89" x2="1162.5" y2="978.89" stroke="#000" stroke-width="2.5"/>
<line x1="1148.5" y1="995.29" x2="1162.5" y2="995.29" stroke="#000" stroke-width="2.5"/>
<line x1="1148.5" y1="1039" x2="1162.5" y2="1039" stroke="#000" stroke-width="2.5"/>
<line x1="1148.5" y1="1051.49" x2="1162.5" y2="1051.49" stroke="#000" stroke-width="2.5"/>
<path d="M940.6,931.02 L1012.7,968.75 L1084.7,1023.13 L1155.5,1015.32" stroke="#000" stroke-width="2.5" fill="none"/>
<path d="M940.6,952.09 L1012.7,1018.96 L1084.7,1024.17 L1155.5,1016.1" stroke="#000" stroke-width="2.5" fill="none"/>
<line x1="1084.7" y1="1023.65" x2="1155.5" y2="1015.84" stroke="#000" stroke-width="5"/>
<rect x="934.1" y="945.59" width="13" height="13" fill="#000" stroke="#000" stroke-width="1"/>
<rect x="1006.2" y="1012.46" width="13" height="13" fill="#000" stroke="#000" stroke-width="1"/>
<rect x="1078.2" y="1017.67" width="13" height="13" fill="#000" stroke="#000" stroke-width="1"/>
<rect x="1149" y="1009.6" width="13" height="13" fill="#000" stroke="#000" stroke-width="1"/>
<rect x="935.6" y="926.02" width="10" height="10" fill="#22bb22" stroke="#000" stroke-width="2"/>
<rect x="1007.7" y="963.75" width="10" height="10" fill="#22bb22" stroke="#000" stroke-width="2"/>
<line x1="1076.4" y1="886.2" x2="1102.4" y2="886.2" stroke="#000" stroke-width="2.5"/>
<rect x="1083.5" y="880.2" width="12" height="12" fill="#000" stroke="#000" stroke-width="1"/>
<text x="1119" y="896.5" font-size="32"><tspan>H</tspan><tspan font-size="21" dy="7">2</tspan><tspan dy="-7">O</tspan></text>
<line x1="1076.4" y1="934.6" x2="1102.4" y2="934.6" stroke="#000" stroke-width="2.5"/>
<rect x="1085" y="929.6" width="10" height="10" fill="#22bb22" stroke="#000" stroke-width="2"/>
<text x="1118.8" y="945.2" font-size="29" textLength="66.76" lengthAdjust="spacingAndGlyphs">3MP</text>
<text x="1234.42" y="840.5" font-size="64.5">g</text>
<rect x="1398.85" y="1068.52" width="19.4" height="49.68" fill="#fff" stroke="#000" stroke-width="2.5"/>
<rect x="1432.75" y="1069.17" width="19.5" height="49.03" fill="#fff" stroke="#000" stroke-width="2.5"/>
<rect x="1466.65" y="969.91" width="19.5" height="148.29" fill="#fff" stroke="#000" stroke-width="2.5"/>
<rect x="1501.55" y="971.86" width="18.5" height="146.34" fill="#fff" stroke="#000" stroke-width="2.5"/>
<line x1="1408.55" y1="1067.27" x2="1408.55" y2="1070.84" stroke="#000" stroke-width="2.5"/>
<line x1="1402.55" y1="1070.84" x2="1414.55" y2="1070.84" stroke="#000" stroke-width="2.5"/>
<line x1="1408.55" y1="1067.27" x2="1408.55" y2="1063.7" stroke="#000" stroke-width="2.5"/>
<line x1="1402.55" y1="1063.7" x2="1414.55" y2="1063.7" stroke="#000" stroke-width="2.5"/>
<line x1="1442.5" y1="1067.92" x2="1442.5" y2="1071.17" stroke="#000" stroke-width="2.5"/>
<line x1="1436.5" y1="1071.17" x2="1448.5" y2="1071.17" stroke="#000" stroke-width="2.5"/>
<line x1="1442.5" y1="1067.92" x2="1442.5" y2="1064.68" stroke="#000" stroke-width="2.5"/>
<line x1="1436.5" y1="1064.68" x2="1448.5" y2="1064.68" stroke="#000" stroke-width="2.5"/>
<line x1="1476.4" y1="968.66" x2="1476.4" y2="979.69" stroke="#000" stroke-width="2.5"/>
<line x1="1470.4" y1="979.69" x2="1482.4" y2="979.69" stroke="#000" stroke-width="2.5"/>
<line x1="1476.4" y1="968.66" x2="1476.4" y2="957.63" stroke="#000" stroke-width="2.5"/>
<line x1="1470.4" y1="957.63" x2="1482.4" y2="957.63" stroke="#000" stroke-width="2.5"/>
<line x1="1510.8" y1="970.61" x2="1510.8" y2="982.61" stroke="#000" stroke-width="2.5"/>
<line x1="1504.8" y1="982.61" x2="1516.8" y2="982.61" stroke="#000" stroke-width="2.5"/>
<line x1="1510.8" y1="970.61" x2="1510.8" y2="958.61" stroke="#000" stroke-width="2.5"/>
<line x1="1504.8" y1="958.61" x2="1516.8" y2="958.61" stroke="#000" stroke-width="2.5"/>
<circle cx="1408.6" cy="1038.4" r="5.3" fill="#000" stroke="#000" stroke-width="1.5"/>
<circle cx="1415.5" cy="1049.4" r="5.3" fill="#000" stroke="#000" stroke-width="1.5"/>
<circle cx="1401.6" cy="1057.4" r="5.3" fill="#000" stroke="#000" stroke-width="1.5"/>
<circle cx="1408.6" cy="1059.4" r="5.3" fill="#000" stroke="#000" stroke-width="1.5"/>
<circle cx="1414.5" cy="1063.4" r="5.3" fill="#000" stroke="#000" stroke-width="1.5"/>
<circle cx="1402.6" cy="1067.4" r="5.3" fill="#000" stroke="#000" stroke-width="1.5"/>
<circle cx="1416.5" cy="1072.3" r="5.3" fill="#000" stroke="#000" stroke-width="1.5"/>
<circle cx="1408.6" cy="1071.3" r="5.3" fill="#000" stroke="#000" stroke-width="1.5"/>
<circle cx="1401.6" cy="1079.3" r="5.3" fill="#000" stroke="#000" stroke-width="1.5"/>
<circle cx="1410.6" cy="1080.3" r="5.3" fill="#000" stroke="#000" stroke-width="1.5"/>
<circle cx="1405" cy="1075" r="5.3" fill="#000" stroke="#000" stroke-width="1.5"/>
<circle cx="1414" cy="1077" r="5.3" fill="#000" stroke="#000" stroke-width="1.5"/>
<circle cx="1443.5" cy="1047.4" r="5.3" fill="#2bbf80" stroke="#000" stroke-width="2"/>
<circle cx="1445.5" cy="1054.4" r="5.3" fill="#2bbf80" stroke="#000" stroke-width="2"/>
<circle cx="1438.5" cy="1061.4" r="5.3" fill="#2bbf80" stroke="#000" stroke-width="2"/>
<circle cx="1447.5" cy="1065.4" r="5.3" fill="#2bbf80" stroke="#000" stroke-width="2"/>
<circle cx="1451.5" cy="1063.4" r="5.3" fill="#2bbf80" stroke="#000" stroke-width="2"/>
<circle cx="1434.5" cy="1070.3" r="5.3" fill="#2bbf80" stroke="#000" stroke-width="2"/>
<circle cx="1441.5" cy="1068.4" r="5.3" fill="#2bbf80" stroke="#000" stroke-width="2"/>
<circle cx="1447.5" cy="1078.3" r="5.3" fill="#2bbf80" stroke="#000" stroke-width="2"/>
<circle cx="1440.5" cy="1076.3" r="5.3" fill="#2bbf80" stroke="#000" stroke-width="2"/>
<circle cx="1436.5" cy="1081.3" r="5.3" fill="#2bbf80" stroke="#000" stroke-width="2"/>
<circle cx="1443.5" cy="1083.3" r="5.3" fill="#2bbf80" stroke="#000" stroke-width="2"/>
<circle cx="1450.5" cy="1075.3" r="5.3" fill="#2bbf80" stroke="#000" stroke-width="2"/>
<circle cx="1470.4" cy="934.7" r="5.3" fill="#000" stroke="#000" stroke-width="1.5"/>
<circle cx="1476.8" cy="934.1" r="5.3" fill="#000" stroke="#000" stroke-width="1.5"/>
<circle cx="1483.4" cy="927.1" r="5.3" fill="#000" stroke="#000" stroke-width="1.5"/>
<circle cx="1483.4" cy="955.6" r="5.3" fill="#000" stroke="#000" stroke-width="1.5"/>
<circle cx="1470.4" cy="964.6" r="5.3" fill="#000" stroke="#000" stroke-width="1.5"/>
<circle cx="1476.8" cy="973.6" r="5.3" fill="#000" stroke="#000" stroke-width="1.5"/>
<circle cx="1483.4" cy="973.6" r="5.3" fill="#000" stroke="#000" stroke-width="1.5"/>
<circle cx="1470.4" cy="997.5" r="5.3" fill="#000" stroke="#000" stroke-width="1.5"/>
<circle cx="1476.8" cy="996.5" r="5.3" fill="#000" stroke="#000" stroke-width="1.5"/>
<circle cx="1483.4" cy="997.5" r="5.3" fill="#000" stroke="#000" stroke-width="1.5"/>
<circle cx="1470.4" cy="1001" r="5.3" fill="#000" stroke="#000" stroke-width="1.5"/>
<circle cx="1511.3" cy="910.1" r="5.3" fill="#2bbf80" stroke="#000" stroke-width="2"/>
<circle cx="1518" cy="922.1" r="5.3" fill="#2bbf80" stroke="#000" stroke-width="2"/>
<circle cx="1511.3" cy="927.7" r="5.3" fill="#2bbf80" stroke="#000" stroke-width="2"/>
<circle cx="1505.3" cy="931.7" r="5.3" fill="#2bbf80" stroke="#000" stroke-width="2"/>
<circle cx="1505.3" cy="977.6" r="5.3" fill="#2bbf80" stroke="#000" stroke-width="2"/>
<circle cx="1518" cy="972.6" r="5.3" fill="#2bbf80" stroke="#000" stroke-width="2"/>
<circle cx="1511.3" cy="980" r="5.3" fill="#2bbf80" stroke="#000" stroke-width="2"/>
<circle cx="1518" cy="986.6" r="5.3" fill="#2bbf80" stroke="#000" stroke-width="2"/>
<circle cx="1505.3" cy="994.5" r="5.3" fill="#2bbf80" stroke="#000" stroke-width="2"/>
<circle cx="1518" cy="999.5" r="5.3" fill="#2bbf80" stroke="#000" stroke-width="2"/>
<circle cx="1511.3" cy="1003.5" r="5.3" fill="#2bbf80" stroke="#000" stroke-width="2"/>
<circle cx="1511.3" cy="1025.5" r="5.3" fill="#2bbf80" stroke="#000" stroke-width="2"/>
<line x1="1385.9" y1="857.45" x2="1385.9" y2="1119.45" stroke="#000" stroke-width="2.5"/>
<line x1="1384.65" y1="1118.2" x2="1535.3" y2="1118.2" stroke="#000" stroke-width="2.5"/>
<line x1="1378.9" y1="1118.2" x2="1385.9" y2="1118.2" stroke="#000" stroke-width="2.5"/>
<line x1="1378.9" y1="1053.33" x2="1385.9" y2="1053.33" stroke="#000" stroke-width="2.5"/>
<line x1="1378.9" y1="988.45" x2="1385.9" y2="988.45" stroke="#000" stroke-width="2.5"/>
<line x1="1378.9" y1="923.58" x2="1385.9" y2="923.58" stroke="#000" stroke-width="2.5"/>
<line x1="1378.9" y1="858.7" x2="1385.9" y2="858.7" stroke="#000" stroke-width="2.5"/>
<text x="1375.7" y="1128.67" font-size="32.3" text-anchor="end">0</text>
<text x="1375.7" y="1063.79" font-size="32.3" text-anchor="end">20</text>
<text x="1375.7" y="998.92" font-size="32.3" text-anchor="end">40</text>
<text x="1375.7" y="934.04" font-size="32.3" text-anchor="end">60</text>
<text x="1375.7" y="869.17" font-size="32.3" text-anchor="end">80</text>
<line x1="1408.55" y1="1118.2" x2="1408.55" y2="1127.2" stroke="#000" stroke-width="2.5"/>
<line x1="1442.5" y1="1118.2" x2="1442.5" y2="1127.2" stroke="#000" stroke-width="2.5"/>
<line x1="1476.4" y1="1118.2" x2="1476.4" y2="1127.2" stroke="#000" stroke-width="2.5"/>
<line x1="1510.8" y1="1118.2" x2="1510.8" y2="1127.2" stroke="#000" stroke-width="2.5"/>
<text stroke="#000" stroke-width="0.7" x="1404.32" y="1159.3" font-size="31" textLength="42.76" lengthAdjust="spacingAndGlyphs">LN</text>
<text stroke="#000" stroke-width="0.7" x="1474.81" y="1159.3" font-size="31" textLength="42.36" lengthAdjust="spacingAndGlyphs">TIL</text>
<text transform="translate(1323.5,1132.2) rotate(-90)" font-size="31.5" textLength="306" lengthAdjust="spacingAndGlyphs">%Foxp3<tspan font-size="24" dy="-14">+</tspan><tspan dy="14"> [Total CD4</tspan><tspan font-size="24" dy="-14">+</tspan><tspan dy="14">]</tspan></text>
<rect x="1658.45" y="1047.54" width="28.5" height="73.56" fill="#fff" stroke="#000" stroke-width="2.5"/>
<rect x="1706.85" y="1030.63" width="28.2" height="90.47" fill="#fff" stroke="#000" stroke-width="2.5"/>
<line x1="1672.7" y1="1046.29" x2="1672.7" y2="1054.75" stroke="#000" stroke-width="2.5"/>
<line x1="1666.7" y1="1054.75" x2="1678.7" y2="1054.75" stroke="#000" stroke-width="2.5"/>
<line x1="1672.7" y1="1046.29" x2="1672.7" y2="1037.84" stroke="#000" stroke-width="2.5"/>
<line x1="1666.7" y1="1037.84" x2="1678.7" y2="1037.84" stroke="#000" stroke-width="2.5"/>
<line x1="1720.95" y1="1029.38" x2="1720.95" y2="1043.04" stroke="#000" stroke-width="2.5"/>
<line x1="1714.95" y1="1043.04" x2="1726.95" y2="1043.04" stroke="#000" stroke-width="2.5"/>
<line x1="1720.95" y1="1029.38" x2="1720.95" y2="1015.72" stroke="#000" stroke-width="2.5"/>
<line x1="1714.95" y1="1015.72" x2="1726.95" y2="1015.72" stroke="#000" stroke-width="2.5"/>
<circle cx="1673.1" cy="984.2" r="5.5" fill="#000" stroke="#000" stroke-width="1.5"/>
<circle cx="1661.5" cy="1016" r="5.5" fill="#000" stroke="#000" stroke-width="1.5"/>
<circle cx="1684.1" cy="1023.3" r="5.5" fill="#000" stroke="#000" stroke-width="1.5"/>
<circle cx="1672.5" cy="1030.6" r="5.5" fill="#000" stroke="#000" stroke-width="1.5"/>
<circle cx="1661.5" cy="1042.2" r="5.5" fill="#000" stroke="#000" stroke-width="1.5"/>
<circle cx="1684.1" cy="1042.2" r="5.5" fill="#000" stroke="#000" stroke-width="1.5"/>
<circle cx="1672.5" cy="1048" r="5.5" fill="#000" stroke="#000" stroke-width="1.5"/>
<circle cx="1661.5" cy="1055.2" r="5.5" fill="#000" stroke="#000" stroke-width="1.5"/>
<circle cx="1684.1" cy="1055.2" r="5.5" fill="#000" stroke="#000" stroke-width="1.5"/>
<circle cx="1672.5" cy="1062.5" r="5.5" fill="#000" stroke="#000" stroke-width="1.5"/>
<circle cx="1661.5" cy="1082.8" r="5.5" fill="#000" stroke="#000" stroke-width="1.5"/>
<circle cx="1672.5" cy="1077" r="5.5" fill="#000" stroke="#000" stroke-width="1.5"/>
<circle cx="1684.1" cy="1082.8" r="5.5" fill="#000" stroke="#000" stroke-width="1.5"/>
<circle cx="1721" cy="919.5" r="5.5" fill="#2bbf80" stroke="#000" stroke-width="2"/>
<circle cx="1721" cy="945" r="5.5" fill="#2bbf80" stroke="#000" stroke-width="2"/>
<circle cx="1721" cy="971.7" r="5.5" fill="#2bbf80" stroke="#000" stroke-width="2"/>
<circle cx="1721" cy="1003.9" r="5.5" fill="#2bbf80" stroke="#000" stroke-width="2"/>
<circle cx="1718" cy="1017" r="5.5" fill="#2bbf80" stroke="#000" stroke-width="2"/>
<circle cx="1725.3" cy="1023.3" r="5.5" fill="#2bbf80" stroke="#000" stroke-width="2"/>
<circle cx="1710" cy="1043.6" r="5.5" fill="#2bbf80" stroke="#000" stroke-width="2"/>
<circle cx="1718" cy="1043.6" r="5.5" fill="#2bbf80" stroke="#000" stroke-width="2"/>
<circle cx="1725.3" cy="1043.6" r="5.5" fill="#2bbf80" stroke="#000" stroke-width="2"/>
<circle cx="1732.6" cy="1036.4" r="5.5" fill="#2bbf80" stroke="#000" stroke-width="2"/>
<circle cx="1721" cy="1056.7" r="5.5" fill="#2bbf80" stroke="#000" stroke-width="2"/>
<circle cx="1710" cy="1075.5" r="5.5" fill="#2bbf80" stroke="#000" stroke-width="2"/>
<circle cx="1732.6" cy="1075.5" r="5.5" fill="#2bbf80" stroke="#000" stroke-width="2"/>
<circle cx="1725.3" cy="1082.8" r="5.5" fill="#2bbf80" stroke="#000" stroke-width="2"/>
<circle cx="1718" cy="1088.6" r="5.5" fill="#2bbf80" stroke="#000" stroke-width="2"/>
<line x1="1640.6" y1="859.65" x2="1640.6" y2="1122.35" stroke="#000" stroke-width="2.5"/>
<line x1="1639.35" y1="1121.1" x2="1753.7" y2="1121.1" stroke="#000" stroke-width="2.5"/>
<line x1="1633.6" y1="1121.1" x2="1640.6" y2="1121.1" stroke="#000" stroke-width="2.5"/>
<line x1="1633.6" y1="1056.05" x2="1640.6" y2="1056.05" stroke="#000" stroke-width="2.5"/>
<line x1="1633.6" y1="991" x2="1640.6" y2="991" stroke="#000" stroke-width="2.5"/>
<line x1="1633.6" y1="925.95" x2="1640.6" y2="925.95" stroke="#000" stroke-width="2.5"/>
<line x1="1633.6" y1="860.9" x2="1640.6" y2="860.9" stroke="#000" stroke-width="2.5"/>
<text x="1630.4" y="1131.81" font-size="33" text-anchor="end">0</text>
<text x="1630.4" y="1066.76" font-size="33" text-anchor="end">1</text>
<text x="1630.4" y="1001.72" font-size="33" text-anchor="end">2</text>
<text x="1630.4" y="936.66" font-size="33" text-anchor="end">3</text>
<text x="1630.4" y="871.62" font-size="33" text-anchor="end">4</text>
<line x1="1672.7" y1="1121.1" x2="1672.7" y2="1130.1" stroke="#000" stroke-width="2.5"/>
<line x1="1720.95" y1="1121.1" x2="1720.95" y2="1130.1" stroke="#000" stroke-width="2.5"/>
<line x1="1672.2" y1="871" x2="1721.8" y2="871" stroke="#000" stroke-width="3"/>
<text x="1697" y="863.5" font-size="33" text-anchor="middle">ns</text>
<text x="1674.84" y="1166.9" font-size="32">TIL</text>
<text x="0" y="0" font-size="33" transform="translate(1598,1061.63) rotate(-90)" textLength="154.86" lengthAdjust="spacingAndGlyphs">Tconv:Treg</text>
<rect x="1857.05" y="1019.01" width="28" height="105.79" fill="#fff" stroke="#000" stroke-width="2.5"/>
<rect x="1905.25" y="999.54" width="27.7" height="125.26" fill="#fff" stroke="#000" stroke-width="2.5"/>
<line x1="1871.05" y1="1017.76" x2="1871.05" y2="1030.73" stroke="#000" stroke-width="2.5"/>
<line x1="1865.05" y1="1030.73" x2="1877.05" y2="1030.73" stroke="#000" stroke-width="2.5"/>
<line x1="1871.05" y1="1017.76" x2="1871.05" y2="1004.78" stroke="#000" stroke-width="2.5"/>
<line x1="1865.05" y1="1004.78" x2="1877.05" y2="1004.78" stroke="#000" stroke-width="2.5"/>
<line x1="1919.1" y1="998.29" x2="1919.1" y2="1012.89" stroke="#000" stroke-width="2.5"/>
<line x1="1913.1" y1="1012.89" x2="1925.1" y2="1012.89" stroke="#000" stroke-width="2.5"/>
<line x1="1919.1" y1="998.29" x2="1919.1" y2="983.7" stroke="#000" stroke-width="2.5"/>
<line x1="1913.1" y1="983.7" x2="1925.1" y2="983.7" stroke="#000" stroke-width="2.5"/>
<circle cx="1870.9" cy="931.1" r="5.5" fill="#000" stroke="#000" stroke-width="1.5"/>
<circle cx="1870.9" cy="956.6" r="5.5" fill="#000" stroke="#000" stroke-width="1.5"/>
<circle cx="1867.4" cy="1004.5" r="5.5" fill="#000" stroke="#000" stroke-width="1.5"/>
<circle cx="1874.7" cy="1008.8" r="5.5" fill="#000" stroke="#000" stroke-width="1.5"/>
<circle cx="1860.2" cy="1023.3" r="5.5" fill="#000" stroke="#000" stroke-width="1.5"/>
<circle cx="1870.3" cy="1023.3" r="5.5" fill="#000" stroke="#000" stroke-width="1.5"/>
<circle cx="1882" cy="1023.3" r="5.5" fill="#000" stroke="#000" stroke-width="1.5"/>
<circle cx="1867.4" cy="1034.9" r="5.5" fill="#000" stroke="#000" stroke-width="1.5"/>
<circle cx="1867.4" cy="1046.5" r="5.5" fill="#000" stroke="#000" stroke-width="1.5"/>
<circle cx="1874.7" cy="1056.7" r="5.5" fill="#000" stroke="#000" stroke-width="1.5"/>
<circle cx="1866" cy="1063.9" r="5.5" fill="#000" stroke="#000" stroke-width="1.5"/>
<circle cx="1919.7" cy="895.1" r="5.5" fill="#2bbf80" stroke="#000" stroke-width="2"/>
<circle cx="1919.7" cy="920.4" r="5.5" fill="#2bbf80" stroke="#000" stroke-width="2"/>
<circle cx="1907.5" cy="956.6" r="5.5" fill="#2bbf80" stroke="#000" stroke-width="2"/>
<circle cx="1919.7" cy="963" r="5.5" fill="#2bbf80" stroke="#000" stroke-width="2"/>
<circle cx="1930.7" cy="963" r="5.5" fill="#2bbf80" stroke="#000" stroke-width="2"/>
<circle cx="1913.9" cy="985.6" r="5.5" fill="#2bbf80" stroke="#000" stroke-width="2"/>
<circle cx="1924.9" cy="982.7" r="5.5" fill="#2bbf80" stroke="#000" stroke-width="2"/>
<circle cx="1919.7" cy="998.7" r="5.5" fill="#2bbf80" stroke="#000" stroke-width="2"/>
<circle cx="1907.5" cy="1014.6" r="5.5" fill="#2bbf80" stroke="#000" stroke-width="2"/>
<circle cx="1919.7" cy="1021.9" r="5.5" fill="#2bbf80" stroke="#000" stroke-width="2"/>
<circle cx="1930.7" cy="1014.6" r="5.5" fill="#2bbf80" stroke="#000" stroke-width="2"/>
<circle cx="1919.7" cy="1047.4" r="5.5" fill="#2bbf80" stroke="#000" stroke-width="2"/>
<circle cx="1930.7" cy="1056.7" r="5.5" fill="#2bbf80" stroke="#000" stroke-width="2"/>
<circle cx="1919.7" cy="1063.9" r="5.5" fill="#2bbf80" stroke="#000" stroke-width="2"/>
<circle cx="1919.7" cy="1082.8" r="5.5" fill="#2bbf80" stroke="#000" stroke-width="2"/>
<line x1="1839" y1="864.05" x2="1839" y2="1126.05" stroke="#000" stroke-width="2.5"/>
<line x1="1837.75" y1="1124.8" x2="1952.1" y2="1124.8" stroke="#000" stroke-width="2.5"/>
<line x1="1832" y1="1124.8" x2="1839" y2="1124.8" stroke="#000" stroke-width="2.5"/>
<line x1="1832" y1="1059.92" x2="1839" y2="1059.92" stroke="#000" stroke-width="2.5"/>
<line x1="1832" y1="995.05" x2="1839" y2="995.05" stroke="#000" stroke-width="2.5"/>
<line x1="1832" y1="930.17" x2="1839" y2="930.17" stroke="#000" stroke-width="2.5"/>
<line x1="1832" y1="865.3" x2="1839" y2="865.3" stroke="#000" stroke-width="2.5"/>
<text x="1828.8" y="1135.51" font-size="33" text-anchor="end">0</text>
<text x="1828.8" y="1070.64" font-size="33" text-anchor="end">2</text>
<text x="1828.8" y="1005.76" font-size="33" text-anchor="end">4</text>
<text x="1828.8" y="940.89" font-size="33" text-anchor="end">6</text>
<text x="1828.8" y="876.01" font-size="33" text-anchor="end">8</text>
<line x1="1871.05" y1="1124.8" x2="1871.05" y2="1133.8" stroke="#000" stroke-width="2.5"/>
<line x1="1919.1" y1="1124.8" x2="1919.1" y2="1133.8" stroke="#000" stroke-width="2.5"/>
<line x1="1870.3" y1="875.4" x2="1920.2" y2="875.4" stroke="#000" stroke-width="3"/>
<text x="1895.25" y="867.9" font-size="33" text-anchor="middle">ns</text>
<text x="1873.44" y="1169.8" font-size="32">TIL</text>
<text x="0" y="0" font-size="33" transform="translate(1795,1056.61) rotate(-90)" textLength="138.38" lengthAdjust="spacingAndGlyphs">CD8:Treg</text>
<circle cx="1974.2" cy="945" r="5.5" fill="#000" stroke="#000" stroke-width="1.5"/>
<text x="2002.56" y="956.6" font-size="32" textLength="67.97" lengthAdjust="spacingAndGlyphs">H2O</text>
<circle cx="1974.2" cy="992" r="5.5" fill="#2bbf80" stroke="#000" stroke-width="2"/>
<text x="2003.9" y="1003" font-size="32" textLength="66.76" lengthAdjust="spacingAndGlyphs">3MP</text>
<text x="-0.58" y="1270.3" font-size="64">h</text>
<line x1="160.4" y1="1295.55" x2="160.4" y2="1557.25" stroke="#000" stroke-width="2.5"/>
<line x1="159.2" y1="1556" x2="483.8" y2="1556" stroke="#000" stroke-width="2.5"/>
<line x1="153" y1="1556" x2="160.4" y2="1556" stroke="#000" stroke-width="2.5"/>
<line x1="153" y1="1504.16" x2="160.4" y2="1504.16" stroke="#000" stroke-width="2.5"/>
<line x1="153" y1="1452.32" x2="160.4" y2="1452.32" stroke="#000" stroke-width="2.5"/>
<line x1="153" y1="1400.48" x2="160.4" y2="1400.48" stroke="#000" stroke-width="2.5"/>
<line x1="153" y1="1348.64" x2="160.4" y2="1348.64" stroke="#000" stroke-width="2.5"/>
<line x1="153" y1="1296.8" x2="160.4" y2="1296.8" stroke="#000" stroke-width="2.5"/>
<text x="131.69" y="1567.5" font-size="33.5" textLength="18.19" lengthAdjust="spacingAndGlyphs">0</text>
<text x="113.18" y="1515.66" font-size="33.5" textLength="36.76" lengthAdjust="spacingAndGlyphs">50</text>
<text x="94.09" y="1463.82" font-size="33.5" textLength="55.9" lengthAdjust="spacingAndGlyphs">100</text>
<text x="94.09" y="1411.98" font-size="33.5" textLength="55.9" lengthAdjust="spacingAndGlyphs">150</text>
<text x="94.95" y="1360.14" font-size="33.5" textLength="55.02" lengthAdjust="spacingAndGlyphs">200</text>
<text x="94.95" y="1308.3" font-size="33.5" textLength="55.02" lengthAdjust="spacingAndGlyphs">250</text>
<line x1="160.4" y1="1556" x2="160.4" y2="1564" stroke="#000" stroke-width="2.5"/>
<line x1="268.2" y1="1556" x2="268.2" y2="1564" stroke="#000" stroke-width="2.5"/>
<line x1="376" y1="1556" x2="376" y2="1564" stroke="#000" stroke-width="2.5"/>
<line x1="483.8" y1="1556" x2="483.8" y2="1564" stroke="#000" stroke-width="2.5"/>
<text x="151.58" y="1595" font-size="31.5">0</text>
<text x="250.09" y="1595" font-size="31.5">10</text>
<text x="358.28" y="1595" font-size="31.5">20</text>
<text x="466.24" y="1595" font-size="31.5">30</text>
<text x="182.18" y="1641.2" font-size="30" textLength="280.64" lengthAdjust="spacingAndGlyphs">Days Post Injection</text>
<text transform="translate(79.5,1548.8) rotate(-90)" font-size="30" textLength="259" lengthAdjust="spacingAndGlyphs">tumor area (mm<tspan font-size="20" dy="-12">2</tspan><tspan dy="12">)</tspan></text>
<line x1="184.8" y1="1309.6" x2="211.8" y2="1309.6" stroke="#000" stroke-width="2.5"/>
<text x="228.23" y="1320.4" font-size="31" textLength="106.95" lengthAdjust="spacingAndGlyphs">Vehicle</text>
<line x1="184.8" y1="1337.6" x2="211.8" y2="1337.6" stroke="#22b422" stroke-width="2.5"/>
<text x="227.09" y="1348.6" font-size="31" textLength="67.18" lengthAdjust="spacingAndGlyphs">3MP</text>
<line x1="235.86" y1="1547.71" x2="235.86" y2="1544.6" stroke="#22b422" stroke-width="2.5"/>
<line x1="229.86" y1="1547.71" x2="241.86" y2="1547.71" stroke="#22b422" stroke-width="2.5"/>
<line x1="229.86" y1="1544.6" x2="241.86" y2="1544.6" stroke="#22b422" stroke-width="2.5"/>
<line x1="257.42" y1="1543.56" x2="257.42" y2="1539.93" stroke="#22b422" stroke-width="2.5"/>
<line x1="251.42" y1="1543.56" x2="263.42" y2="1543.56" stroke="#22b422" stroke-width="2.5"/>
<line x1="251.42" y1="1539.93" x2="263.42" y2="1539.93" stroke="#22b422" stroke-width="2.5"/>
<line x1="300.54" y1="1523.86" x2="300.54" y2="1518.68" stroke="#22b422" stroke-width="2.5"/>
<line x1="294.54" y1="1523.86" x2="306.54" y2="1523.86" stroke="#22b422" stroke-width="2.5"/>
<line x1="294.54" y1="1518.68" x2="306.54" y2="1518.68" stroke="#22b422" stroke-width="2.5"/>
<line x1="322.1" y1="1521.16" x2="322.1" y2="1512.97" stroke="#22b422" stroke-width="2.5"/>
<line x1="316.1" y1="1521.16" x2="328.1" y2="1521.16" stroke="#22b422" stroke-width="2.5"/>
<line x1="316.1" y1="1512.97" x2="328.1" y2="1512.97" stroke="#22b422" stroke-width="2.5"/>
<line x1="343.66" y1="1491.3" x2="343.66" y2="1484.46" stroke="#22b422" stroke-width="2.5"/>
<line x1="337.66" y1="1491.3" x2="349.66" y2="1491.3" stroke="#22b422" stroke-width="2.5"/>
<line x1="337.66" y1="1484.46" x2="349.66" y2="1484.46" stroke="#22b422" stroke-width="2.5"/>
<line x1="376" y1="1435.94" x2="376" y2="1408.46" stroke="#22b422" stroke-width="2.5"/>
<line x1="370" y1="1435.94" x2="382" y2="1435.94" stroke="#22b422" stroke-width="2.5"/>
<line x1="370" y1="1408.46" x2="382" y2="1408.46" stroke="#22b422" stroke-width="2.5"/>
<line x1="397.56" y1="1393.95" x2="397.56" y2="1336.72" stroke="#22b422" stroke-width="2.5"/>
<line x1="391.56" y1="1393.95" x2="403.56" y2="1393.95" stroke="#22b422" stroke-width="2.5"/>
<line x1="391.56" y1="1336.72" x2="403.56" y2="1336.72" stroke="#22b422" stroke-width="2.5"/>
<line x1="419.12" y1="1336.72" x2="419.12" y2="1316.6" stroke="#22b422" stroke-width="2.5"/>
<line x1="413.12" y1="1336.72" x2="425.12" y2="1336.72" stroke="#22b422" stroke-width="2.5"/>
<line x1="413.12" y1="1316.6" x2="425.12" y2="1316.6" stroke="#22b422" stroke-width="2.5"/>
<line x1="451.46" y1="1336.72" x2="451.46" y2="1316.6" stroke="#22b422" stroke-width="2.5"/>
<line x1="445.46" y1="1336.72" x2="457.46" y2="1336.72" stroke="#22b422" stroke-width="2.5"/>
<line x1="445.46" y1="1316.6" x2="457.46" y2="1316.6" stroke="#22b422" stroke-width="2.5"/>
<path d="M160.4,1556 L235.86,1546.25 L257.42,1541.69 L300.54,1521.16 L322.1,1515.67 L343.66,1485.5 L376,1419.45 L397.56,1362.12 L419.12,1326.25 L451.46,1326.25" stroke="#22b422" stroke-width="3" fill="none"/>
<line x1="235.86" y1="1547.08" x2="235.86" y2="1542.94" stroke="#000" stroke-width="2.5"/>
<line x1="229.86" y1="1547.08" x2="241.86" y2="1547.08" stroke="#000" stroke-width="2.5"/>
<line x1="229.86" y1="1542.94" x2="241.86" y2="1542.94" stroke="#000" stroke-width="2.5"/>
<line x1="257.42" y1="1543.25" x2="257.42" y2="1538.06" stroke="#000" stroke-width="2.5"/>
<line x1="251.42" y1="1543.25" x2="263.42" y2="1543.25" stroke="#000" stroke-width="2.5"/>
<line x1="251.42" y1="1538.06" x2="263.42" y2="1538.06" stroke="#000" stroke-width="2.5"/>
<line x1="300.54" y1="1526.76" x2="300.54" y2="1501.26" stroke="#000" stroke-width="2.5"/>
<line x1="294.54" y1="1526.76" x2="306.54" y2="1526.76" stroke="#000" stroke-width="2.5"/>
<line x1="294.54" y1="1501.26" x2="306.54" y2="1501.26" stroke="#000" stroke-width="2.5"/>
<line x1="322.1" y1="1512.97" x2="322.1" y2="1495.55" stroke="#000" stroke-width="2.5"/>
<line x1="316.1" y1="1512.97" x2="328.1" y2="1512.97" stroke="#000" stroke-width="2.5"/>
<line x1="316.1" y1="1495.55" x2="328.1" y2="1495.55" stroke="#000" stroke-width="2.5"/>
<line x1="343.66" y1="1481.87" x2="343.66" y2="1446.51" stroke="#000" stroke-width="2.5"/>
<line x1="337.66" y1="1481.87" x2="349.66" y2="1481.87" stroke="#000" stroke-width="2.5"/>
<line x1="337.66" y1="1446.51" x2="349.66" y2="1446.51" stroke="#000" stroke-width="2.5"/>
<line x1="376" y1="1439.05" x2="376" y2="1383.79" stroke="#000" stroke-width="2.5"/>
<line x1="370" y1="1439.05" x2="382" y2="1439.05" stroke="#000" stroke-width="2.5"/>
<line x1="370" y1="1383.79" x2="382" y2="1383.79" stroke="#000" stroke-width="2.5"/>
<line x1="397.56" y1="1407.43" x2="397.56" y2="1323.65" stroke="#000" stroke-width="2.5"/>
<line x1="391.56" y1="1407.43" x2="403.56" y2="1407.43" stroke="#000" stroke-width="2.5"/>
<line x1="391.56" y1="1323.65" x2="403.56" y2="1323.65" stroke="#000" stroke-width="2.5"/>
<line x1="419.12" y1="1392.08" x2="419.12" y2="1320.65" stroke="#000" stroke-width="2.5"/>
<line x1="413.12" y1="1392.08" x2="425.12" y2="1392.08" stroke="#000" stroke-width="2.5"/>
<line x1="413.12" y1="1320.65" x2="425.12" y2="1320.65" stroke="#000" stroke-width="2.5"/>
<line x1="451.46" y1="1372.07" x2="451.46" y2="1311.42" stroke="#000" stroke-width="2.5"/>
<line x1="445.46" y1="1372.07" x2="457.46" y2="1372.07" stroke="#000" stroke-width="2.5"/>
<line x1="445.46" y1="1311.42" x2="457.46" y2="1311.42" stroke="#000" stroke-width="2.5"/>
<path d="M160.4,1556 L235.86,1545.01 L257.42,1541.17 L300.54,1514.32 L322.1,1504.16 L343.66,1462.79 L376,1409.19 L397.56,1365.85 L419.12,1356.93 L451.46,1341.59" stroke="#000" stroke-width="3" fill="none"/>
<text x="534.24" y="1266.3" font-size="64">i</text>
<text x="811.03" y="1256" font-size="33" font-style="italic" textLength="110.11" lengthAdjust="spacingAndGlyphs">In vitro</text>
<rect x="735.4" y="1264.9" width="258" height="308.5" fill="none" stroke="#777" stroke-width="1.5"/>
<text x="740" y="1304.2" font-size="33" textLength="251" lengthAdjust="spacingAndGlyphs"><tspan>T</tspan><tspan font-size="24" dy="7.5">reg</tspan><tspan dy="-7.5"> proliferation</tspan></text>
<text x="588.76" y="1403.6" font-size="35" textLength="130.48" lengthAdjust="spacingAndGlyphs">No Stim</text>
<text x="538.68" y="1470.1" font-size="35" textLength="191.04" lengthAdjust="spacingAndGlyphs">+10mM Lac</text>
<text x="645.54" y="1529.5" font-size="35" textLength="75.03" lengthAdjust="spacingAndGlyphs">3MP</text>
<text x="530.49" y="1572.6" font-size="35" textLength="190.03" lengthAdjust="spacingAndGlyphs">+10mM Lac</text>
<path d="M736.15,1421.15 L918.06,1421.15 L926.67,1419 L935.29,1415.77 L941.74,1409.31 L946.05,1398.55 L950.36,1370.56 L954.66,1340.42 L958.97,1321.04 L963.27,1340.42 L966.5,1366.25 L969.73,1374.87 L975.11,1392.09 L979.42,1409.31 L983.72,1416.85 L990.18,1421.15" stroke="#333" stroke-width="2.4" fill="none" stroke-dasharray="2.2,1.8"/>
<path d="M735.07,1497.58 L812.57,1497.58 L838.41,1495.43 L843.79,1492.2 L849.17,1486.81 L854.55,1487.89 L861.01,1490.04 L866.39,1478.2 L870.7,1468.51 L875.01,1469.59 L879.31,1471.74 L884.69,1466.36 L890.08,1462.06 L898.69,1462.06 L901.92,1454.52 L905.58,1448.06 L910.53,1450.22 L914.83,1457.75 L919.14,1465.29 L923.44,1462.06 L927.75,1459.9 L932.06,1457.75 L935.29,1448.06 L937.87,1428.69 L940.67,1396.39 L943.9,1385.63 L947.13,1396.39 L950.36,1409.31 L954.66,1422.23 L957.89,1437.3 L963.27,1445.91 L966.5,1460.98 L969.73,1482.51 L975.11,1488.97 L980.5,1492.2 L986.95,1497.15 L993.41,1497.58" stroke="#000" stroke-width="3.6" fill="none" stroke-linejoin="round"/>
<path d="M735.07,1572.93 L849.17,1572.93 L857.78,1568.62 L863.16,1563.24 L868.55,1560.01 L875.01,1560.01 L881.46,1561.09 L886.85,1547.09 L892.23,1529.87 L896.53,1532.02 L900.84,1528.79 L905.15,1525.57 L909.45,1523.41 L913.76,1527.72 L916.99,1529.87 L922.37,1521.26 L926.67,1515.88 L929.9,1519.11 L933.13,1534.18 L935.29,1536.33 L939.59,1527.72 L943.9,1499.73 L948.2,1476.05 L951.43,1491.12 L954.66,1506.19 L956.81,1522.34 L963.27,1525.57 L966.5,1540.64 L969.73,1560.01 L974.04,1570.78 L978.34,1572.93 L993.41,1572.93" stroke="#19c019" stroke-width="3.2" fill="none" stroke-linejoin="round"/>
<line x1="751.9" y1="1573" x2="751.9" y2="1579" stroke="#333" stroke-width="1.6"/>
<line x1="835.2" y1="1573" x2="835.2" y2="1579" stroke="#333" stroke-width="1.6"/>
<line x1="906.2" y1="1573" x2="906.2" y2="1579" stroke="#333" stroke-width="1.6"/>
<line x1="966.5" y1="1573" x2="966.5" y2="1579" stroke="#333" stroke-width="1.6"/>
<line x1="856.57" y1="1573" x2="856.57" y2="1576.5" stroke="#555" stroke-width="1.2"/>
<line x1="869.08" y1="1573" x2="869.08" y2="1576.5" stroke="#555" stroke-width="1.2"/>
<line x1="877.95" y1="1573" x2="877.95" y2="1576.5" stroke="#555" stroke-width="1.2"/>
<line x1="884.83" y1="1573" x2="884.83" y2="1576.5" stroke="#555" stroke-width="1.2"/>
<line x1="890.45" y1="1573" x2="890.45" y2="1576.5" stroke="#555" stroke-width="1.2"/>
<line x1="895.2" y1="1573" x2="895.2" y2="1576.5" stroke="#555" stroke-width="1.2"/>
<line x1="899.32" y1="1573" x2="899.32" y2="1576.5" stroke="#555" stroke-width="1.2"/>
<line x1="902.95" y1="1573" x2="902.95" y2="1576.5" stroke="#555" stroke-width="1.2"/>
<line x1="924.35" y1="1573" x2="924.35" y2="1576.5" stroke="#555" stroke-width="1.2"/>
<line x1="934.97" y1="1573" x2="934.97" y2="1576.5" stroke="#555" stroke-width="1.2"/>
<line x1="942.5" y1="1573" x2="942.5" y2="1576.5" stroke="#555" stroke-width="1.2"/>
<line x1="948.35" y1="1573" x2="948.35" y2="1576.5" stroke="#555" stroke-width="1.2"/>
<line x1="953.12" y1="1573" x2="953.12" y2="1576.5" stroke="#555" stroke-width="1.2"/>
<line x1="957.16" y1="1573" x2="957.16" y2="1576.5" stroke="#555" stroke-width="1.2"/>
<line x1="960.66" y1="1573" x2="960.66" y2="1576.5" stroke="#555" stroke-width="1.2"/>
<line x1="963.74" y1="1573" x2="963.74" y2="1576.5" stroke="#555" stroke-width="1.2"/>
<line x1="984.56" y1="1573" x2="984.56" y2="1576.5" stroke="#555" stroke-width="1.2"/>
<line x1="791" y1="1573" x2="791" y2="1579" stroke="#222" stroke-width="1.1"/>
<line x1="792.3" y1="1573" x2="792.3" y2="1579" stroke="#222" stroke-width="1.1"/>
<line x1="793.6" y1="1573" x2="793.6" y2="1579" stroke="#222" stroke-width="1.1"/>
<line x1="794.9" y1="1573" x2="794.9" y2="1579" stroke="#222" stroke-width="1.1"/>
<line x1="796.2" y1="1573" x2="796.2" y2="1579" stroke="#222" stroke-width="1.1"/>
<line x1="797.5" y1="1573" x2="797.5" y2="1579" stroke="#222" stroke-width="1.1"/>
<text x="809.86" y="1611.7" font-size="34" textLength="40.71" lengthAdjust="spacingAndGlyphs">10</text>
<text x="850.64" y="1597" font-size="24">3</text>
<text x="884.05" y="1611.7" font-size="34" textLength="40.71" lengthAdjust="spacingAndGlyphs">10</text>
<text x="925.32" y="1597" font-size="24">4</text>
<text x="945.46" y="1611.7" font-size="34" textLength="40.71" lengthAdjust="spacingAndGlyphs">10</text>
<text x="986.24" y="1597" font-size="24">5</text>
<text x="718.17" y="1646" font-size="35" textLength="73.01" lengthAdjust="spacingAndGlyphs">CTV</text>
<line x1="818" y1="1633.2" x2="905" y2="1633.2" stroke="#000" stroke-width="5"/>
<path d="M903,1621.4 L921.3,1633.2 L903,1645 Z" stroke="#000" stroke-width="1" fill="#000"/>
<rect x="1146.25" y="1407.2" width="27.5" height="171.55" fill="#000" stroke="#000" stroke-width="2.5"/>
<rect x="1192.55" y="1437.59" width="26.7" height="141.16" fill="#0cbf0c" stroke="#000" stroke-width="2.5"/>
<line x1="1160" y1="1405.95" x2="1160" y2="1413.77" stroke="#000" stroke-width="2.5"/>
<line x1="1154" y1="1413.77" x2="1166" y2="1413.77" stroke="#000" stroke-width="2.5"/>
<line x1="1160" y1="1405.95" x2="1160" y2="1398.14" stroke="#000" stroke-width="2.5"/>
<line x1="1154" y1="1398.14" x2="1166" y2="1398.14" stroke="#000" stroke-width="2.5"/>
<line x1="1205.9" y1="1436.34" x2="1205.9" y2="1443.29" stroke="#000" stroke-width="2.5"/>
<line x1="1199.9" y1="1443.29" x2="1211.9" y2="1443.29" stroke="#000" stroke-width="2.5"/>
<line x1="1205.9" y1="1436.34" x2="1205.9" y2="1429.4" stroke="#000" stroke-width="2.5"/>
<line x1="1199.9" y1="1429.4" x2="1211.9" y2="1429.4" stroke="#000" stroke-width="2.5"/>
<circle cx="1160" cy="1379.5" r="5.3" fill="#d3d3d3" stroke="#000" stroke-width="2"/>
<circle cx="1150.5" cy="1405" r="5.3" fill="#d3d3d3" stroke="#000" stroke-width="2"/>
<circle cx="1160" cy="1405" r="5.3" fill="#d3d3d3" stroke="#000" stroke-width="2"/>
<circle cx="1169.3" cy="1413.8" r="5.3" fill="#d3d3d3" stroke="#000" stroke-width="2"/>
<circle cx="1150.5" cy="1424.5" r="5.3" fill="#d3d3d3" stroke="#000" stroke-width="2"/>
<circle cx="1214.5" cy="1415.5" r="5.3" fill="#d3d3d3" stroke="#000" stroke-width="2"/>
<circle cx="1205.5" cy="1424.5" r="5.3" fill="#d3d3d3" stroke="#000" stroke-width="2"/>
<circle cx="1197" cy="1433" r="5.3" fill="#d3d3d3" stroke="#000" stroke-width="2"/>
<circle cx="1214.5" cy="1433" r="5.3" fill="#d3d3d3" stroke="#000" stroke-width="2"/>
<circle cx="1205.5" cy="1448.8" r="5.3" fill="#d3d3d3" stroke="#000" stroke-width="2"/>
<circle cx="1205.5" cy="1464.5" r="5.3" fill="#d3d3d3" stroke="#000" stroke-width="2"/>
<line x1="1130" y1="1317" x2="1130" y2="1580" stroke="#000" stroke-width="2.5"/>
<line x1="1128.75" y1="1578.75" x2="1237" y2="1578.75" stroke="#000" stroke-width="2.5"/>
<line x1="1119.5" y1="1578.75" x2="1130" y2="1578.75" stroke="#000" stroke-width="2.5"/>
<line x1="1119.5" y1="1491.92" x2="1130" y2="1491.92" stroke="#000" stroke-width="2.5"/>
<line x1="1119.5" y1="1405.08" x2="1130" y2="1405.08" stroke="#000" stroke-width="2.5"/>
<line x1="1119.5" y1="1318.25" x2="1130" y2="1318.25" stroke="#000" stroke-width="2.5"/>
<text x="1116.3" y="1589.46" font-size="33" text-anchor="end">0.0</text>
<text x="1116.3" y="1502.63" font-size="33" text-anchor="end">0.5</text>
<text x="1116.3" y="1415.8" font-size="33" text-anchor="end">1.0</text>
<text x="1116.3" y="1328.96" font-size="33" text-anchor="end">1.5</text>
<line x1="1160" y1="1578.75" x2="1160" y2="1587.75" stroke="#000" stroke-width="2.5"/>
<line x1="1205.9" y1="1578.75" x2="1205.9" y2="1587.75" stroke="#000" stroke-width="2.5"/>
<line x1="1158.8" y1="1362" x2="1210.5" y2="1362" stroke="#000" stroke-width="4"/>
<text x="1184.3" y="1365.4" font-size="29" text-anchor="middle">*</text>
<text x="1158.5" y="1281.3" font-size="33"><tspan>T</tspan><tspan font-size="24" dy="8.7">reg</tspan></text>
<text x="0" y="0" font-size="28.5" transform="translate(1055.4,1639.62) rotate(-90)" textLength="396.66" lengthAdjust="spacingAndGlyphs">proliferation (division index)</text>
<rect x="1295.55" y="1491.92" width="27.5" height="85.08" fill="#000" stroke="#000" stroke-width="2.5"/>
<rect x="1341.75" y="1431.05" width="26.3" height="145.95" fill="#0cbf0c" stroke="#000" stroke-width="2.5"/>
<line x1="1309.3" y1="1490.67" x2="1309.3" y2="1497.57" stroke="#000" stroke-width="2.5"/>
<line x1="1303.3" y1="1497.57" x2="1315.3" y2="1497.57" stroke="#000" stroke-width="2.5"/>
<line x1="1309.3" y1="1490.67" x2="1309.3" y2="1483.76" stroke="#000" stroke-width="2.5"/>
<line x1="1303.3" y1="1483.76" x2="1315.3" y2="1483.76" stroke="#000" stroke-width="2.5"/>
<line x1="1354.9" y1="1429.8" x2="1354.9" y2="1455.27" stroke="#000" stroke-width="2.5"/>
<line x1="1348.9" y1="1455.27" x2="1360.9" y2="1455.27" stroke="#000" stroke-width="2.5"/>
<line x1="1354.9" y1="1429.8" x2="1354.9" y2="1404.33" stroke="#000" stroke-width="2.5"/>
<line x1="1348.9" y1="1404.33" x2="1360.9" y2="1404.33" stroke="#000" stroke-width="2.5"/>
<circle cx="1300.5" cy="1477.5" r="5.3" fill="#d3d3d3" stroke="#000" stroke-width="2"/>
<circle cx="1308.8" cy="1490" r="5.3" fill="#d3d3d3" stroke="#000" stroke-width="2"/>
<circle cx="1318" cy="1490" r="5.3" fill="#d3d3d3" stroke="#000" stroke-width="2"/>
<circle cx="1300.5" cy="1502" r="5.3" fill="#d3d3d3" stroke="#000" stroke-width="2"/>
<circle cx="1355" cy="1340" r="5.3" fill="#d3d3d3" stroke="#000" stroke-width="2"/>
<circle cx="1355" cy="1383.8" r="5.3" fill="#d3d3d3" stroke="#000" stroke-width="2"/>
<circle cx="1355" cy="1413" r="5.3" fill="#d3d3d3" stroke="#000" stroke-width="2"/>
<circle cx="1345.5" cy="1468" r="5.3" fill="#d3d3d3" stroke="#000" stroke-width="2"/>
<circle cx="1363.8" cy="1472" r="5.3" fill="#d3d3d3" stroke="#000" stroke-width="2"/>
<circle cx="1355" cy="1498.8" r="5.3" fill="#d3d3d3" stroke="#000" stroke-width="2"/>
<line x1="1278.8" y1="1316.75" x2="1278.8" y2="1578.25" stroke="#000" stroke-width="2.5"/>
<line x1="1277.55" y1="1577" x2="1386.3" y2="1577" stroke="#000" stroke-width="2.5"/>
<line x1="1268.3" y1="1577" x2="1278.8" y2="1577" stroke="#000" stroke-width="2.5"/>
<line x1="1268.3" y1="1490.67" x2="1278.8" y2="1490.67" stroke="#000" stroke-width="2.5"/>
<line x1="1268.3" y1="1404.33" x2="1278.8" y2="1404.33" stroke="#000" stroke-width="2.5"/>
<line x1="1268.3" y1="1318" x2="1278.8" y2="1318" stroke="#000" stroke-width="2.5"/>
<text x="1265.1" y="1587.71" font-size="33" text-anchor="end">0</text>
<text x="1265.1" y="1501.38" font-size="33" text-anchor="end">1</text>
<text x="1265.1" y="1415.05" font-size="33" text-anchor="end">2</text>
<text x="1265.1" y="1328.71" font-size="33" text-anchor="end">3</text>
<line x1="1309.3" y1="1577" x2="1309.3" y2="1586" stroke="#000" stroke-width="2.5"/>
<line x1="1354.9" y1="1577" x2="1354.9" y2="1586" stroke="#000" stroke-width="2.5"/>
<text x="1312.79" y="1320" font-size="32" textLength="35.94" lengthAdjust="spacingAndGlyphs">ns</text>
<text x="1300" y="1275" font-size="33"><tspan>T</tspan><tspan font-size="24" dy="9.5">conv</tspan></text>
<rect x="1387.5" y="1364.5" width="27" height="25.5" fill="#000" stroke="#000" stroke-width="1"/>
<rect x="1388.5" y="1430.5" width="25" height="23.3" fill="#0cbf0c" stroke="#000" stroke-width="2.5"/>
<text x="1430.63" y="1389" font-size="33" textLength="153.95" lengthAdjust="spacingAndGlyphs">10mM Lac</text>
<text x="1430.63" y="1435.3" font-size="33" textLength="153.95" lengthAdjust="spacingAndGlyphs">10mM Lac</text>
<text x="1459.64" y="1471.4" font-size="33" textLength="96.61" lengthAdjust="spacingAndGlyphs">+ 3MP</text>
<text x="1610.9" y="1271" font-size="64">j</text>
<text x="1818.14" y="1274" font-size="33" font-style="italic" textLength="109.9" lengthAdjust="spacingAndGlyphs">In vitro</text>
<line x1="1731.1" y1="1295.05" x2="1731.1" y2="1557.45" stroke="#000" stroke-width="2.5"/>
<line x1="1729.9" y1="1556.2" x2="2025.5" y2="1556.2" stroke="#000" stroke-width="2.5"/>
<line x1="1720" y1="1556.2" x2="1731.1" y2="1556.2" stroke="#000" stroke-width="2.5"/>
<text x="1716" y="1568.7" font-size="33" text-anchor="end">0</text>
<line x1="1720" y1="1491.22" x2="1731.1" y2="1491.22" stroke="#000" stroke-width="2.5"/>
<text x="1716" y="1503.72" font-size="33" text-anchor="end">20</text>
<line x1="1720" y1="1426.25" x2="1731.1" y2="1426.25" stroke="#000" stroke-width="2.5"/>
<text x="1716" y="1438.75" font-size="33" text-anchor="end">40</text>
<line x1="1720" y1="1361.28" x2="1731.1" y2="1361.28" stroke="#000" stroke-width="2.5"/>
<text x="1716" y="1373.78" font-size="33" text-anchor="end">60</text>
<line x1="1720" y1="1296.3" x2="1731.1" y2="1296.3" stroke="#000" stroke-width="2.5"/>
<text x="1716" y="1308.8" font-size="33" text-anchor="end">80</text>
<line x1="1775.5" y1="1556.2" x2="1775.5" y2="1565.2" stroke="#000" stroke-width="2.5"/>
<line x1="1843.4" y1="1556.2" x2="1843.4" y2="1565.2" stroke="#000" stroke-width="2.5"/>
<line x1="1911.5" y1="1556.2" x2="1911.5" y2="1565.2" stroke="#000" stroke-width="2.5"/>
<line x1="1979.1" y1="1556.2" x2="1979.1" y2="1565.2" stroke="#000" stroke-width="2.5"/>
<text x="1775.5" y="1597.4" font-size="32" text-anchor="middle">1:4</text>
<text x="1843.4" y="1597.4" font-size="32" text-anchor="middle">1:8</text>
<text x="1911.5" y="1597.4" font-size="32" text-anchor="middle">1:16</text>
<text x="1979.1" y="1597.4" font-size="32" text-anchor="middle">1:32</text>
<text x="1801.26" y="1646" font-size="31">Treg:Tconv</text>
<text x="0" y="0" font-size="33" transform="translate(1664,1524.55) rotate(-90)" textLength="212.2" lengthAdjust="spacingAndGlyphs">%Suppression</text>
<line x1="1775.5" y1="1345.03" x2="1775.5" y2="1380.77" stroke="#000" stroke-width="2.5"/>
<line x1="1768.5" y1="1345.03" x2="1782.5" y2="1345.03" stroke="#000" stroke-width="2.5"/>
<line x1="1768.5" y1="1354.78" x2="1782.5" y2="1354.78" stroke="#000" stroke-width="2.5"/>
<line x1="1768.5" y1="1371.02" x2="1782.5" y2="1371.02" stroke="#000" stroke-width="2.5"/>
<line x1="1768.5" y1="1380.77" x2="1782.5" y2="1380.77" stroke="#000" stroke-width="2.5"/>
<line x1="1843.4" y1="1387.26" x2="1843.4" y2="1426.25" stroke="#000" stroke-width="2.5"/>
<line x1="1836.4" y1="1387.26" x2="1850.4" y2="1387.26" stroke="#000" stroke-width="2.5"/>
<line x1="1836.4" y1="1392.14" x2="1850.4" y2="1392.14" stroke="#000" stroke-width="2.5"/>
<line x1="1836.4" y1="1426.25" x2="1850.4" y2="1426.25" stroke="#000" stroke-width="2.5"/>
<line x1="1911.5" y1="1460.36" x2="1911.5" y2="1507.47" stroke="#000" stroke-width="2.5"/>
<line x1="1904.5" y1="1460.36" x2="1918.5" y2="1460.36" stroke="#000" stroke-width="2.5"/>
<line x1="1904.5" y1="1507.47" x2="1918.5" y2="1507.47" stroke="#000" stroke-width="2.5"/>
<line x1="1979.1" y1="1483.1" x2="1979.1" y2="1549.7" stroke="#000" stroke-width="2.5"/>
<line x1="1972.1" y1="1483.1" x2="1986.1" y2="1483.1" stroke="#000" stroke-width="2.5"/>
<line x1="1972.1" y1="1492.85" x2="1986.1" y2="1492.85" stroke="#000" stroke-width="2.5"/>
<line x1="1972.1" y1="1535.08" x2="1986.1" y2="1535.08" stroke="#000" stroke-width="2.5"/>
<line x1="1972.1" y1="1549.7" x2="1986.1" y2="1549.7" stroke="#000" stroke-width="2.5"/>
<path d="M1775.5,1364.52 L1843.4,1398.64 L1911.5,1491.22 L1979.1,1515.59" stroke="#1a9a1a" stroke-width="2.5" fill="none"/>
<path d="M1775.5,1362.9 L1843.4,1408.38 L1911.5,1484.73 L1979.1,1515.59" stroke="#000" stroke-width="2.5" fill="none"/>
<circle cx="1775.5" cy="1364.52" r="6" fill="#22cc22" stroke="#1a6a1a" stroke-width="2"/>
<circle cx="1843.4" cy="1398.64" r="6" fill="#22cc22" stroke="#1a6a1a" stroke-width="2"/>
<circle cx="1911.5" cy="1491.22" r="6" fill="#22cc22" stroke="#1a6a1a" stroke-width="2"/>
<circle cx="1979.1" cy="1515.59" r="6" fill="#22cc22" stroke="#1a6a1a" stroke-width="2"/>
<circle cx="1775.5" cy="1362.9" r="6.8" fill="#000" stroke="#000" stroke-width="1"/>
<circle cx="1843.4" cy="1408.38" r="6.8" fill="#000" stroke="#000" stroke-width="1"/>
<circle cx="1911.5" cy="1484.73" r="6.8" fill="#000" stroke="#000" stroke-width="1"/>
<circle cx="1979.1" cy="1515.59" r="6.8" fill="#000" stroke="#000" stroke-width="1"/>
<circle cx="1843.4" cy="1398.64" r="6" fill="#22cc22" stroke="#1a6a1a" stroke-width="2"/>
<line x1="1831.2" y1="1303.8" x2="1858.7" y2="1303.8" stroke="#000" stroke-width="2.5"/>
<circle cx="1844.2" cy="1303.8" r="6.5" fill="#000" stroke="#000" stroke-width="1"/>
<text x="1873.59" y="1314.6" font-size="33" textLength="156.2" lengthAdjust="spacingAndGlyphs">10mM Lac</text>
<line x1="1831.2" y1="1350.2" x2="1858.7" y2="1350.2" stroke="#1a9a1a" stroke-width="2.5"/>
<circle cx="1844.2" cy="1350.2" r="6" fill="#22cc22" stroke="#1a6a1a" stroke-width="2"/>
<text x="1873.63" y="1361" font-size="33" textLength="250.07" lengthAdjust="spacingAndGlyphs">10mM Lac+ 3MP</text>
<text x="62.14" y="1680.3" font-size="64">k</text>
<text x="389.5" y="1689" font-size="35" font-style="italic" textLength="287" lengthAdjust="spacingAndGlyphs">Slc16a1<tspan font-size="23" dy="-12">f/f</tspan><tspan dy="12">Foxp3</tspan><tspan font-size="23" dy="-12">Cre</tspan></text>
<line x1="196.3" y1="1703.8" x2="857.5" y2="1703.8" stroke="#000" stroke-width="3.6"/>
<rect x="231.75" y="1823.58" width="23.3" height="188.22" fill="#000" stroke="#000" stroke-width="2.5"/>
<rect x="270.75" y="1865.5" width="22.5" height="146.3" fill="#0cbf0c" stroke="#000" stroke-width="2.5"/>
<line x1="216.3" y1="1750.55" x2="216.3" y2="2013.05" stroke="#000" stroke-width="2.5"/>
<line x1="215.05" y1="2011.8" x2="308.8" y2="2011.8" stroke="#000" stroke-width="2.5"/>
<line x1="205.8" y1="2011.8" x2="216.3" y2="2011.8" stroke="#000" stroke-width="2.5"/>
<line x1="205.8" y1="1946.8" x2="216.3" y2="1946.8" stroke="#000" stroke-width="2.5"/>
<line x1="205.8" y1="1881.8" x2="216.3" y2="1881.8" stroke="#000" stroke-width="2.5"/>
<line x1="205.8" y1="1816.8" x2="216.3" y2="1816.8" stroke="#000" stroke-width="2.5"/>
<line x1="205.8" y1="1751.8" x2="216.3" y2="1751.8" stroke="#000" stroke-width="2.5"/>
<text x="202.6" y="2022.51" font-size="33" text-anchor="end">0</text>
<text x="202.6" y="1957.51" font-size="33" text-anchor="end">20</text>
<text x="202.6" y="1892.51" font-size="33" text-anchor="end">40</text>
<text x="202.6" y="1827.51" font-size="33" text-anchor="end">60</text>
<text x="202.6" y="1762.51" font-size="33" text-anchor="end">80</text>
<line x1="243.4" y1="2011.8" x2="243.4" y2="2020.8" stroke="#000" stroke-width="2.5"/>
<line x1="282" y1="2011.8" x2="282" y2="2020.8" stroke="#000" stroke-width="2.5"/>
<line x1="243.4" y1="1822.33" x2="243.4" y2="1765" stroke="#000" stroke-width="2.5"/>
<circle cx="243.4" cy="1765" r="5.5" fill="#d3d3d3" stroke="#000" stroke-width="2"/>
<circle cx="243.4" cy="1879.5" r="5.5" fill="#d3d3d3" stroke="#000" stroke-width="2"/>
<line x1="282" y1="1864.25" x2="282" y2="1765" stroke="#000" stroke-width="2.5"/>
<circle cx="282" cy="1765" r="5.5" fill="#d3d3d3" stroke="#000" stroke-width="2"/>
<circle cx="282" cy="1962" r="5.5" fill="#d3d3d3" stroke="#000" stroke-width="2"/>
<line x1="244.5" y1="1749.5" x2="287.5" y2="1749.5" stroke="#000" stroke-width="3"/>
<text x="266" y="1744.5" font-size="33" text-anchor="middle">ns</text>
<text x="240.69" y="2052.5" font-size="32" textLength="44.02" lengthAdjust="spacingAndGlyphs">TIL</text>
<rect x="422.55" y="1864.6" width="23.2" height="147.2" fill="#000" stroke="#000" stroke-width="2.5"/>
<rect x="461.25" y="1891.18" width="23" height="120.62" fill="#0cbf0c" stroke="#000" stroke-width="2.5"/>
<line x1="407.5" y1="1751.25" x2="407.5" y2="2013.05" stroke="#000" stroke-width="2.5"/>
<line x1="406.25" y1="2011.8" x2="498.8" y2="2011.8" stroke="#000" stroke-width="2.5"/>
<line x1="397" y1="2011.8" x2="407.5" y2="2011.8" stroke="#000" stroke-width="2.5"/>
<line x1="397" y1="1946.97" x2="407.5" y2="1946.97" stroke="#000" stroke-width="2.5"/>
<line x1="397" y1="1882.15" x2="407.5" y2="1882.15" stroke="#000" stroke-width="2.5"/>
<line x1="397" y1="1817.33" x2="407.5" y2="1817.33" stroke="#000" stroke-width="2.5"/>
<line x1="397" y1="1752.5" x2="407.5" y2="1752.5" stroke="#000" stroke-width="2.5"/>
<text x="393.8" y="2022.51" font-size="33" text-anchor="end">0</text>
<text x="393.8" y="1957.69" font-size="33" text-anchor="end">10</text>
<text x="393.8" y="1892.87" font-size="33" text-anchor="end">20</text>
<text x="393.8" y="1828.04" font-size="33" text-anchor="end">30</text>
<text x="393.8" y="1763.21" font-size="33" text-anchor="end">40</text>
<line x1="434.15" y1="2011.8" x2="434.15" y2="2020.8" stroke="#000" stroke-width="2.5"/>
<line x1="472.75" y1="2011.8" x2="472.75" y2="2020.8" stroke="#000" stroke-width="2.5"/>
<line x1="434.15" y1="1863.35" x2="434.15" y2="1805" stroke="#000" stroke-width="2.5"/>
<circle cx="434.2" cy="1805" r="5.5" fill="#d3d3d3" stroke="#000" stroke-width="2"/>
<circle cx="434.2" cy="1919.5" r="5.5" fill="#d3d3d3" stroke="#000" stroke-width="2"/>
<line x1="472.75" y1="1889.93" x2="472.75" y2="1802.5" stroke="#000" stroke-width="2.5"/>
<circle cx="472.8" cy="1802.5" r="5.5" fill="#d3d3d3" stroke="#000" stroke-width="2"/>
<circle cx="472.8" cy="1974.5" r="5.5" fill="#d3d3d3" stroke="#000" stroke-width="2"/>
<line x1="436.3" y1="1792.5" x2="472.5" y2="1792.5" stroke="#000" stroke-width="3"/>
<text x="454.4" y="1787.5" font-size="33" text-anchor="middle">ns</text>
<text x="431.89" y="2052.5" font-size="32" textLength="44.02" lengthAdjust="spacingAndGlyphs">TIL</text>
<rect x="609.55" y="1825.04" width="23" height="182.46" fill="#000" stroke="#000" stroke-width="2.5"/>
<rect x="648.75" y="1878.5" width="22" height="129" fill="#0cbf0c" stroke="#000" stroke-width="2.5"/>
<line x1="594.5" y1="1747.05" x2="594.5" y2="2008.75" stroke="#000" stroke-width="2.5"/>
<line x1="593.25" y1="2007.5" x2="686.3" y2="2007.5" stroke="#000" stroke-width="2.5"/>
<line x1="584" y1="2007.5" x2="594.5" y2="2007.5" stroke="#000" stroke-width="2.5"/>
<line x1="584" y1="1942.7" x2="594.5" y2="1942.7" stroke="#000" stroke-width="2.5"/>
<line x1="584" y1="1877.9" x2="594.5" y2="1877.9" stroke="#000" stroke-width="2.5"/>
<line x1="584" y1="1813.1" x2="594.5" y2="1813.1" stroke="#000" stroke-width="2.5"/>
<line x1="584" y1="1748.3" x2="594.5" y2="1748.3" stroke="#000" stroke-width="2.5"/>
<text x="580.8" y="2018.21" font-size="33" text-anchor="end">0</text>
<text x="580.8" y="1953.41" font-size="33" text-anchor="end">20</text>
<text x="580.8" y="1888.62" font-size="33" text-anchor="end">40</text>
<text x="580.8" y="1823.81" font-size="33" text-anchor="end">60</text>
<text x="580.8" y="1759.01" font-size="33" text-anchor="end">80</text>
<line x1="621.05" y1="2007.5" x2="621.05" y2="2016.5" stroke="#000" stroke-width="2.5"/>
<line x1="659.75" y1="2007.5" x2="659.75" y2="2016.5" stroke="#000" stroke-width="2.5"/>
<line x1="621.05" y1="1823.79" x2="621.05" y2="1765" stroke="#000" stroke-width="2.5"/>
<circle cx="621" cy="1765" r="5.5" fill="#d3d3d3" stroke="#000" stroke-width="2"/>
<circle cx="621" cy="1880" r="5.5" fill="#d3d3d3" stroke="#000" stroke-width="2"/>
<line x1="659.75" y1="1877.25" x2="659.75" y2="1787" stroke="#000" stroke-width="2.5"/>
<circle cx="659.8" cy="1787" r="5.5" fill="#d3d3d3" stroke="#000" stroke-width="2"/>
<circle cx="659.8" cy="1965" r="5.5" fill="#d3d3d3" stroke="#000" stroke-width="2"/>
<line x1="627.5" y1="1755" x2="663.8" y2="1755" stroke="#000" stroke-width="3"/>
<text x="645.65" y="1750" font-size="33" text-anchor="middle">ns</text>
<text x="618.19" y="2051.3" font-size="32" textLength="44.02" lengthAdjust="spacingAndGlyphs">TIL</text>
<rect x="845.05" y="1835.04" width="22.5" height="176.76" fill="#000" stroke="#000" stroke-width="2.5"/>
<rect x="884.25" y="1872.38" width="21.5" height="139.42" fill="#0cbf0c" stroke="#000" stroke-width="2.5"/>
<line x1="830" y1="1750.05" x2="830" y2="2013.05" stroke="#000" stroke-width="2.5"/>
<line x1="828.75" y1="2011.8" x2="922" y2="2011.8" stroke="#000" stroke-width="2.5"/>
<line x1="819.5" y1="2011.8" x2="830" y2="2011.8" stroke="#000" stroke-width="2.5"/>
<line x1="819.5" y1="1924.97" x2="830" y2="1924.97" stroke="#000" stroke-width="2.5"/>
<line x1="819.5" y1="1838.13" x2="830" y2="1838.13" stroke="#000" stroke-width="2.5"/>
<line x1="819.5" y1="1751.3" x2="830" y2="1751.3" stroke="#000" stroke-width="2.5"/>
<text x="816.3" y="2022.51" font-size="33" text-anchor="end">0</text>
<text x="816.3" y="1935.68" font-size="33" text-anchor="end">10</text>
<text x="816.3" y="1848.85" font-size="33" text-anchor="end">20</text>
<text x="816.3" y="1762.01" font-size="33" text-anchor="end">30</text>
<line x1="856.3" y1="2011.8" x2="856.3" y2="2020.8" stroke="#000" stroke-width="2.5"/>
<line x1="895" y1="2011.8" x2="895" y2="2020.8" stroke="#000" stroke-width="2.5"/>
<line x1="856.3" y1="1833.79" x2="856.3" y2="1767.5" stroke="#000" stroke-width="2.5"/>
<circle cx="856.3" cy="1767.5" r="5.5" fill="#d3d3d3" stroke="#000" stroke-width="2"/>
<circle cx="856.3" cy="1898" r="5.5" fill="#d3d3d3" stroke="#000" stroke-width="2"/>
<line x1="895" y1="1871.13" x2="895" y2="1767.5" stroke="#000" stroke-width="2.5"/>
<circle cx="895" cy="1767.5" r="5.5" fill="#d3d3d3" stroke="#000" stroke-width="2"/>
<circle cx="895" cy="1973.8" r="5.5" fill="#d3d3d3" stroke="#000" stroke-width="2"/>
<line x1="857" y1="1757" x2="894.5" y2="1757" stroke="#000" stroke-width="3"/>
<text x="875.75" y="1752" font-size="33" text-anchor="middle">ns</text>
<text x="853.91" y="2052" font-size="32" textLength="42.46" lengthAdjust="spacingAndGlyphs">TIL</text>
<text transform="translate(152.5,1980) rotate(-90)" font-size="33" textLength="210" lengthAdjust="spacingAndGlyphs">%IFNγ<tspan font-size="22" dy="-13">+</tspan><tspan dy="13"> [CD8<tspan font-size="22" dy="-13">+</tspan><tspan dy="13">]</tspan></tspan></text>
<text transform="translate(342.5,2026.3) rotate(-90)" font-size="33" textLength="306" lengthAdjust="spacingAndGlyphs">%IFNγ<tspan font-size="22" dy="-13">+</tspan><tspan dy="13"> [CD4<tspan font-size="22" dy="-13">+</tspan><tspan dy="13">Foxp3<tspan font-size="22" dy="-13">−</tspan><tspan dy="13">]</tspan></tspan></tspan></text>
<text transform="translate(528.8,2022.5) rotate(-90)" font-size="33" textLength="307" lengthAdjust="spacingAndGlyphs">%IFNγ<tspan font-size="22" dy="-13">+</tspan><tspan dy="13"> TNFα<tspan font-size="22" dy="-13">+</tspan><tspan dy="13"> [CD8<tspan font-size="22" dy="-13">+</tspan><tspan dy="13">]</tspan></tspan></tspan></text>
<text transform="translate(718.8,1978.8) rotate(-90)" font-size="33" textLength="206" lengthAdjust="spacingAndGlyphs">%IFNγ<tspan font-size="22" dy="-13">+</tspan><tspan dy="13"> TNFα<tspan font-size="22" dy="-13">+</tspan><tspan dy="13"></tspan></tspan></text>
<text transform="translate(765,1973.8) rotate(-90)" font-size="33" textLength="196" lengthAdjust="spacingAndGlyphs">[CD4<tspan font-size="22" dy="-13">+</tspan><tspan dy="13">Foxp3<tspan font-size="22" dy="-13">−</tspan><tspan dy="13">]</tspan></tspan></text>
<rect x="931.3" y="1827" width="26.2" height="24.3" fill="#000" stroke="#000" stroke-width="1"/>
<rect x="932.5" y="1869.9" width="24" height="21.5" fill="#0cbf0c" stroke="#000" stroke-width="2.5"/>
<text x="971.31" y="1850" font-size="33" textLength="69.25" lengthAdjust="spacingAndGlyphs">H2O</text>
<text x="972.72" y="1891.5" font-size="33" textLength="65.93" lengthAdjust="spacingAndGlyphs">3MP</text>
<text x="1112.74" y="1680.7" font-size="64">l</text>
<text x="1393.5" y="1690.6" font-size="35" font-style="italic" textLength="287" lengthAdjust="spacingAndGlyphs">Slc16a1<tspan font-size="23" dy="-12">f/f</tspan><tspan dy="12">Foxp3</tspan><tspan font-size="23" dy="-12">Cre</tspan></text>
<line x1="1292" y1="1703.3" x2="1740" y2="1703.3" stroke="#000" stroke-width="3.6"/>
<rect x="1219.25" y="1884.75" width="22.9" height="127.75" fill="#000" stroke="#000" stroke-width="2.5"/>
<rect x="1258.55" y="1896.48" width="22.3" height="116.02" fill="#0cbf0c" stroke="#000" stroke-width="2.5"/>
<rect x="1297.45" y="1821.88" width="22.9" height="190.62" fill="#000" stroke="#000" stroke-width="2.5"/>
<rect x="1337.05" y="1924.49" width="22" height="88.01" fill="#0cbf0c" stroke="#000" stroke-width="2.5"/>
<line x1="1205.9" y1="1750.65" x2="1205.9" y2="2013.75" stroke="#000" stroke-width="2.5"/>
<line x1="1204.65" y1="2012.5" x2="1375.3" y2="2012.5" stroke="#000" stroke-width="2.5"/>
<line x1="1195.4" y1="2012.5" x2="1205.9" y2="2012.5" stroke="#000" stroke-width="2.5"/>
<line x1="1195.4" y1="1947.35" x2="1205.9" y2="1947.35" stroke="#000" stroke-width="2.5"/>
<line x1="1195.4" y1="1882.2" x2="1205.9" y2="1882.2" stroke="#000" stroke-width="2.5"/>
<line x1="1195.4" y1="1817.05" x2="1205.9" y2="1817.05" stroke="#000" stroke-width="2.5"/>
<line x1="1195.4" y1="1751.9" x2="1205.9" y2="1751.9" stroke="#000" stroke-width="2.5"/>
<text x="1192.2" y="2023.21" font-size="33" text-anchor="end">0</text>
<text x="1192.2" y="1958.06" font-size="33" text-anchor="end">2</text>
<text x="1192.2" y="1892.91" font-size="33" text-anchor="end">4</text>
<text x="1192.2" y="1827.77" font-size="33" text-anchor="end">6</text>
<text x="1192.2" y="1762.62" font-size="33" text-anchor="end">8</text>
<line x1="1230.7" y1="2012.5" x2="1230.7" y2="2021.5" stroke="#000" stroke-width="2.5"/>
<line x1="1269.7" y1="2012.5" x2="1269.7" y2="2021.5" stroke="#000" stroke-width="2.5"/>
<line x1="1308.9" y1="2012.5" x2="1308.9" y2="2021.5" stroke="#000" stroke-width="2.5"/>
<line x1="1348.05" y1="2012.5" x2="1348.05" y2="2021.5" stroke="#000" stroke-width="2.5"/>
<circle cx="1222.8" cy="1882" r="5" fill="#d3d3d3" stroke="#000" stroke-width="2"/>
<circle cx="1230.4" cy="1878.3" r="5" fill="#d3d3d3" stroke="#000" stroke-width="2"/>
<circle cx="1238.9" cy="1880.3" r="5" fill="#d3d3d3" stroke="#000" stroke-width="2"/>
<line x1="1269.7" y1="1895.23" x2="1269.7" y2="1880.9" stroke="#000" stroke-width="2.5"/>
<line x1="1263.7" y1="1880.9" x2="1275.7" y2="1880.9" stroke="#000" stroke-width="2.5"/>
<circle cx="1269.4" cy="1875.5" r="5" fill="#d3d3d3" stroke="#000" stroke-width="2"/>
<circle cx="1269.4" cy="1889.6" r="5" fill="#d3d3d3" stroke="#000" stroke-width="2"/>
<circle cx="1269.4" cy="1917" r="5" fill="#d3d3d3" stroke="#000" stroke-width="2"/>
<line x1="1308.9" y1="1820.63" x2="1308.9" y2="1776.7" stroke="#000" stroke-width="2.5"/>
<circle cx="1308.4" cy="1776.7" r="5" fill="#d3d3d3" stroke="#000" stroke-width="2"/>
<circle cx="1308.4" cy="1863.4" r="5" fill="#d3d3d3" stroke="#000" stroke-width="2"/>
<line x1="1348.05" y1="1923.24" x2="1348.05" y2="1900.9" stroke="#000" stroke-width="2.5"/>
<circle cx="1347.6" cy="1900.9" r="5" fill="#d3d3d3" stroke="#000" stroke-width="2"/>
<circle cx="1347.6" cy="1943.3" r="5" fill="#d3d3d3" stroke="#000" stroke-width="2"/>
<line x1="1314.6" y1="1761.7" x2="1367.7" y2="1761.7" stroke="#000" stroke-width="3"/>
<text x="1326.58" y="1759.8" font-size="33" textLength="34.39" lengthAdjust="spacingAndGlyphs">ns</text>
<line x1="1219.1" y1="2035.9" x2="1277.3" y2="2035.9" stroke="#000" stroke-width="3.5"/>
<line x1="1297.6" y1="2035.9" x2="1355.5" y2="2035.9" stroke="#000" stroke-width="3.5"/>
<text x="1227.64" y="2068.9" font-size="32" textLength="44.03" lengthAdjust="spacingAndGlyphs">LN</text>
<text x="1305.49" y="2068.9" font-size="32" textLength="43.91" lengthAdjust="spacingAndGlyphs">TIL</text>
<text x="0" y="0" font-size="33" transform="translate(1159.3,1981.61) rotate(-90)" textLength="210.43" lengthAdjust="spacingAndGlyphs">CD8:Treg ratio</text>
<rect x="1469.15" y="1820.84" width="22.9" height="189.66" fill="#000" stroke="#000" stroke-width="2.5"/>
<rect x="1508.35" y="1839.56" width="22.4" height="170.94" fill="#0cbf0c" stroke="#000" stroke-width="2.5"/>
<rect x="1547.35" y="1943.6" width="22.3" height="66.9" fill="#000" stroke="#000" stroke-width="2.5"/>
<rect x="1586.25" y="1957.13" width="23" height="53.37" fill="#0cbf0c" stroke="#000" stroke-width="2.5"/>
<line x1="1455.2" y1="1749.15" x2="1455.2" y2="2011.75" stroke="#000" stroke-width="2.5"/>
<line x1="1453.95" y1="2010.5" x2="1624.6" y2="2010.5" stroke="#000" stroke-width="2.5"/>
<line x1="1444.7" y1="2010.5" x2="1455.2" y2="2010.5" stroke="#000" stroke-width="2.5"/>
<line x1="1444.7" y1="1958.48" x2="1455.2" y2="1958.48" stroke="#000" stroke-width="2.5"/>
<line x1="1444.7" y1="1906.46" x2="1455.2" y2="1906.46" stroke="#000" stroke-width="2.5"/>
<line x1="1444.7" y1="1854.44" x2="1455.2" y2="1854.44" stroke="#000" stroke-width="2.5"/>
<line x1="1444.7" y1="1802.42" x2="1455.2" y2="1802.42" stroke="#000" stroke-width="2.5"/>
<line x1="1444.7" y1="1750.4" x2="1455.2" y2="1750.4" stroke="#000" stroke-width="2.5"/>
<text x="1441.5" y="2021.21" font-size="33" text-anchor="end">0</text>
<text x="1441.5" y="1969.19" font-size="33" text-anchor="end">1</text>
<text x="1441.5" y="1917.17" font-size="33" text-anchor="end">2</text>
<text x="1441.5" y="1865.15" font-size="33" text-anchor="end">3</text>
<text x="1441.5" y="1813.13" font-size="33" text-anchor="end">4</text>
<text x="1441.5" y="1761.12" font-size="33" text-anchor="end">5</text>
<line x1="1480.6" y1="2010.5" x2="1480.6" y2="2019.5" stroke="#000" stroke-width="2.5"/>
<line x1="1519.55" y1="2010.5" x2="1519.55" y2="2019.5" stroke="#000" stroke-width="2.5"/>
<line x1="1558.5" y1="2010.5" x2="1558.5" y2="2019.5" stroke="#000" stroke-width="2.5"/>
<line x1="1597.75" y1="2010.5" x2="1597.75" y2="2019.5" stroke="#000" stroke-width="2.5"/>
<line x1="1480.6" y1="1819.59" x2="1480.6" y2="1807.1" stroke="#000" stroke-width="2.5"/>
<line x1="1474.6" y1="1807.1" x2="1486.6" y2="1807.1" stroke="#000" stroke-width="2.5"/>
<circle cx="1481.2" cy="1797" r="5" fill="#d3d3d3" stroke="#000" stroke-width="2"/>
<circle cx="1481.2" cy="1821.3" r="5" fill="#d3d3d3" stroke="#000" stroke-width="2"/>
<circle cx="1481.2" cy="1839.7" r="5" fill="#d3d3d3" stroke="#000" stroke-width="2"/>
<line x1="1519.55" y1="1838.31" x2="1519.55" y2="1806.06" stroke="#000" stroke-width="2.5"/>
<line x1="1513.55" y1="1806.06" x2="1525.55" y2="1806.06" stroke="#000" stroke-width="2.5"/>
<circle cx="1519.8" cy="1787.1" r="5" fill="#d3d3d3" stroke="#000" stroke-width="2"/>
<circle cx="1519.8" cy="1827.5" r="5" fill="#d3d3d3" stroke="#000" stroke-width="2"/>
<circle cx="1519.8" cy="1898.1" r="5" fill="#d3d3d3" stroke="#000" stroke-width="2"/>
<circle cx="1550.9" cy="1944.7" r="5" fill="#d3d3d3" stroke="#000" stroke-width="2"/>
<circle cx="1566.4" cy="1941.9" r="5" fill="#d3d3d3" stroke="#000" stroke-width="2"/>
<line x1="1597.75" y1="1955.88" x2="1597.75" y2="1949.12" stroke="#000" stroke-width="2.5"/>
<line x1="1591.75" y1="1949.12" x2="1603.75" y2="1949.12" stroke="#000" stroke-width="2.5"/>
<circle cx="1589.9" cy="1958.8" r="5" fill="#d3d3d3" stroke="#000" stroke-width="2"/>
<circle cx="1605.4" cy="1949.8" r="5" fill="#d3d3d3" stroke="#000" stroke-width="2"/>
<line x1="1468.5" y1="2033.6" x2="1526.9" y2="2033.6" stroke="#000" stroke-width="3.5"/>
<line x1="1547.5" y1="2033.6" x2="1605.4" y2="2033.6" stroke="#000" stroke-width="3.5"/>
<text x="1478.47" y="2068" font-size="32" textLength="43.68" lengthAdjust="spacingAndGlyphs">LN</text>
<text x="1556.81" y="2068" font-size="32" textLength="42.36" lengthAdjust="spacingAndGlyphs">TIL</text>
<text x="0" y="0" font-size="31" transform="translate(1402,1987.64) rotate(-90)" textLength="227.8" lengthAdjust="spacingAndGlyphs">Tconv:Treg ratio</text>
<rect x="1741.75" y="1898.82" width="22.5" height="106.18" fill="#000" stroke="#000" stroke-width="2.5"/>
<rect x="1780.25" y="1881.69" width="22.5" height="123.31" fill="#0cbf0c" stroke="#000" stroke-width="2.5"/>
<rect x="1819.25" y="1806.95" width="23" height="198.05" fill="#000" stroke="#000" stroke-width="2.5"/>
<rect x="1858.25" y="1765.95" width="22.3" height="239.05" fill="#0cbf0c" stroke="#000" stroke-width="2.5"/>
<line x1="1726.8" y1="1744.25" x2="1726.8" y2="2006.25" stroke="#000" stroke-width="2.5"/>
<line x1="1725.55" y1="2005" x2="1896.3" y2="2005" stroke="#000" stroke-width="2.5"/>
<line x1="1716.3" y1="2005" x2="1726.8" y2="2005" stroke="#000" stroke-width="2.5"/>
<line x1="1716.3" y1="1953.1" x2="1726.8" y2="1953.1" stroke="#000" stroke-width="2.5"/>
<line x1="1716.3" y1="1901.2" x2="1726.8" y2="1901.2" stroke="#000" stroke-width="2.5"/>
<line x1="1716.3" y1="1849.3" x2="1726.8" y2="1849.3" stroke="#000" stroke-width="2.5"/>
<line x1="1716.3" y1="1797.4" x2="1726.8" y2="1797.4" stroke="#000" stroke-width="2.5"/>
<line x1="1716.3" y1="1745.5" x2="1726.8" y2="1745.5" stroke="#000" stroke-width="2.5"/>
<text x="1713.1" y="2015.71" font-size="33" text-anchor="end">0</text>
<text x="1713.1" y="1963.81" font-size="33" text-anchor="end">10</text>
<text x="1713.1" y="1911.91" font-size="33" text-anchor="end">20</text>
<text x="1713.1" y="1860.01" font-size="33" text-anchor="end">30</text>
<text x="1713.1" y="1808.12" font-size="33" text-anchor="end">40</text>
<text x="1713.1" y="1756.21" font-size="33" text-anchor="end">50</text>
<line x1="1753" y1="2005" x2="1753" y2="2014" stroke="#000" stroke-width="2.5"/>
<line x1="1791.5" y1="2005" x2="1791.5" y2="2014" stroke="#000" stroke-width="2.5"/>
<line x1="1830.75" y1="2005" x2="1830.75" y2="2014" stroke="#000" stroke-width="2.5"/>
<line x1="1869.4" y1="2005" x2="1869.4" y2="2014" stroke="#000" stroke-width="2.5"/>
<circle cx="1744.8" cy="1903" r="5" fill="#d3d3d3" stroke="#000" stroke-width="2"/>
<circle cx="1752.5" cy="1892.5" r="5" fill="#d3d3d3" stroke="#000" stroke-width="2"/>
<circle cx="1760.5" cy="1894" r="5" fill="#d3d3d3" stroke="#000" stroke-width="2"/>
<line x1="1791.5" y1="1880.44" x2="1791.5" y2="1860.72" stroke="#000" stroke-width="2.5"/>
<line x1="1785.5" y1="1860.72" x2="1797.5" y2="1860.72" stroke="#000" stroke-width="2.5"/>
<circle cx="1791.8" cy="1842" r="5" fill="#d3d3d3" stroke="#000" stroke-width="2"/>
<circle cx="1791.8" cy="1890" r="5" fill="#d3d3d3" stroke="#000" stroke-width="2"/>
<circle cx="1791.8" cy="1906.5" r="5" fill="#d3d3d3" stroke="#000" stroke-width="2"/>
<line x1="1830.75" y1="1805.7" x2="1830.75" y2="1776.3" stroke="#000" stroke-width="2.5"/>
<circle cx="1830.5" cy="1776.3" r="5" fill="#d3d3d3" stroke="#000" stroke-width="2"/>
<circle cx="1830.5" cy="1834.5" r="5" fill="#d3d3d3" stroke="#000" stroke-width="2"/>
<circle cx="1862.3" cy="1764.5" r="5" fill="#d3d3d3" stroke="#000" stroke-width="2"/>
<circle cx="1877.3" cy="1761.3" r="5" fill="#d3d3d3" stroke="#000" stroke-width="2"/>
<line x1="1741" y1="2028" x2="1798.8" y2="2028" stroke="#000" stroke-width="3.5"/>
<line x1="1819.3" y1="2028" x2="1877.5" y2="2028" stroke="#000" stroke-width="3.5"/>
<text x="1750.31" y="2063.8" font-size="32" textLength="42.99" lengthAdjust="spacingAndGlyphs">LN</text>
<text x="1828.71" y="2063.8" font-size="32" textLength="42.67" lengthAdjust="spacingAndGlyphs">TIL</text>
<text transform="translate(1660,2022.9) rotate(-90)" font-size="33" textLength="309" lengthAdjust="spacingAndGlyphs">%Foxp3<tspan font-size="22" dy="-13">+</tspan><tspan dy="13"> [Total CD4<tspan font-size="22" dy="-13">+</tspan><tspan dy="13">]</tspan></tspan></text>
<rect x="1895.5" y="1813.3" width="26.8" height="25" fill="#000" stroke="#000" stroke-width="1"/>
<rect x="1896.8" y="1865" width="24.2" height="21.3" fill="#0cbf0c" stroke="#000" stroke-width="2.5"/>
<text x="1939.3" y="1835" font-size="33"><tspan>H</tspan><tspan font-size="22" dy="8">2</tspan><tspan dy="-8">O</tspan></text>
<text x="1937.98" y="1886.3" font-size="33" textLength="67.7" lengthAdjust="spacingAndGlyphs">3MP</text>
</svg></body></html>
